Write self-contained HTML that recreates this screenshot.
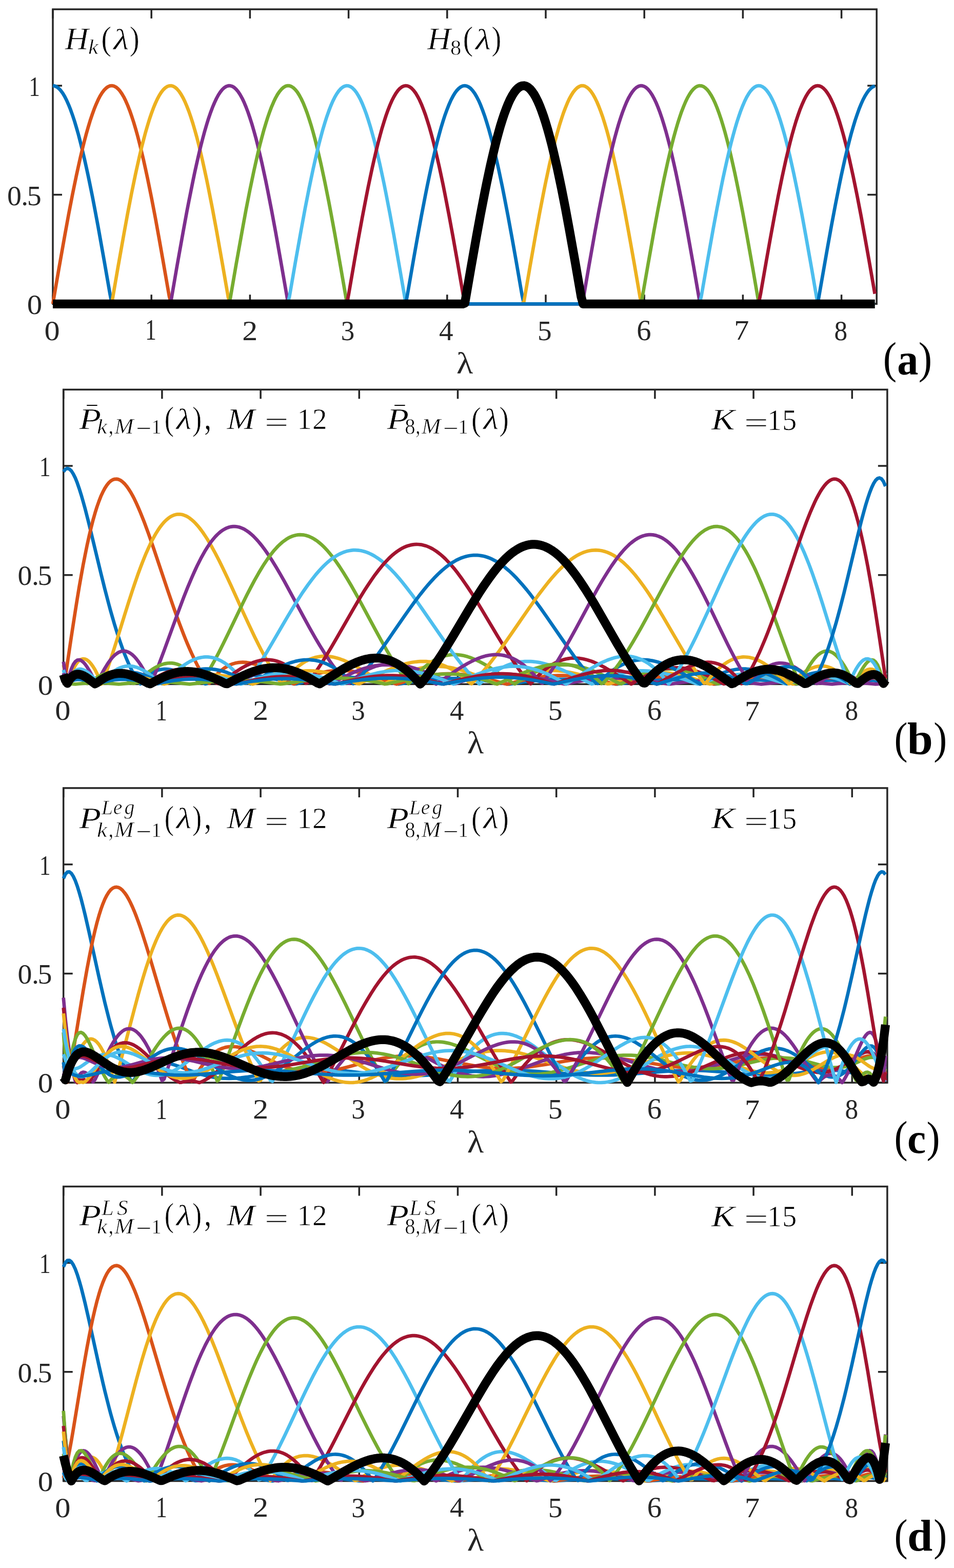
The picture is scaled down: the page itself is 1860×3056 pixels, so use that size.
<!DOCTYPE html>
<html lang="en"><head><meta charset="utf-8"><title>Polynomial approximations of spectral band-pass functions</title>
<style>
html,body{margin:0;padding:0;background:#fff}
svg{display:block}
.p path{fill:none;stroke-linejoin:round;stroke-linecap:butt}
text{font-family:"Liberation Serif","DejaVu Serif",serif;fill:#262626}
.m{font-style:italic;fill:#000;stroke:#fff;stroke-width:.7px;vector-effect:non-scaling-stroke}
.r{font-style:normal}
.b{font-style:normal;font-weight:bold}
.x{fill:#262626;stroke:none}
.b,.n{stroke:none}
</style></head>
<body>
<svg width="1860" height="3056" viewBox="0 0 1860 3056">
<rect width="1860" height="3056" fill="#fff"/>
<g class="p"><rect x="103.0" y="18.1" width="1606.20" height="574.20" fill="none" stroke="#262626" stroke-width="3.5"/>
<path d="M103.0 592.3v-18M103.0 18.1v18M295.2 592.3v-18M295.2 18.1v18M487.4 592.3v-18M487.4 18.1v18M679.6 592.3v-18M679.6 18.1v18M871.8 592.3v-18M871.8 18.1v18M1064.0 592.3v-18M1064.0 18.1v18M1256.2 592.3v-18M1256.2 18.1v18M1448.4 592.3v-18M1448.4 18.1v18M1640.6 592.3v-18M1640.6 18.1v18M103.0 592.3h18M1709.2 592.3h-18M103.0 379.6h18M1709.2 379.6h-18M103.0 167.0h18M1709.2 167.0h-18" fill="none" stroke="#262626" stroke-width="3.5"/>
<path d="M103 167L106.8 167.6L110.7 169.4L114.5 172.3L118.4 176.4L122.2 181.6L126.1 188L129.9 195.5L133.7 204.1L137.6 213.8L141.4 224.5L145.3 236.3L149.1 249L153 262.7L156.8 277.3L160.6 292.8L164.5 309.1L168.3 326.1L172.2 344L176 362.5L179.9 381.6L183.7 401.3L191.4 442.3L202.9 506.8L214.5 573.3L218.3 592.3L1705.7 592.3" stroke="#0072BD" stroke-width="6.7"/>
<path d="M103 592.3L114.5 525.4L126.1 460.2L133.7 418.5L141.4 378.7L145.3 359.6L149.1 341.2L153 323.5L156.8 306.5L160.6 290.4L164.5 275L168.3 260.6L172.2 247L176 234.4L179.9 222.9L183.7 212.3L187.6 202.8L191.4 194.3L195.2 187L199.1 180.8L202.9 175.7L206.8 171.8L210.6 169L214.5 167.4L218.3 167L222.1 167.8L226 169.7L229.8 172.8L233.7 177.1L237.5 182.5L241.4 189.1L245.2 196.8L249 205.5L252.9 215.4L256.7 226.3L260.6 238.2L264.4 251L268.3 264.9L272.1 279.6L275.9 295.2L279.8 311.6L283.6 328.8L287.5 346.7L291.3 365.3L295.2 384.6L302.9 424.7L310.5 466.7L318.2 510.1L329.8 576.7L333.6 592.3L1705.7 592.3" stroke="#D95319" stroke-width="6.7"/>
<path d="M103 592.3L214.5 592.3L218.3 588.9L229.8 522.1L241.4 457L249 415.4L256.7 375.7L260.6 356.8L264.4 338.5L268.3 320.9L272.1 304L275.9 288L279.8 272.8L283.6 258.5L287.5 245.1L291.3 232.6L295.2 221.2L299 210.8L302.9 201.4L306.7 193.1L310.5 186L314.4 179.9L318.2 175L322.1 171.3L325.9 168.7L329.8 167.3L333.6 167.1L337.4 168L341.3 170.1L345.1 173.4L349 177.9L352.8 183.5L356.7 190.2L360.5 198L364.3 207L368.2 217L372 228L375.9 240.1L379.7 253.1L383.6 267L387.4 281.9L391.2 297.6L395.1 314.2L398.9 331.5L402.8 349.5L406.6 368.2L414.3 407.4L422 448.7L433.5 513.4L445.1 580.1L448.9 592.3L1705.7 592.3" stroke="#EDB120" stroke-width="6.7"/>
<path d="M103 592.3L329.8 592.3L333.6 585.5L345.1 518.7L356.7 453.8L364.3 412.3L368.2 392.3L375.9 354L379.7 335.8L383.6 318.3L387.4 301.5L391.2 285.6L395.1 270.5L398.9 256.4L402.8 243.1L406.6 230.8L410.5 219.5L414.3 209.3L418.2 200.1L422 192L425.8 185L429.7 179.1L433.5 174.4L437.4 170.8L441.2 168.4L445.1 167.2L448.9 167.1L452.7 168.2L456.6 170.5L460.4 174L464.3 178.6L468.1 184.4L472 191.3L475.8 199.3L479.6 208.4L483.5 218.6L487.3 229.8L491.2 242L495 255.1L498.9 269.2L502.7 284.2L506.5 300.1L510.4 316.8L514.2 334.2L518.1 352.3L521.9 371.1L529.6 410.5L537.3 451.9L548.8 516.8L560.4 583.5L564.2 592.3L1705.7 592.3" stroke="#7E2F8E" stroke-width="6.7"/>
<path d="M103 592.3L445.1 592.3L448.9 582.1L460.4 515.4L472 450.6L479.6 409.2L487.3 369.9L491.2 351.2L495 333.1L498.9 315.7L502.7 299.1L506.5 283.3L510.4 268.3L514.2 254.3L518.1 241.2L521.9 229L525.8 217.9L529.6 207.8L533.5 198.8L537.3 190.8L541.1 184L545 178.3L548.8 173.8L552.7 170.4L556.5 168.1L560.4 167.1L564.2 167.2L568 168.5L571.9 171L575.7 174.6L579.6 179.4L583.4 185.4L587.3 192.5L591.1 200.6L594.9 209.9L598.8 220.2L602.6 231.6L606.5 243.9L610.3 257.2L614.2 271.5L618 286.6L621.8 302.6L625.7 319.3L629.5 336.9L633.4 355.1L641.1 393.5L644.9 413.6L652.6 455.1L664.1 520.1L675.7 586.9L679.5 592.3L1705.7 592.3" stroke="#77AC30" stroke-width="6.7"/>
<path d="M103 592.3L560.4 592.3L564.2 578.7L575.7 512.1L587.3 447.4L594.9 406.2L602.6 367L606.5 348.4L610.3 330.4L614.2 313.1L618 296.6L621.8 281L625.7 266.1L629.5 252.2L633.4 239.3L637.2 227.3L641.1 216.3L644.9 206.4L648.7 197.5L652.6 189.7L656.4 183.1L660.3 177.5L664.1 173.2L668 170L671.8 167.9L675.7 167L679.5 167.3L683.3 168.8L687.2 171.5L691 175.3L694.9 180.3L698.7 186.4L702.6 193.6L706.4 202L710.2 211.4L714.1 221.9L717.9 233.4L721.8 245.9L725.6 259.3L729.5 273.7L733.3 289L737.1 305.1L741 322L744.8 339.6L748.7 357.9L752.5 376.9L760.2 416.7L767.9 458.3L779.4 523.5L791 590.3L794.8 592.3L1705.7 592.3" stroke="#4DBEEE" stroke-width="6.7"/>
<path d="M103 592.3L675.7 592.3L679.5 575.3L691 508.7L698.7 465.4L706.4 423.4L714.1 383.4L717.9 364.2L721.8 345.6L725.6 327.7L729.5 310.6L733.3 294.2L737.1 278.7L741 264L744.8 250.2L748.7 237.4L752.5 225.6L756.4 214.7L760.2 205L764 196.3L767.9 188.7L771.7 182.2L775.6 176.8L779.4 172.6L783.3 169.6L787.1 167.7L791 167L794.8 167.5L798.6 169.1L802.5 172L806.3 176L810.2 181.1L814 187.4L817.9 194.8L821.7 203.3L825.5 212.9L829.4 223.5L833.2 235.2L837.1 247.8L840.9 261.4L844.8 276L848.6 291.4L852.4 307.6L856.3 324.6L860.1 342.3L864 360.8L867.8 379.9L875.5 419.8L883.2 461.6L890.9 504.8L902.4 571.3L906.3 592.3L1705.7 592.3" stroke="#A2142F" stroke-width="6.7"/>
<path d="M103 592.3L791 592.3L794.8 571.9L806.3 505.4L814 462.1L821.7 420.3L829.4 380.4L833.2 361.3L837.1 342.8L840.9 325.1L844.8 308L848.6 291.8L852.4 276.4L856.3 261.8L860.1 248.2L864 235.5L867.8 223.8L871.7 213.2L875.5 203.6L879.3 195L883.2 187.6L887 181.3L890.9 176.1L894.7 172.1L898.6 169.2L902.4 167.5L906.3 167L910.1 167.7L913.9 169.5L917.8 172.5L921.6 176.7L925.5 182L929.3 188.5L933.2 196L937 204.7L940.8 214.5L944.7 225.3L948.5 237.1L952.4 249.9L956.2 263.6L960.1 278.2L963.9 293.8L967.7 310.1L971.6 327.2L975.4 345.1L979.3 363.6L983.1 382.8L990.8 422.9L998.5 464.8L1006.2 508.1L1017.7 574.7L1021.6 592.3L1705.7 592.3" stroke="#0072BD" stroke-width="6.7"/>
<path d="M103 592.3L1017.7 592.3L1021.6 587.5L1033.1 520.7L1044.6 455.7L1052.3 414.1L1060 374.5L1063.8 355.6L1067.7 337.4L1071.5 319.8L1075.4 303L1079.2 287L1083 271.9L1086.9 257.6L1090.7 244.3L1094.6 231.9L1098.4 220.5L1102.3 210.2L1106.1 200.9L1109.9 192.7L1113.8 185.6L1117.6 179.6L1121.5 174.8L1125.3 171.1L1129.2 168.6L1133 167.2L1136.9 167.1L1140.7 168.1L1144.5 170.3L1148.4 173.7L1152.2 178.2L1156.1 183.8L1159.9 190.6L1163.8 198.6L1167.6 207.6L1171.4 217.6L1175.3 228.7L1179.1 240.8L1183 253.9L1186.8 267.9L1190.7 282.9L1194.5 298.6L1198.3 315.2L1202.2 332.6L1206 350.7L1209.9 369.4L1217.6 408.7L1225.2 450L1236.8 514.8L1248.3 581.5L1252.1 592.3L1705.7 592.3" stroke="#EDB120" stroke-width="6.7"/>
<path d="M103 592.3L1133 592.3L1136.9 584.1L1148.4 517.4L1159.9 452.5L1167.6 411L1175.3 371.6L1179.1 352.8L1183 334.7L1186.8 317.2L1190.7 300.5L1194.5 284.7L1198.3 269.6L1202.2 255.5L1206 242.3L1209.9 230.1L1213.7 218.9L1217.6 208.7L1221.4 199.5L1225.2 191.5L1229.1 184.6L1232.9 178.8L1236.8 174.1L1240.6 170.6L1244.5 168.3L1248.3 167.1L1252.1 167.2L1256 168.4L1259.8 170.7L1263.7 174.3L1267.5 179L1271.4 184.8L1275.2 191.8L1279.1 199.9L1282.9 209L1286.7 219.2L1290.6 230.5L1294.4 242.8L1298.3 256L1302.1 270.2L1306 285.2L1309.8 301.1L1313.6 317.8L1317.5 335.3L1321.3 353.5L1329 391.8L1332.9 411.8L1340.5 453.2L1352.1 518.1L1363.6 584.9L1367.4 592.3L1705.7 592.3" stroke="#7E2F8E" stroke-width="6.7"/>
<path d="M103 592.3L1248.3 592.3L1252.1 580.7L1263.7 514L1275.2 449.3L1282.9 408L1290.6 368.7L1294.4 350L1298.3 332L1302.1 314.6L1306 298.1L1309.8 282.3L1313.6 267.4L1317.5 253.4L1321.3 240.4L1325.2 228.3L1329 217.2L1332.9 207.2L1336.7 198.3L1340.5 190.4L1344.4 183.6L1348.2 178L1352.1 173.5L1355.9 170.2L1359.8 168L1363.6 167.1L1367.4 167.3L1371.3 168.6L1375.1 171.2L1379 174.9L1382.8 179.8L1386.7 185.8L1390.5 192.9L1394.4 201.2L1398.2 210.5L1402 220.9L1405.9 232.3L1409.7 244.7L1413.6 258.1L1417.4 272.4L1421.3 287.6L1425.1 303.6L1428.9 320.4L1432.8 338L1436.6 356.3L1440.5 375.2L1448.2 414.8L1455.8 456.4L1467.4 521.5L1478.9 588.3L1482.7 592.3L1705.7 592.3" stroke="#77AC30" stroke-width="6.7"/>
<path d="M103 592.3L1363.6 592.3L1367.4 577.3L1379 510.7L1390.5 446.1L1398.2 404.9L1405.9 365.8L1409.7 347.2L1413.6 329.3L1417.4 312.1L1421.3 295.6L1425.1 280L1428.9 265.3L1432.8 251.4L1436.6 238.5L1440.5 226.6L1444.3 215.7L1448.2 205.8L1452 197L1455.8 189.3L1459.7 182.7L1463.5 177.2L1467.4 172.9L1471.2 169.8L1475.1 167.8L1478.9 167L1482.7 167.4L1486.6 169L1490.4 171.7L1494.3 175.6L1498.1 180.6L1502 186.8L1505.8 194.1L1509.7 202.5L1513.5 212L1517.3 222.6L1521.2 234.1L1525 246.7L1528.9 260.2L1532.7 274.6L1536.6 289.9L1540.4 306.1L1544.2 323L1548.1 340.7L1551.9 359.1L1555.8 378.1L1563.5 417.9L1571.1 459.7L1582.7 524.8L1594.2 591.7L1598 592.3L1705.7 592.3" stroke="#4DBEEE" stroke-width="6.7"/>
<path d="M103 592.3L1478.9 592.3L1482.7 573.9L1494.3 507.3L1502 464L1509.7 422.1L1517.3 382.1L1521.2 363L1525 344.5L1528.9 326.6L1532.7 309.5L1536.6 293.2L1540.4 277.7L1544.2 263.1L1548.1 249.4L1551.9 236.6L1555.8 224.9L1559.6 214.1L1563.5 204.4L1567.3 195.8L1571.1 188.2L1575 181.8L1578.8 176.5L1582.7 172.4L1586.5 169.4L1590.4 167.6L1594.2 167L1598 167.6L1601.9 169.3L1605.7 172.2L1609.6 176.3L1613.4 181.5L1617.3 187.8L1621.1 195.3L1625 203.9L1628.8 213.5L1632.6 224.2L1636.5 236L1640.3 248.7L1644.2 262.3L1648 276.9L1651.9 292.3L1655.7 308.6L1659.5 325.7L1663.4 343.5L1667.2 362L1671.1 381.1L1678.8 421L1686.4 462.9L1694.1 506.2L1705.7 572.7" stroke="#A2142F" stroke-width="6.7"/>
<path d="M103 592.3L1594.2 592.3L1613.4 482.3L1621.1 439.7L1628.8 398.8L1636.5 360.1L1640.3 341.7L1644.2 324L1648 307L1651.9 290.8L1655.7 275.4L1659.5 260.9L1663.4 247.4L1667.2 234.8L1671.1 223.2L1674.9 212.6L1678.8 203L1682.6 194.5L1686.4 187.2L1690.3 180.9L1694.1 175.8L1698 171.9L1701.8 169.1L1705.7 167.5" stroke="#0072BD" stroke-width="6.7"/>
<path d="M103 592.3L902.4 592.3L906.3 590.9L917.8 524.1L929.3 458.9L937 417.2L944.7 377.5L948.5 358.5L952.4 340.1L956.2 322.4L960.1 305.5L963.9 289.4L967.7 274.1L971.6 259.7L975.4 246.2L979.3 233.7L983.1 222.2L987 211.7L990.8 202.2L994.6 193.8L998.5 186.6L1002.3 180.4L1006.2 175.4L1010 171.6L1013.9 168.9L1017.7 167.4L1021.6 167L1025.4 167.9L1029.2 169.9L1033.1 173.1L1036.9 177.4L1040.8 182.9L1044.6 189.5L1048.5 197.3L1052.3 206.1L1056.1 216L1060 227L1063.8 238.9L1067.7 251.9L1071.5 265.8L1075.4 280.5L1079.2 296.2L1083 312.7L1086.9 329.9L1090.7 347.9L1094.6 366.5L1102.3 405.6L1109.9 446.8L1121.5 511.5L1133 578.1L1136.9 592.3L1705.7 592.3" stroke="#000" stroke-width="17.3"/></g>
<g class="p"><rect x="123.7" y="759.3" width="1606.20" height="574.10" fill="none" stroke="#262626" stroke-width="3.5"/>
<path d="M123.7 1333.4v-18M123.7 759.3v18M315.9 1333.4v-18M315.9 759.3v18M508.1 1333.4v-18M508.1 759.3v18M700.3 1333.4v-18M700.3 759.3v18M892.5 1333.4v-18M892.5 759.3v18M1084.7 1333.4v-18M1084.7 759.3v18M1276.9 1333.4v-18M1276.9 759.3v18M1469.1 1333.4v-18M1469.1 759.3v18M1661.3 1333.4v-18M1661.3 759.3v18M123.7 1333.4h18M1729.9 1333.4h-18M123.7 1120.8h18M1729.9 1120.8h-18M123.7 908.1h18M1729.9 908.1h-18" fill="none" stroke="#262626" stroke-width="3.5"/>
<path d="M123.7 919.3L127.5 914.5L131.4 912.9L135.2 914.1L139.1 917.8L142.9 923.7L146.8 931.6L150.6 941.1L154.4 952.1L158.3 964.4L162.1 977.6L166 991.7L169.8 1006.5L173.7 1021.8L196.7 1117.2L204.4 1148.1L212.1 1177.5L215.9 1191.5L219.8 1205L223.6 1218.1L227.5 1230.5L231.3 1242.4L235.2 1253.7L239 1264.4L242.8 1274.5L246.7 1284L250.5 1292.9L254.4 1301.2L258.2 1308.9L262.1 1316L265.9 1322.5L269.7 1328.5L273.6 1332.9L277.4 1328L281.3 1323.7L285.1 1319.8L289 1316.5L292.8 1313.6L296.6 1311.1L300.5 1309L304.3 1307.4L308.2 1306.1L312 1305.1L315.9 1304.5L319.7 1304.2L323.6 1304.1L327.4 1304.4L331.2 1304.8L335.1 1305.5L338.9 1306.4L342.8 1307.4L346.6 1308.7L350.5 1310L358.1 1313.1L365.8 1316.5L373.5 1320.1L392.7 1329.4L400.4 1333L404.3 1332.1L411.9 1328.9L415.8 1327.3L423.5 1324.5L427.3 1323.2L435 1320.9L442.7 1319L450.4 1317.5L458.1 1316.4L465.8 1315.6L469.6 1315.4L477.3 1315.2L485 1315.3L488.8 1315.6L496.5 1316.2L504.2 1317.1L515.7 1319L527.2 1321.4L538.8 1324L550.3 1326.9L573.4 1332.9L577.2 1332.9L592.6 1329.2L604.1 1326.7L615.6 1324.5L627.2 1322.7L638.7 1321.3L650.2 1320.4L657.9 1320L669.4 1319.8L681 1320L692.5 1320.7L704 1321.7L715.6 1323L727.1 1324.6L738.6 1326.5L754 1329.1L777.1 1333.3L780.9 1332.8L800.1 1329.4L811.7 1327.7L823.2 1326.1L834.7 1324.7L846.2 1323.6L857.8 1322.9L869.3 1322.4L880.8 1322.3L892.4 1322.4L903.9 1322.9L915.4 1323.6L927 1324.7L938.5 1325.9L953.9 1327.8L992.3 1333.4L1007.7 1331.1L1023 1329L1034.6 1327.6L1046.1 1326.4L1057.6 1325.3L1069.2 1324.6L1080.7 1324L1092.2 1323.8L1103.7 1323.8L1115.3 1324.2L1126.8 1324.7L1138.3 1325.6L1149.9 1326.6L1165.2 1328.3L1180.6 1330.3L1199.8 1332.9L1203.7 1333.3L1230.6 1329.7L1242.1 1328.3L1253.6 1327.1L1265.2 1326.1L1276.7 1325.4L1288.2 1324.9L1295.9 1324.8L1303.6 1324.8L1315.1 1325L1326.7 1325.6L1338.2 1326.4L1345.9 1327.1L1357.4 1328.3L1372.8 1330.3L1392 1333L1395.8 1333.2L1418.9 1329.9L1430.4 1328.5L1438.1 1327.6L1449.6 1326.5L1457.3 1326L1465 1325.6L1472.7 1325.4L1480.4 1325.4L1488.1 1325.6L1495.8 1326L1507.3 1326.8L1515 1327.6L1522.7 1328.6L1534.2 1330.3L1549.6 1333L1553.4 1333.2L1572.6 1329.8L1580.3 1328.6L1588 1327.6L1595.7 1326.7L1599.5 1326.4L1607.2 1325.9L1611.1 1325.8L1618.7 1325.9L1622.6 1326L1630.3 1326.6L1634.1 1327.1L1638 1327.6L1645.7 1329L1653.3 1330.6L1661 1332.6L1664.9 1333.2L1676.4 1330.1L1684.1 1328.2L1687.9 1327.4L1691.8 1326.7L1695.6 1326.3L1699.5 1326.1L1703.3 1326.2L1707.1 1326.6L1711 1327.5L1714.8 1328.9L1718.7 1330.9L1722.5 1333.3L1726.4 1329.8" stroke="#0072BD" stroke-width="6.7"/>
<path d="M123.7 1321.9L127.5 1318.8L139.1 1240.8L146.8 1191L150.6 1167.1L154.4 1144.1L158.3 1122.1L162.1 1101.2L166 1081.3L169.8 1062.6L173.7 1045.1L177.5 1028.9L181.3 1014L185.2 1000.3L189 988L192.9 977L196.7 967.2L200.6 958.8L204.4 951.6L208.3 945.6L212.1 940.9L215.9 937.4L219.8 935L223.6 933.8L227.5 933.6L231.3 934.4L235.2 936.3L239 939.1L242.8 942.7L246.7 947.3L250.5 952.6L254.4 958.7L258.2 965.4L262.1 972.8L265.9 980.9L269.7 989.4L273.6 998.5L277.4 1007.9L281.3 1017.8L289 1038.6L292.8 1049.4L300.5 1071.7L327.4 1151.8L338.9 1185.2L346.6 1206.5L350.5 1216.9L358.1 1236.8L362 1246.4L365.8 1255.6L369.7 1264.6L373.5 1273.2L377.4 1281.5L381.2 1289.4L385 1297L388.9 1304.2L392.7 1311.1L396.6 1317.6L400.4 1323.8L404.3 1329.6L408.1 1331.8L411.9 1326.7L415.8 1322L419.6 1317.7L423.5 1313.7L427.3 1310L431.2 1306.7L435 1303.8L438.9 1301.1L442.7 1298.8L446.5 1296.8L450.4 1295.1L454.2 1293.7L458.1 1292.6L461.9 1291.7L465.8 1291.1L469.6 1290.8L473.4 1290.7L477.3 1290.8L481.1 1291.2L485 1291.7L488.8 1292.5L492.7 1293.4L496.5 1294.5L500.3 1295.7L504.2 1297.1L508 1298.7L515.7 1302L519.6 1303.9L527.2 1307.8L538.8 1314.1L561.8 1327.3L569.5 1331.6L573.4 1333.1L584.9 1327.1L592.6 1323.4L596.4 1321.7L604.1 1318.5L608 1317L615.6 1314.3L619.5 1313.1L627.2 1311L631 1310.1L638.7 1308.6L642.5 1308L650.2 1307.2L654.1 1306.9L661.8 1306.6L665.6 1306.6L673.3 1306.9L677.1 1307.2L684.8 1308.1L688.7 1308.6L696.4 1309.9L700.2 1310.7L707.9 1312.4L719.4 1315.5L727.1 1317.7L734.8 1320.2L746.3 1324L773.2 1333.3L777.1 1332.2L792.4 1327.2L804 1323.8L815.5 1320.7L827 1318.1L838.6 1316.1L846.2 1315L850.1 1314.5L857.8 1313.8L861.6 1313.5L865.5 1313.3L873.1 1313.1L877 1313.1L884.7 1313.3L896.2 1314L907.7 1315.2L915.4 1316.3L923.1 1317.6L934.6 1319.9L950 1323.4L965.4 1327.3L988.4 1333.4L1003.8 1329.4L1019.2 1325.7L1030.7 1323.2L1042.3 1321L1053.8 1319.3L1065.3 1317.9L1076.8 1317L1088.4 1316.6L1099.9 1316.7L1111.4 1317.2L1123 1318.2L1130.6 1319.1L1138.3 1320.2L1149.9 1322.2L1165.2 1325.3L1180.6 1328.7L1199.8 1333.3L1203.7 1332.6L1219 1329L1230.6 1326.4L1242.1 1324.2L1253.6 1322.2L1265.2 1320.6L1276.7 1319.5L1288.2 1318.8L1295.9 1318.6L1303.6 1318.7L1315.1 1319.2L1326.7 1320.3L1338.2 1321.8L1349.7 1323.7L1361.2 1326L1372.8 1328.6L1392 1333.3L1395.8 1332.6L1411.2 1328.9L1422.7 1326.3L1430.4 1324.7L1438.1 1323.3L1449.6 1321.6L1457.3 1320.8L1465 1320.2L1472.7 1320L1480.4 1320L1488.1 1320.3L1495.8 1321L1499.6 1321.5L1507.3 1322.6L1515 1324L1526.5 1326.6L1538 1329.6L1549.6 1333L1553.4 1332.7L1564.9 1329.3L1572.6 1327.1L1580.3 1325.2L1588 1323.5L1595.7 1322.1L1599.5 1321.6L1603.4 1321.2L1607.2 1320.9L1611.1 1320.8L1614.9 1320.8L1618.7 1320.9L1622.6 1321.2L1626.4 1321.6L1630.3 1322.2L1634.1 1323L1638 1323.9L1641.8 1325L1645.7 1326.2L1653.3 1329L1661 1332.2L1664.9 1332.9L1676.4 1327.7L1680.2 1326.1L1684.1 1324.6L1687.9 1323.3L1691.8 1322.2L1695.6 1321.5L1699.5 1321.2L1703.3 1321.4L1707.1 1322.2L1711 1323.7L1714.8 1326L1718.7 1329.3L1722.5 1333.1L1726.4 1327.5" stroke="#D95319" stroke-width="6.7"/>
<path d="M123.7 1296L127.5 1313.4L131.4 1328.7L135.2 1325L139.1 1313.8L142.9 1304.5L146.8 1297L150.6 1291.3L154.4 1287.3L158.3 1284.9L162.1 1284L166 1284.5L169.8 1286.3L173.7 1289.4L177.5 1293.7L181.3 1299L185.2 1305.3L189 1312.6L192.9 1320.7L196.7 1329.5L200.6 1327.8L204.4 1317.7L208.3 1307L212.1 1295.9L215.9 1284.5L219.8 1272.7L227.5 1248.4L242.8 1198.9L250.5 1174.4L258.2 1150.7L262.1 1139.2L269.7 1117.2L273.6 1106.8L277.4 1096.7L281.3 1087L285.1 1077.8L289 1069.1L292.8 1060.8L296.6 1053.1L300.5 1045.9L304.3 1039.2L308.2 1033L312 1027.4L315.9 1022.4L319.7 1017.9L323.6 1014L327.4 1010.7L331.2 1007.9L335.1 1005.7L338.9 1004L342.8 1002.9L346.6 1002.3L350.5 1002.3L354.3 1002.8L358.1 1003.8L362 1005.3L365.8 1007.3L369.7 1009.8L373.5 1012.8L377.4 1016.2L381.2 1020L385 1024.2L388.9 1028.9L392.7 1033.9L396.6 1039.3L400.4 1045L404.3 1051L408.1 1057.3L411.9 1064L419.6 1078L427.3 1092.8L435 1108.5L442.7 1124.6L450.4 1141.2L473.4 1191.9L485 1216.9L496.5 1241.2L504.2 1256.7L508 1264.2L515.7 1278.8L519.6 1285.8L527.2 1299.3L531.1 1305.7L538.8 1317.9L542.6 1323.6L546.5 1329.1L550.3 1332.4L554.2 1327.4L558 1322.6L561.8 1318.1L565.7 1313.8L569.5 1309.8L573.4 1306L577.2 1302.5L581.1 1299.2L584.9 1296.2L588.7 1293.5L592.6 1291L596.4 1288.7L600.3 1286.7L604.1 1284.9L608 1283.4L611.8 1282.1L615.6 1281L619.5 1280.2L623.3 1279.6L627.2 1279.2L631 1278.9L634.9 1278.9L638.7 1279.1L642.5 1279.5L646.4 1280.1L650.2 1280.8L654.1 1281.7L657.9 1282.7L661.8 1283.9L665.6 1285.3L669.4 1286.7L677.1 1290L681 1291.9L688.7 1295.8L692.5 1297.9L700.2 1302.3L707.9 1306.9L715.6 1311.7L746.3 1331.2L750.2 1333.2L757.8 1328.6L765.5 1324.2L773.2 1320.1L777.1 1318.1L784.7 1314.4L792.4 1311.1L800.1 1308.1L804 1306.7L811.7 1304.3L815.5 1303.3L823.2 1301.5L827 1300.8L830.9 1300.2L838.6 1299.3L842.4 1299L850.1 1298.7L853.9 1298.7L861.6 1299.1L865.5 1299.4L873.1 1300.3L877 1300.9L884.7 1302.4L892.4 1304.2L900 1306.4L911.6 1310L919.3 1312.8L927 1315.7L942.3 1322L965.4 1331.8L969.2 1333.4L984.6 1327L992.3 1324L1000 1321.2L1007.7 1318.5L1015.3 1316.1L1023 1313.9L1026.9 1312.9L1034.6 1311.1L1038.4 1310.3L1046.1 1309L1049.9 1308.4L1057.6 1307.6L1061.5 1307.2L1069.2 1306.9L1073 1306.8L1076.8 1306.8L1084.5 1307.1L1088.4 1307.3L1096.1 1308.1L1099.9 1308.5L1107.6 1309.7L1115.3 1311.2L1123 1312.9L1134.5 1315.9L1142.2 1318.2L1149.9 1320.6L1165.2 1325.9L1184.5 1332.8L1188.3 1332.6L1203.7 1327.2L1211.4 1324.6L1219 1322.2L1230.6 1318.9L1242.1 1316L1249.8 1314.5L1253.6 1313.8L1261.3 1312.6L1265.2 1312.2L1272.8 1311.5L1276.7 1311.2L1284.4 1311L1292.1 1311.1L1295.9 1311.3L1303.6 1311.9L1307.4 1312.4L1315.1 1313.5L1319 1314.1L1326.7 1315.7L1330.5 1316.5L1338.2 1318.5L1349.7 1321.8L1361.2 1325.5L1380.5 1332.3L1384.3 1333.1L1399.7 1327.6L1411.2 1323.8L1422.7 1320.4L1430.4 1318.4L1438.1 1316.7L1442 1315.9L1449.6 1314.7L1457.3 1313.9L1465 1313.5L1472.7 1313.6L1476.5 1313.7L1484.2 1314.4L1491.9 1315.5L1495.8 1316.2L1503.4 1318L1511.1 1320.1L1515 1321.3L1522.7 1324L1534.2 1328.4L1545.7 1333.2L1549.6 1332L1561.1 1327.1L1568.8 1324.1L1576.5 1321.3L1584.2 1318.9L1588 1317.9L1591.8 1317L1595.7 1316.2L1599.5 1315.6L1603.4 1315.2L1607.2 1315L1611.1 1315L1614.9 1315.1L1618.7 1315.5L1622.6 1316.1L1626.4 1316.9L1630.3 1317.9L1634.1 1319.1L1638 1320.5L1641.8 1322.2L1645.7 1324L1649.5 1326L1653.3 1328.1L1661 1332.8L1664.9 1331.5L1676.4 1324.2L1680.2 1322L1684.1 1320L1687.9 1318.2L1691.8 1316.9L1695.6 1316L1699.5 1315.7L1703.3 1316.1L1707.1 1317.4L1711 1319.7L1714.8 1323.1L1722.5 1332.6L1726.4 1324.6" stroke="#EDB120" stroke-width="6.7"/>
<path d="M123.7 1289.8L127.5 1315L131.4 1331.5L135.2 1315.5L139.1 1303.5L142.9 1295L146.8 1289.5L150.6 1286.6L154.4 1286L158.3 1287.3L162.1 1290.3L166 1294.6L169.8 1299.9L173.7 1306.2L177.5 1313L185.2 1327.8L189 1331.4L196.7 1316.4L200.6 1309.2L204.4 1302.5L208.3 1296.2L212.1 1290.4L215.9 1285.3L219.8 1280.7L223.6 1276.9L227.5 1273.8L231.3 1271.4L235.2 1269.8L239 1269L242.8 1268.9L246.7 1269.6L250.5 1271.1L254.4 1273.3L258.2 1276.2L262.1 1279.9L265.9 1284.2L269.7 1289.2L273.6 1294.8L277.4 1301L281.3 1307.8L285.1 1315.1L289 1322.9L292.8 1331.2L296.6 1327L300.5 1317.9L308.2 1298.9L312 1289L319.7 1268.6L342.8 1205.4L350.5 1184.6L358.1 1164.4L365.8 1145L373.5 1126.7L377.4 1117.9L381.2 1109.5L385 1101.4L388.9 1093.7L392.7 1086.3L396.6 1079.3L400.4 1072.7L404.3 1066.5L408.1 1060.8L411.9 1055.5L415.8 1050.6L419.6 1046.1L423.5 1042.1L427.3 1038.6L431.2 1035.4L435 1032.8L438.9 1030.6L442.7 1028.8L446.5 1027.5L450.4 1026.6L454.2 1026.1L458.1 1026.1L461.9 1026.5L465.8 1027.3L469.6 1028.5L473.4 1030.1L477.3 1032.1L481.1 1034.5L485 1037.2L488.8 1040.3L492.7 1043.7L496.5 1047.5L500.3 1051.5L504.2 1055.9L508 1060.5L511.9 1065.4L515.7 1070.6L519.6 1076L523.4 1081.6L531.1 1093.4L538.8 1106L546.5 1119.1L554.2 1132.7L561.8 1146.7L592.6 1203.7L604.1 1224.6L615.6 1244.8L623.3 1257.8L627.2 1264L634.9 1276.2L642.5 1287.7L650.2 1298.6L654.1 1303.8L661.8 1313.6L665.6 1318.3L669.4 1322.7L673.3 1327L677.1 1331.1L681 1331.8L684.8 1328.2L688.7 1324.7L692.5 1321.4L696.4 1318.3L700.2 1315.4L704 1312.7L707.9 1310.2L711.7 1307.9L715.6 1305.8L719.4 1303.8L723.3 1302.1L727.1 1300.5L730.9 1299.1L734.8 1297.9L738.6 1296.9L742.5 1296L746.3 1295.3L750.2 1294.8L754 1294.4L757.8 1294.1L761.7 1294.1L765.5 1294.1L769.4 1294.3L773.2 1294.6L777.1 1295L784.7 1296.2L788.6 1297L796.3 1298.8L800.1 1299.9L807.8 1302.2L819.3 1306.2L830.9 1310.6L842.4 1315.4L869.3 1326.8L884.7 1333L888.5 1332.4L896.2 1329.5L903.9 1326.9L915.4 1323.3L927 1320.2L934.6 1318.5L942.3 1317L946.2 1316.4L953.9 1315.3L957.7 1314.9L961.5 1314.5L969.2 1313.9L973.1 1313.8L980.8 1313.6L984.6 1313.7L992.3 1313.9L1003.8 1314.7L1015.3 1315.9L1026.9 1317.6L1038.4 1319.6L1053.8 1322.7L1065.3 1325.2L1099.9 1333.1L1103.7 1332.9L1119.1 1329.7L1134.5 1326.9L1146 1325.2L1153.7 1324.2L1165.2 1323L1176.8 1322.2L1184.5 1321.8L1196 1321.6L1203.7 1321.7L1215.2 1322.1L1226.7 1322.9L1238.3 1323.9L1249.8 1325.2L1265.2 1327.2L1303.6 1333.1L1307.4 1333.2L1319 1331.5L1330.5 1330L1342 1328.7L1353.6 1327.6L1365.1 1326.8L1372.8 1326.4L1384.3 1326L1392 1326L1399.7 1326.1L1411.2 1326.5L1418.9 1326.9L1430.4 1327.7L1449.6 1329.5L1480.4 1333L1484.2 1333.3L1503.4 1331.3L1518.8 1330L1526.5 1329.5L1534.2 1329.1L1541.9 1328.9L1549.6 1328.8L1557.3 1328.8L1564.9 1329L1572.6 1329.3L1580.3 1329.8L1595.7 1331L1618.7 1333.2L1622.6 1333.3L1634.1 1332.2L1645.7 1331.4L1657.2 1331L1664.9 1330.9L1672.6 1331L1684.1 1331.5L1691.8 1332L1707.1 1333.3L1718.7 1332.7L1726.4 1332.6" stroke="#7E2F8E" stroke-width="6.7"/>
<path d="M123.7 1321.8L127.5 1330.9L131.4 1329.1L135.2 1324.4L139.1 1321.4L142.9 1319.9L146.8 1319.6L150.6 1320.3L154.4 1321.8L158.3 1323.9L162.1 1326.4L166 1329.2L169.8 1332.2L173.7 1331.5L181.3 1325.6L185.2 1322.8L189 1320.3L192.9 1318.1L196.7 1316.2L200.6 1314.6L204.4 1313.4L208.3 1312.6L212.1 1312.1L215.9 1312.1L219.8 1312.4L223.6 1313L227.5 1314.1L231.3 1315.4L235.2 1317.1L239 1319L242.8 1321.2L246.7 1323.6L250.5 1326.2L258.2 1331.9L262.1 1331.8L281.3 1316.2L289 1310.2L292.8 1307.5L296.6 1304.9L300.5 1302.4L304.3 1300.2L308.2 1298.3L312 1296.5L315.9 1295.1L319.7 1293.9L323.6 1293.1L327.4 1292.5L331.2 1292.3L335.1 1292.4L338.9 1292.9L342.8 1293.7L346.6 1294.9L350.5 1296.5L354.3 1298.4L358.1 1300.7L362 1303.3L365.8 1306.3L369.7 1309.7L373.5 1313.4L377.4 1317.5L381.2 1321.9L385 1326.6L388.9 1331.6L392.7 1329.8L396.6 1324.2L400.4 1318.3L404.3 1312.1L411.9 1299L419.6 1285.1L427.3 1270.4L435 1255.1L446.5 1231.5L465.8 1191.4L473.4 1175.6L481.1 1160.1L488.8 1145.1L496.5 1130.7L504.2 1117.1L511.9 1104.3L515.7 1098.3L519.6 1092.5L523.4 1087L527.2 1081.8L531.1 1076.9L534.9 1072.2L538.8 1067.9L542.6 1063.9L546.5 1060.2L550.3 1056.9L554.2 1053.9L558 1051.2L561.8 1048.8L565.7 1046.8L569.5 1045.2L573.4 1043.9L577.2 1043L581.1 1042.4L584.9 1042.2L588.7 1042.3L592.6 1042.7L596.4 1043.5L600.3 1044.7L604.1 1046.2L608 1048L611.8 1050.1L615.6 1052.6L619.5 1055.3L623.3 1058.4L627.2 1061.8L631 1065.4L634.9 1069.4L638.7 1073.6L642.5 1078.1L646.4 1082.8L650.2 1087.7L654.1 1092.9L661.8 1104L669.4 1115.7L677.1 1128.2L684.8 1141.3L692.5 1154.8L700.2 1168.6L707.9 1182.8L730.9 1225.7L742.5 1246.8L754 1267.3L761.7 1280.4L769.4 1293.1L773.2 1299.2L780.9 1311L788.6 1322.1L796.3 1332.5L800.1 1329.4L804 1324.7L807.8 1320.2L811.7 1315.9L815.5 1311.8L819.3 1308L823.2 1304.3L827 1300.9L830.9 1297.7L834.7 1294.7L838.6 1291.9L842.4 1289.3L846.2 1287L850.1 1284.9L853.9 1283.1L857.8 1281.4L861.6 1280L865.5 1278.8L869.3 1277.8L873.1 1277L877 1276.4L880.8 1276L884.7 1275.9L888.5 1275.9L892.4 1276.1L896.2 1276.5L900 1277.1L903.9 1277.8L907.7 1278.8L911.6 1279.8L915.4 1281.1L919.3 1282.5L923.1 1284L930.8 1287.4L934.6 1289.3L942.3 1293.4L946.2 1295.6L953.9 1300.2L961.5 1305.1L969.2 1310.2L1000 1331.3L1003.8 1333L1011.5 1327.9L1019.2 1323.1L1026.9 1318.6L1030.7 1316.4L1038.4 1312.4L1042.3 1310.5L1049.9 1307L1053.8 1305.4L1061.5 1302.6L1065.3 1301.3L1073 1299.2L1076.8 1298.3L1080.7 1297.6L1084.5 1297L1088.4 1296.5L1092.2 1296.1L1096.1 1295.9L1099.9 1295.8L1103.7 1295.8L1107.6 1295.9L1111.4 1296.2L1115.3 1296.5L1123 1297.7L1126.8 1298.4L1134.5 1300.2L1138.3 1301.3L1146 1303.7L1149.9 1305L1157.6 1307.9L1161.4 1309.5L1169.1 1312.9L1176.8 1316.5L1184.5 1320.2L1207.5 1332.1L1211.4 1332.8L1226.7 1325.1L1238.3 1319.8L1245.9 1316.5L1249.8 1315L1257.5 1312.2L1261.3 1310.9L1269 1308.7L1272.8 1307.7L1280.5 1306L1284.4 1305.4L1292.1 1304.4L1295.9 1304.1L1303.6 1303.8L1311.3 1304L1315.1 1304.3L1322.8 1305.2L1326.7 1305.9L1334.3 1307.5L1338.2 1308.4L1345.9 1310.6L1353.6 1313.2L1357.4 1314.6L1365.1 1317.7L1376.6 1322.8L1384.3 1326.4L1395.8 1332L1399.7 1332.9L1411.2 1327.4L1422.7 1322.1L1430.4 1318.9L1434.3 1317.4L1442 1314.6L1449.6 1312.3L1453.5 1311.3L1457.3 1310.4L1461.2 1309.7L1465 1309.1L1468.9 1308.6L1472.7 1308.2L1476.5 1308.1L1480.4 1308L1484.2 1308.1L1488.1 1308.4L1491.9 1308.8L1495.8 1309.4L1499.6 1310.1L1503.4 1310.9L1507.3 1311.9L1511.1 1313.1L1515 1314.4L1518.8 1315.8L1522.7 1317.4L1530.4 1320.8L1534.2 1322.6L1541.9 1326.6L1553.4 1332.9L1557.3 1331.7L1568.8 1325.4L1576.5 1321.4L1584.2 1317.8L1588 1316.2L1591.8 1314.7L1595.7 1313.5L1599.5 1312.4L1603.4 1311.5L1607.2 1310.9L1611.1 1310.5L1614.9 1310.3L1618.7 1310.4L1622.6 1310.9L1626.4 1311.5L1630.3 1312.5L1634.1 1313.8L1638 1315.4L1641.8 1317.2L1645.7 1319.4L1649.5 1321.8L1653.3 1324.4L1657.2 1327.2L1664.9 1333.3L1668.7 1330.3L1676.4 1323.9L1680.2 1320.9L1684.1 1318.1L1687.9 1315.6L1691.8 1313.6L1695.6 1312.2L1699.5 1311.5L1703.3 1311.8L1707.1 1313.1L1711 1315.7L1714.8 1319.8L1718.7 1325.7L1722.5 1333.2L1726.4 1323" stroke="#77AC30" stroke-width="6.7"/>
<path d="M123.7 1305.7L127.5 1320.5L131.4 1332.6L135.2 1324.5L139.1 1317.1L142.9 1311.5L146.8 1307.6L150.6 1305.3L154.4 1304.2L158.3 1304.2L162.1 1305.2L166 1307L169.8 1309.5L173.7 1312.5L177.5 1315.9L181.3 1319.6L185.2 1323.5L192.9 1331.7L196.7 1331L204.4 1323.1L208.3 1319.4L212.1 1315.9L215.9 1312.7L219.8 1309.7L223.6 1307.1L227.5 1304.8L231.3 1302.8L235.2 1301.1L239 1299.8L242.8 1298.9L246.7 1298.3L250.5 1298.1L254.4 1298.2L258.2 1298.6L262.1 1299.4L265.9 1300.4L269.7 1301.8L273.6 1303.5L277.4 1305.4L281.3 1307.5L285.1 1309.9L289 1312.5L292.8 1315.3L300.5 1321.3L304.3 1324.5L312 1331.1L315.9 1332.2L335.1 1315L342.8 1308.5L346.6 1305.3L354.3 1299.5L358.1 1296.7L362 1294.2L365.8 1291.8L369.7 1289.6L373.5 1287.7L377.4 1285.9L381.2 1284.4L385 1283.1L388.9 1282.1L392.7 1281.3L396.6 1280.7L400.4 1280.4L404.3 1280.4L408.1 1280.7L411.9 1281.2L415.8 1282.1L419.6 1283.1L423.5 1284.5L427.3 1286.2L431.2 1288.1L435 1290.3L438.9 1292.7L442.7 1295.4L446.5 1298.4L450.4 1301.7L454.2 1305.2L458.1 1308.9L461.9 1312.9L465.8 1317.1L469.6 1321.5L473.4 1326.1L477.3 1331L481.1 1330.8L488.8 1320.2L496.5 1308.9L504.2 1297.1L511.9 1284.8L519.6 1272.1L527.2 1259.1L550.3 1219.5L561.8 1199.9L573.4 1180.8L581.1 1168.5L588.7 1156.7L592.6 1151L600.3 1140L608 1129.7L615.6 1120L619.5 1115.5L623.3 1111.2L627.2 1107L631 1103.1L634.9 1099.4L638.7 1095.9L642.5 1092.7L646.4 1089.6L650.2 1086.8L654.1 1084.3L657.9 1082L661.8 1079.9L665.6 1078.1L669.4 1076.5L673.3 1075.1L677.1 1074L681 1073.2L684.8 1072.6L688.7 1072.2L692.5 1072.1L696.4 1072.3L700.2 1072.7L704 1073.3L707.9 1074.2L711.7 1075.3L715.6 1076.6L719.4 1078.2L723.3 1080L727.1 1082L730.9 1084.2L734.8 1086.7L738.6 1089.3L742.5 1092.2L746.3 1095.2L750.2 1098.5L754 1101.9L757.8 1105.5L761.7 1109.3L769.4 1117.3L777.1 1125.9L784.7 1135.1L792.4 1144.8L804 1160L811.7 1170.6L823.2 1187L857.8 1237.2L869.3 1253.7L880.8 1269.7L892.4 1285L900 1294.8L903.9 1299.5L911.6 1308.7L915.4 1313L923.1 1321.5L927 1325.5L934.6 1333.1L938.5 1330.1L946.2 1323.3L950 1320.1L953.9 1317.1L957.7 1314.3L961.5 1311.5L965.4 1309L969.2 1306.6L973.1 1304.3L976.9 1302.3L980.8 1300.3L984.6 1298.5L988.4 1296.9L992.3 1295.5L996.1 1294.2L1000 1293L1003.8 1292L1007.7 1291.1L1011.5 1290.4L1015.3 1289.9L1019.2 1289.5L1023 1289.2L1026.9 1289.1L1030.7 1289L1034.6 1289.2L1038.4 1289.4L1042.3 1289.8L1049.9 1290.9L1053.8 1291.6L1061.5 1293.4L1069.2 1295.6L1076.8 1298.1L1080.7 1299.4L1088.4 1302.4L1096.1 1305.6L1103.7 1309L1115.3 1314.4L1142.2 1327.5L1153.7 1333.1L1157.6 1331.9L1165.2 1328.5L1172.9 1325.2L1184.5 1320.6L1192.1 1317.9L1196 1316.6L1203.7 1314.3L1207.5 1313.3L1215.2 1311.4L1219 1310.6L1226.7 1309.3L1230.6 1308.7L1238.3 1307.9L1242.1 1307.6L1249.8 1307.4L1253.6 1307.3L1261.3 1307.6L1265.2 1307.8L1272.8 1308.6L1276.7 1309.1L1284.4 1310.3L1288.2 1311L1295.9 1312.7L1307.4 1315.6L1319 1319L1334.3 1324.1L1357.4 1332.3L1361.2 1333.1L1376.6 1327.8L1388.1 1324.2L1399.7 1321L1407.4 1319.1L1415.1 1317.6L1418.9 1316.9L1426.6 1315.8L1434.3 1315L1438.1 1314.7L1445.8 1314.4L1453.5 1314.5L1457.3 1314.7L1465 1315.4L1472.7 1316.4L1476.5 1317L1484.2 1318.5L1491.9 1320.3L1503.4 1323.5L1515 1327.2L1530.4 1332.5L1534.2 1332.9L1545.7 1328.9L1553.4 1326.4L1561.1 1324.1L1568.8 1322L1576.5 1320.3L1584.2 1319L1588 1318.5L1591.8 1318.1L1595.7 1317.9L1599.5 1317.8L1603.4 1317.9L1607.2 1318.1L1611.1 1318.5L1614.9 1319L1618.7 1319.7L1622.6 1320.5L1626.4 1321.4L1630.3 1322.6L1634.1 1323.8L1638 1325.2L1645.7 1328.3L1653.3 1331.8L1657.2 1333.2L1668.7 1327.7L1676.4 1324.3L1680.2 1322.8L1684.1 1321.5L1687.9 1320.5L1691.8 1319.8L1695.6 1319.5L1699.5 1319.6L1703.3 1320.3L1707.1 1321.5L1711 1323.5L1714.8 1326.3L1718.7 1330L1722.5 1332L1726.4 1326.2" stroke="#4DBEEE" stroke-width="6.7"/>
<path d="M123.7 1315.4L127.5 1326.8L131.4 1331.1L135.2 1324.4L139.1 1319.7L142.9 1316.6L146.8 1315L150.6 1314.5L154.4 1315L158.3 1316.3L162.1 1318.2L166 1320.6L169.8 1323.4L173.7 1326.3L181.3 1332.6L185.2 1331.1L189 1328L192.9 1325.2L196.7 1322.5L200.6 1320.1L204.4 1317.9L208.3 1316.1L212.1 1314.5L215.9 1313.3L219.8 1312.3L223.6 1311.7L227.5 1311.5L231.3 1311.5L235.2 1311.8L239 1312.4L242.8 1313.3L246.7 1314.4L250.5 1315.8L254.4 1317.3L258.2 1319.1L262.1 1321L265.9 1323.1L273.6 1327.5L281.3 1332.3L285.1 1332.1L296.6 1324.9L304.3 1320.4L308.2 1318.2L315.9 1314.3L319.7 1312.5L323.6 1310.9L327.4 1309.5L331.2 1308.2L335.1 1307.1L338.9 1306.1L342.8 1305.4L346.6 1304.9L350.5 1304.5L354.3 1304.4L358.1 1304.5L362 1304.7L365.8 1305.2L369.7 1305.8L373.5 1306.7L377.4 1307.7L381.2 1309L385 1310.4L388.9 1311.9L392.7 1313.6L396.6 1315.5L404.3 1319.7L411.9 1324.3L415.8 1326.7L423.5 1331.9L427.3 1332.3L450.4 1315.9L461.9 1308.1L469.6 1303.2L473.4 1300.9L481.1 1296.8L485 1294.9L488.8 1293.1L492.7 1291.5L496.5 1290.1L500.3 1288.9L504.2 1287.9L508 1287L511.9 1286.4L515.7 1286L519.6 1285.8L523.4 1285.8L527.2 1286.1L531.1 1286.6L534.9 1287.3L538.8 1288.3L542.6 1289.5L546.5 1290.9L550.3 1292.6L554.2 1294.6L558 1296.8L561.8 1299.2L565.7 1301.9L569.5 1304.9L573.4 1308L577.2 1311.5L581.1 1315.1L584.9 1319L588.7 1323.1L592.6 1327.4L596.4 1331.9L600.3 1330.2L604.1 1325.3L608 1320.2L615.6 1309.4L619.5 1303.8L627.2 1292.1L634.9 1279.9L646.4 1260.8L657.9 1241L688.7 1187.3L696.4 1174.2L704 1161.5L711.7 1149.1L715.6 1143.2L723.3 1131.6L730.9 1120.7L738.6 1110.6L742.5 1105.8L746.3 1101.2L750.2 1096.8L754 1092.7L757.8 1088.7L761.7 1085L765.5 1081.6L769.4 1078.4L773.2 1075.5L777.1 1072.8L780.9 1070.4L784.7 1068.2L788.6 1066.3L792.4 1064.7L796.3 1063.4L800.1 1062.4L804 1061.6L807.8 1061.1L811.7 1060.9L815.5 1061L819.3 1061.3L823.2 1061.9L827 1062.9L830.9 1064L834.7 1065.5L838.6 1067.2L842.4 1069.2L846.2 1071.5L850.1 1074L853.9 1076.8L857.8 1079.8L861.6 1083L865.5 1086.5L869.3 1090.2L873.1 1094.2L877 1098.3L880.8 1102.7L884.7 1107.2L892.4 1116.9L900 1127.3L907.7 1138.3L911.6 1144L919.3 1155.7L927 1167.9L938.5 1186.7L969.2 1238.2L980.8 1257.2L992.3 1275.6L1000 1287.5L1007.7 1298.8L1011.5 1304.3L1019.2 1314.8L1023 1319.9L1030.7 1329.5L1034.6 1332.7L1038.4 1328.4L1042.3 1324.2L1046.1 1320.1L1049.9 1316.3L1053.8 1312.7L1057.6 1309.3L1061.5 1306.1L1065.3 1303L1069.2 1300.2L1073 1297.6L1076.8 1295.2L1080.7 1293L1084.5 1291.1L1088.4 1289.3L1092.2 1287.7L1096.1 1286.4L1099.9 1285.3L1103.7 1284.3L1107.6 1283.6L1111.4 1283L1115.3 1282.7L1119.1 1282.6L1123 1282.6L1126.8 1282.8L1130.6 1283.2L1134.5 1283.8L1138.3 1284.5L1142.2 1285.4L1146 1286.5L1149.9 1287.7L1153.7 1289L1157.6 1290.5L1165.2 1293.9L1169.1 1295.7L1176.8 1299.7L1180.6 1301.8L1188.3 1306.3L1199.8 1313.4L1230.6 1333.2L1234.4 1331.2L1245.9 1324.3L1253.6 1320L1257.5 1318L1265.2 1314.3L1269 1312.5L1276.7 1309.4L1284.4 1306.8L1288.2 1305.6L1292.1 1304.6L1295.9 1303.7L1299.8 1303L1303.6 1302.4L1307.4 1301.9L1311.3 1301.6L1315.1 1301.4L1319 1301.4L1322.8 1301.4L1326.7 1301.7L1330.5 1302L1334.3 1302.5L1338.2 1303.2L1342 1303.9L1345.9 1304.8L1349.7 1305.8L1357.4 1308.1L1361.2 1309.5L1368.9 1312.4L1372.8 1314L1380.5 1317.4L1392 1323L1411.2 1332.9L1415.1 1331.9L1426.6 1326.1L1434.3 1322.5L1438.1 1320.8L1445.8 1317.6L1453.5 1314.9L1461.2 1312.5L1465 1311.6L1468.9 1310.7L1472.7 1310L1476.5 1309.5L1480.4 1309.1L1484.2 1308.8L1488.1 1308.7L1491.9 1308.8L1495.8 1309L1499.6 1309.4L1503.4 1309.9L1507.3 1310.6L1511.1 1311.4L1515 1312.4L1518.8 1313.6L1522.7 1314.9L1526.5 1316.3L1530.4 1317.8L1538 1321.2L1541.9 1323L1549.6 1327L1561.1 1333.2L1564.9 1331.5L1572.6 1327.4L1580.3 1323.4L1588 1319.8L1591.8 1318.2L1595.7 1316.8L1599.5 1315.5L1603.4 1314.4L1607.2 1313.5L1611.1 1312.9L1614.9 1312.4L1618.7 1312.3L1622.6 1312.4L1626.4 1312.7L1630.3 1313.4L1634.1 1314.3L1638 1315.6L1641.8 1317.1L1645.7 1318.9L1649.5 1320.9L1653.3 1323.2L1657.2 1325.7L1661 1328.4L1664.9 1331.3L1668.7 1332.6L1680.2 1323.7L1684.1 1321L1687.9 1318.6L1691.8 1316.5L1695.6 1315L1699.5 1314.1L1703.3 1314.1L1707.1 1315L1711 1317.2L1714.8 1320.7L1718.7 1325.9L1722.5 1332.9L1726.4 1324.6" stroke="#A2142F" stroke-width="6.7"/>
<path d="M123.7 1314L127.5 1324.2L131.4 1332.6L139.1 1322.3L142.9 1318.5L146.8 1315.8L150.6 1314.1L154.4 1313.3L158.3 1313.3L162.1 1313.9L166 1315.1L169.8 1316.7L173.7 1318.6L177.5 1320.9L181.3 1323.4L185.2 1326L192.9 1331.4L196.7 1332.6L204.4 1327.4L208.3 1324.9L212.1 1322.6L215.9 1320.4L219.8 1318.4L223.6 1316.6L227.5 1315.1L231.3 1313.7L235.2 1312.6L239 1311.7L242.8 1311L246.7 1310.6L250.5 1310.4L254.4 1310.4L258.2 1310.6L262.1 1311L265.9 1311.6L269.7 1312.4L273.6 1313.4L277.4 1314.6L281.3 1315.9L285.1 1317.3L292.8 1320.6L296.6 1322.4L304.3 1326.2L315.9 1332.3L319.7 1332.4L335.1 1324.2L346.6 1318.5L354.3 1315L358.1 1313.4L365.8 1310.5L369.7 1309.2L373.5 1308.1L377.4 1307L381.2 1306.1L385 1305.4L388.9 1304.7L392.7 1304.3L396.6 1303.9L400.4 1303.7L404.3 1303.7L408.1 1303.8L411.9 1304L415.8 1304.4L419.6 1304.9L423.5 1305.6L427.3 1306.4L431.2 1307.3L435 1308.3L442.7 1310.8L450.4 1313.8L454.2 1315.4L461.9 1319L465.8 1320.9L473.4 1325L485 1331.5L488.8 1333L515.7 1316.7L523.4 1312.2L531.1 1307.8L538.8 1303.7L546.5 1299.8L554.2 1296.3L558 1294.8L565.7 1291.9L569.5 1290.7L573.4 1289.6L577.2 1288.6L581.1 1287.8L584.9 1287.1L588.7 1286.6L592.6 1286.2L596.4 1286L600.3 1285.9L604.1 1286L608 1286.3L611.8 1286.7L615.6 1287.3L619.5 1288.1L623.3 1289.1L627.2 1290.3L631 1291.6L634.9 1293.1L638.7 1294.8L642.5 1296.7L646.4 1298.7L650.2 1300.9L654.1 1303.3L657.9 1305.9L661.8 1308.7L665.6 1311.6L669.4 1314.7L673.3 1317.9L677.1 1321.4L681 1324.9L688.7 1332.5L692.5 1330.2L700.2 1321.8L704 1317.4L711.7 1308.1L715.6 1303.4L723.3 1293.5L734.8 1278L746.3 1261.9L757.8 1245.3L788.6 1200.7L800.1 1184.4L807.8 1173.8L819.3 1158.6L827 1148.9L834.7 1139.7L838.6 1135.3L846.2 1126.9L853.9 1119.1L857.8 1115.5L861.6 1112L865.5 1108.7L869.3 1105.5L873.1 1102.6L877 1099.8L880.8 1097.2L884.7 1094.8L888.5 1092.6L892.4 1090.6L896.2 1088.8L900 1087.2L903.9 1085.9L907.7 1084.7L911.6 1083.7L915.4 1083L919.3 1082.5L923.1 1082.2L927 1082.1L930.8 1082.2L934.6 1082.5L938.5 1083.1L942.3 1083.8L946.2 1084.8L950 1086L953.9 1087.4L957.7 1089L961.5 1090.9L965.4 1092.9L969.2 1095.1L973.1 1097.5L976.9 1100.1L980.8 1102.9L984.6 1105.9L988.4 1109.1L992.3 1112.4L996.1 1115.9L1000 1119.6L1007.7 1127.4L1015.3 1135.9L1019.2 1140.3L1026.9 1149.5L1034.6 1159.2L1046.1 1174.4L1053.8 1185L1065.3 1201.4L1096.1 1246L1107.6 1262.5L1119.1 1278.7L1130.6 1294.1L1138.3 1304L1146 1313.4L1153.7 1322.3L1157.6 1326.6L1161.4 1330.8L1165.2 1332L1172.9 1324.5L1176.8 1320.9L1180.6 1317.5L1184.5 1314.3L1188.3 1311.2L1192.1 1308.3L1196 1305.6L1199.8 1303L1203.7 1300.6L1207.5 1298.4L1211.4 1296.4L1215.2 1294.6L1219 1292.9L1222.9 1291.4L1226.7 1290.1L1230.6 1289L1234.4 1288L1238.3 1287.3L1242.1 1286.7L1245.9 1286.2L1249.8 1286L1253.6 1285.9L1257.5 1286L1261.3 1286.2L1265.2 1286.6L1269 1287.2L1272.8 1287.9L1276.7 1288.7L1280.5 1289.7L1284.4 1290.8L1288.2 1292.1L1292.1 1293.5L1299.8 1296.5L1303.6 1298.3L1311.3 1301.9L1315.1 1303.9L1322.8 1308.1L1330.5 1312.4L1338.2 1317L1365.1 1333.3L1380.5 1324.7L1388.1 1320.7L1395.8 1316.9L1399.7 1315.2L1407.4 1312.1L1415.1 1309.4L1418.9 1308.2L1422.7 1307.2L1426.6 1306.2L1430.4 1305.5L1434.3 1304.8L1438.1 1304.3L1442 1304L1445.8 1303.7L1449.6 1303.7L1453.5 1303.7L1457.3 1304L1461.2 1304.3L1465 1304.8L1468.9 1305.5L1472.7 1306.2L1476.5 1307.2L1480.4 1308.2L1484.2 1309.4L1488.1 1310.7L1495.8 1313.6L1499.6 1315.2L1507.3 1318.7L1518.8 1324.5L1534.2 1332.7L1538 1332L1549.6 1325.9L1557.3 1322.1L1564.9 1318.7L1572.6 1315.7L1576.5 1314.4L1580.3 1313.3L1584.2 1312.3L1588 1311.5L1591.8 1310.9L1595.7 1310.5L1599.5 1310.4L1603.4 1310.4L1607.2 1310.6L1611.1 1311.1L1614.9 1311.8L1618.7 1312.7L1622.6 1313.9L1626.4 1315.2L1630.3 1316.8L1634.1 1318.6L1638 1320.6L1641.8 1322.8L1649.5 1327.7L1657.2 1333L1661 1331.1L1668.7 1325.7L1672.6 1323.1L1676.4 1320.6L1680.2 1318.4L1684.1 1316.5L1687.9 1314.9L1691.8 1313.8L1695.6 1313.2L1699.5 1313.4L1703.3 1314.3L1707.1 1316.1L1711 1318.9L1714.8 1322.9L1718.7 1328.3L1722.5 1331.6L1726.4 1323.1" stroke="#0072BD" stroke-width="6.7"/>
<path d="M123.7 1320L127.5 1327L131.4 1332.7L135.2 1329.5L139.1 1325.9L142.9 1323.2L146.8 1321.4L150.6 1320.2L154.4 1319.6L158.3 1319.5L162.1 1319.9L166 1320.6L169.8 1321.7L173.7 1323L177.5 1324.5L181.3 1326.2L196.7 1333.4L204.4 1329.8L212.1 1326.5L219.8 1323.6L223.6 1322.4L227.5 1321.3L231.3 1320.4L235.2 1319.6L239 1318.9L242.8 1318.4L246.7 1318.1L250.5 1317.9L254.4 1317.8L258.2 1317.9L262.1 1318.2L265.9 1318.5L273.6 1319.7L281.3 1321.2L289 1323.1L296.6 1325.3L308.2 1329.1L319.7 1333.1L323.6 1332.3L338.9 1327L346.6 1324.5L354.3 1322.2L362 1320.2L365.8 1319.2L373.5 1317.6L381.2 1316.3L385 1315.8L392.7 1315L400.4 1314.5L404.3 1314.4L411.9 1314.5L419.6 1315L427.3 1315.8L435 1317L438.9 1317.6L446.5 1319.2L454.2 1321.1L465.8 1324.3L477.3 1328L492.7 1333.3L496.5 1332.1L515.7 1325.3L531.1 1320.1L538.8 1317.7L546.5 1315.5L558 1312.5L565.7 1310.9L569.5 1310.2L577.2 1309L581.1 1308.5L588.7 1307.8L592.6 1307.6L600.3 1307.3L604.1 1307.4L611.8 1307.7L615.6 1308L623.3 1308.8L627.2 1309.4L634.9 1310.7L638.7 1311.5L646.4 1313.4L654.1 1315.6L657.9 1316.8L665.6 1319.4L673.3 1322.3L681 1325.4L688.7 1328.7L696.4 1332.2L700.2 1332.8L711.7 1327.3L734.8 1316L750.2 1308.8L757.8 1305.4L765.5 1302.2L773.2 1299.3L777.1 1297.9L784.7 1295.4L792.4 1293.3L800.1 1291.5L804 1290.8L811.7 1289.8L815.5 1289.4L819.3 1289.2L823.2 1289L827 1289.1L830.9 1289.2L834.7 1289.5L838.6 1289.9L842.4 1290.5L846.2 1291.2L850.1 1292.1L853.9 1293.1L857.8 1294.3L861.6 1295.6L865.5 1297.1L869.3 1298.8L873.1 1300.6L877 1302.5L880.8 1304.6L884.7 1306.9L888.5 1309.3L892.4 1311.9L896.2 1314.6L900 1317.5L903.9 1320.5L907.7 1323.7L915.4 1330.5L919.3 1332.7L927 1325L930.8 1321L938.5 1312.5L942.3 1308.1L950 1298.9L953.9 1294.2L961.5 1284.4L973.1 1269L984.6 1253L996.1 1236.5L1030.7 1186.3L1042.3 1169.9L1049.9 1159.4L1061.5 1144.2L1069.2 1134.5L1076.8 1125.4L1084.5 1116.8L1092.2 1108.8L1096.1 1105L1099.9 1101.4L1103.7 1098L1107.6 1094.8L1111.4 1091.8L1115.3 1089L1119.1 1086.3L1123 1083.9L1126.8 1081.7L1130.6 1079.7L1134.5 1078L1138.3 1076.4L1142.2 1075.1L1146 1074L1149.9 1073.2L1153.7 1072.6L1157.6 1072.3L1161.4 1072.1L1165.2 1072.3L1169.1 1072.7L1172.9 1073.3L1176.8 1074.2L1180.6 1075.3L1184.5 1076.7L1188.3 1078.3L1192.1 1080.1L1196 1082.2L1199.8 1084.6L1203.7 1087.2L1207.5 1090L1211.4 1093.1L1215.2 1096.3L1219 1099.9L1222.9 1103.6L1226.7 1107.5L1230.6 1111.7L1234.4 1116.1L1238.3 1120.6L1245.9 1130.3L1253.6 1140.7L1261.3 1151.7L1265.2 1157.4L1272.8 1169.3L1280.5 1181.6L1292.1 1200.7L1326.7 1259.9L1334.3 1272.9L1342 1285.6L1349.7 1297.8L1357.4 1309.6L1365.1 1320.9L1372.8 1331.4L1376.6 1330.4L1380.5 1325.5L1384.3 1320.9L1388.1 1316.5L1392 1312.4L1395.8 1308.4L1399.7 1304.7L1403.5 1301.3L1407.4 1298L1411.2 1295.1L1415.1 1292.4L1418.9 1290L1422.7 1287.8L1426.6 1285.9L1430.4 1284.3L1434.3 1283L1438.1 1281.9L1442 1281.2L1445.8 1280.7L1449.6 1280.4L1453.5 1280.5L1457.3 1280.8L1461.2 1281.3L1465 1282.2L1468.9 1283.3L1472.7 1284.6L1476.5 1286.1L1480.4 1287.9L1484.2 1289.9L1488.1 1292.1L1491.9 1294.5L1495.8 1297.1L1499.6 1299.8L1507.3 1305.7L1511.1 1308.9L1518.8 1315.4L1538 1332.7L1541.9 1330.7L1549.6 1324.1L1557.3 1317.8L1561.1 1314.9L1564.9 1312.2L1568.8 1309.6L1572.6 1307.2L1576.5 1305.1L1580.3 1303.2L1584.2 1301.6L1588 1300.3L1591.8 1299.3L1595.7 1298.5L1599.5 1298.1L1603.4 1298.1L1607.2 1298.3L1611.1 1299L1614.9 1300L1618.7 1301.3L1622.6 1303L1626.4 1305L1630.3 1307.4L1634.1 1310.1L1638 1313.1L1641.8 1316.3L1645.7 1319.9L1649.5 1323.6L1657.2 1331.5L1661 1331.2L1668.7 1323L1672.6 1319.1L1676.4 1315.4L1680.2 1312.1L1684.1 1309.1L1687.9 1306.8L1691.8 1305.1L1695.6 1304.2L1699.5 1304.3L1703.3 1305.5L1707.1 1308L1711 1312.1L1714.8 1317.9L1718.7 1325.6L1722.5 1331.2L1726.4 1318.8" stroke="#EDB120" stroke-width="6.7"/>
<path d="M123.7 1311.9L127.5 1324.4L131.4 1332.5L135.2 1324.8L139.1 1319.2L142.9 1315.3L146.8 1312.9L150.6 1311.7L154.4 1311.6L158.3 1312.4L162.1 1313.9L166 1315.9L169.8 1318.4L173.7 1321.2L177.5 1324.3L185.2 1330.7L189 1332.9L196.7 1326.8L200.6 1324L204.4 1321.5L208.3 1319.1L212.1 1317L215.9 1315.2L219.8 1313.6L223.6 1312.4L227.5 1311.4L231.3 1310.8L235.2 1310.4L239 1310.3L242.8 1310.5L246.7 1310.9L250.5 1311.6L254.4 1312.5L258.2 1313.6L262.1 1314.9L265.9 1316.4L269.7 1318L277.4 1321.6L285.1 1325.6L296.6 1332L300.5 1332.6L312 1326.3L319.7 1322.4L323.6 1320.5L331.2 1317.2L335.1 1315.6L338.9 1314.2L342.8 1313L346.6 1311.8L350.5 1310.8L354.3 1310L358.1 1309.3L362 1308.7L365.8 1308.3L369.7 1308.1L373.5 1308L377.4 1308.1L381.2 1308.3L385 1308.6L388.9 1309.1L392.7 1309.8L396.6 1310.5L404.3 1312.4L411.9 1314.8L419.6 1317.6L423.5 1319.1L431.2 1322.3L442.7 1327.6L454.2 1333.2L458.1 1331.7L469.6 1326.2L477.3 1322.6L488.8 1317.5L496.5 1314.5L500.3 1313L508 1310.5L511.9 1309.3L519.6 1307.3L523.4 1306.5L531.1 1305.2L534.9 1304.7L542.6 1304L546.5 1303.9L554.2 1303.9L561.8 1304.5L565.7 1304.9L573.4 1306.1L581.1 1307.8L584.9 1308.8L592.6 1311.1L596.4 1312.4L604.1 1315.2L608 1316.7L615.6 1320L627.2 1325.3L642.5 1333L646.4 1331.8L669.4 1320L677.1 1316.2L684.8 1312.7L692.5 1309.3L696.4 1307.7L704 1304.8L707.9 1303.5L715.6 1301.1L719.4 1300.1L727.1 1298.3L730.9 1297.6L738.6 1296.5L742.5 1296.1L746.3 1295.9L750.2 1295.8L754 1295.8L757.8 1295.9L761.7 1296.1L765.5 1296.5L769.4 1297L773.2 1297.7L777.1 1298.4L780.9 1299.3L788.6 1301.5L792.4 1302.7L800.1 1305.6L804 1307.2L811.7 1310.7L815.5 1312.6L823.2 1316.7L827 1318.9L834.7 1323.4L842.4 1328.3L850.1 1333.3L853.9 1330.9L880.8 1312.5L888.5 1307.3L896.2 1302.3L903.9 1297.6L911.6 1293.1L919.3 1289.1L923.1 1287.2L930.8 1283.8L934.6 1282.3L938.5 1280.9L942.3 1279.7L946.2 1278.6L950 1277.7L953.9 1277L957.7 1276.5L961.5 1276.1L965.4 1275.9L969.2 1275.9L973.1 1276.1L976.9 1276.5L980.8 1277.1L984.6 1277.9L988.4 1278.9L992.3 1280.2L996.1 1281.6L1000 1283.3L1003.8 1285.2L1007.7 1287.3L1011.5 1289.7L1015.3 1292.2L1019.2 1295L1023 1298L1026.9 1301.3L1030.7 1304.7L1034.6 1308.4L1038.4 1312.3L1042.3 1316.4L1046.1 1320.8L1049.9 1325.3L1053.8 1330L1057.6 1331.8L1065.3 1321.4L1073 1310.2L1080.7 1298.4L1084.5 1292.3L1092.2 1279.6L1099.9 1266.4L1111.4 1245.9L1123 1224.8L1149.9 1174.8L1157.6 1160.8L1165.2 1147.1L1172.9 1133.9L1176.8 1127.4L1184.5 1115L1192.1 1103.2L1199.8 1092.3L1203.7 1087.1L1207.5 1082.2L1211.4 1077.5L1215.2 1073.1L1219 1068.9L1222.9 1065L1226.7 1061.3L1230.6 1058L1234.4 1055L1238.3 1052.2L1242.1 1049.8L1245.9 1047.7L1249.8 1045.9L1253.6 1044.5L1257.5 1043.4L1261.3 1042.6L1265.2 1042.2L1269 1042.2L1272.8 1042.4L1276.7 1043.1L1280.5 1044.1L1284.4 1045.4L1288.2 1047.1L1292.1 1049.1L1295.9 1051.5L1299.8 1054.2L1303.6 1057.3L1307.4 1060.7L1311.3 1064.4L1315.1 1068.4L1319 1072.8L1322.8 1077.5L1326.7 1082.4L1330.5 1087.7L1334.3 1093.2L1338.2 1099L1342 1105.1L1349.7 1117.9L1357.4 1131.6L1365.1 1146L1372.8 1161L1380.5 1176.6L1407.4 1232.5L1418.9 1256.1L1426.6 1271.3L1434.3 1286L1442 1299.9L1449.6 1312.9L1453.5 1319L1457.3 1324.9L1461.2 1330.5L1465 1331L1468.9 1326L1472.7 1321.3L1476.5 1316.9L1480.4 1312.9L1484.2 1309.2L1488.1 1305.9L1491.9 1303L1495.8 1300.4L1499.6 1298.1L1503.4 1296.3L1507.3 1294.7L1511.1 1293.6L1515 1292.8L1518.8 1292.4L1522.7 1292.3L1526.5 1292.6L1530.4 1293.1L1534.2 1294L1538 1295.2L1541.9 1296.7L1545.7 1298.5L1549.6 1300.5L1553.4 1302.7L1557.3 1305.2L1561.1 1307.8L1564.9 1310.6L1572.6 1316.5L1591.8 1332.2L1595.7 1331.6L1603.4 1325.9L1607.2 1323.3L1611.1 1320.9L1614.9 1318.7L1618.7 1316.8L1622.6 1315.2L1626.4 1313.9L1630.3 1312.9L1634.1 1312.3L1638 1312.1L1641.8 1312.2L1645.7 1312.7L1649.5 1313.5L1653.3 1314.8L1657.2 1316.4L1661 1318.4L1664.9 1320.6L1668.7 1323.2L1672.6 1325.9L1680.2 1331.9L1684.1 1331.8L1687.9 1328.8L1691.8 1326L1695.6 1323.6L1699.5 1321.6L1703.3 1320.2L1707.1 1319.6L1711 1320L1714.8 1321.7L1718.7 1324.9L1722.5 1329.8L1726.4 1329.9" stroke="#7E2F8E" stroke-width="6.7"/>
<path d="M123.7 1332.7L127.5 1332.6L131.4 1332.6L135.2 1332.7L142.9 1333.2L146.8 1333.3L162.1 1332L169.8 1331.4L181.3 1331L189 1330.9L196.7 1331L208.3 1331.5L219.8 1332.3L231.3 1333.3L235.2 1333.1L258.2 1330.9L273.6 1329.8L281.3 1329.3L289 1329L296.6 1328.8L304.3 1328.8L312 1328.9L319.7 1329.2L327.4 1329.5L335.1 1330L350.5 1331.3L369.7 1333.4L404.3 1329.5L423.5 1327.7L435 1326.8L442.7 1326.4L454.2 1326.1L461.9 1326L469.6 1326L481.1 1326.4L488.8 1326.8L500.3 1327.6L511.9 1328.7L523.4 1330.1L534.9 1331.6L546.5 1333.2L550.3 1333L577.2 1328.9L592.6 1326.6L604.1 1325.2L615.6 1323.9L627.2 1322.8L638.7 1322.1L650.2 1321.7L657.9 1321.6L669.4 1321.8L677.1 1322.2L688.7 1323L700.2 1324.2L711.7 1325.8L723.3 1327.6L734.8 1329.8L750.2 1333L754 1333L788.6 1325.1L800.1 1322.6L815.5 1319.5L827 1317.5L838.6 1315.8L850.1 1314.6L861.6 1313.9L869.3 1313.6L873.1 1313.6L880.8 1313.8L884.7 1314L892.4 1314.5L896.2 1314.9L903.9 1315.9L907.7 1316.4L915.4 1317.8L919.3 1318.6L927 1320.3L938.5 1323.4L950 1327L957.7 1329.7L965.4 1332.5L969.2 1332.8L984.6 1326.6L1011.5 1315.2L1023 1310.4L1034.6 1306L1046.1 1302L1053.8 1299.7L1057.6 1298.7L1065.3 1296.9L1069.2 1296.1L1076.8 1295L1080.7 1294.5L1084.5 1294.3L1088.4 1294.1L1092.2 1294.1L1096.1 1294.2L1099.9 1294.4L1103.7 1294.8L1107.6 1295.4L1111.4 1296.1L1115.3 1297L1119.1 1298.1L1123 1299.3L1126.8 1300.7L1130.6 1302.3L1134.5 1304.1L1138.3 1306L1142.2 1308.2L1146 1310.5L1149.9 1313L1153.7 1315.7L1157.6 1318.7L1161.4 1321.8L1165.2 1325.1L1169.1 1328.6L1172.9 1332.3L1176.8 1330.6L1180.6 1326.5L1184.5 1322.2L1188.3 1317.7L1192.1 1313L1199.8 1303.2L1207.5 1292.6L1215.2 1281.3L1222.9 1269.4L1226.7 1263.3L1234.4 1250.5L1242.1 1237.3L1249.8 1223.8L1261.3 1202.8L1292.1 1145.8L1299.8 1131.9L1307.4 1118.3L1315.1 1105.2L1322.8 1092.7L1330.5 1080.9L1334.3 1075.3L1338.2 1069.9L1342 1064.8L1345.9 1059.9L1349.7 1055.3L1353.6 1051L1357.4 1047L1361.2 1043.3L1365.1 1039.9L1368.9 1036.9L1372.8 1034.2L1376.6 1031.9L1380.5 1029.9L1384.3 1028.4L1388.1 1027.2L1392 1026.4L1395.8 1026.1L1399.7 1026.2L1403.5 1026.7L1407.4 1027.6L1411.2 1029L1415.1 1030.8L1418.9 1033.1L1422.7 1035.8L1426.6 1039L1430.4 1042.6L1434.3 1046.7L1438.1 1051.2L1442 1056.1L1445.8 1061.5L1449.6 1067.3L1453.5 1073.5L1457.3 1080.2L1461.2 1087.2L1465 1094.6L1468.9 1102.4L1472.7 1110.5L1476.5 1119L1484.2 1136.9L1491.9 1155.8L1499.6 1175.7L1507.3 1196.3L1530.4 1259.5L1538 1280.2L1545.7 1300.1L1549.6 1309.8L1553.4 1319.1L1557.3 1328.1L1561.1 1330.1L1564.9 1321.9L1568.8 1314.2L1572.6 1307L1576.5 1300.2L1580.3 1294.1L1584.2 1288.5L1588 1283.6L1591.8 1279.4L1595.7 1275.8L1599.5 1273L1603.4 1270.8L1607.2 1269.5L1611.1 1268.9L1614.9 1269L1618.7 1270L1622.6 1271.7L1626.4 1274.1L1630.3 1277.4L1634.1 1281.3L1638 1285.9L1641.8 1291.1L1645.7 1296.9L1649.5 1303.3L1653.3 1310.1L1657.2 1317.3L1664.9 1332.3L1668.7 1326.8L1672.6 1319.3L1676.4 1312.1L1680.2 1305.3L1684.1 1299.2L1687.9 1294L1691.8 1289.8L1695.6 1287.1L1699.5 1286L1703.3 1286.8L1707.1 1290L1711 1295.9L1714.8 1304.8L1718.7 1317.3L1722.5 1333.1L1726.4 1312.1" stroke="#77AC30" stroke-width="6.7"/>
<path d="M123.7 1316L127.5 1325.7L131.4 1333.3L135.2 1327.2L139.1 1322.6L142.9 1319.3L146.8 1317.2L150.6 1316.1L154.4 1315.7L158.3 1316.1L162.1 1317L166 1318.4L169.8 1320.2L173.7 1322.3L181.3 1326.9L189 1331.9L192.9 1332.5L200.6 1327.9L204.4 1325.7L208.3 1323.7L212.1 1321.9L215.9 1320.3L219.8 1318.9L223.6 1317.7L227.5 1316.7L231.3 1316L235.2 1315.4L239 1315.1L242.8 1314.9L246.7 1315L250.5 1315.3L254.4 1315.7L258.2 1316.3L262.1 1317.1L265.9 1318L269.7 1319L277.4 1321.5L285.1 1324.3L292.8 1327.3L304.3 1332.2L308.2 1333L319.7 1328.2L331.2 1323.8L338.9 1321.2L342.8 1320L350.5 1317.9L358.1 1316.2L362 1315.4L369.7 1314.4L377.4 1313.7L385 1313.5L392.7 1313.7L396.6 1314L404.3 1314.8L411.9 1316L415.8 1316.8L423.5 1318.5L431.2 1320.5L442.7 1323.9L454.2 1327.8L469.6 1333.3L473.4 1332.1L492.7 1325.4L504.2 1321.7L515.7 1318.3L523.4 1316.4L527.2 1315.6L534.9 1314L538.8 1313.4L546.5 1312.3L550.3 1311.9L558 1311.3L561.8 1311.1L565.7 1311L573.4 1311.1L581.1 1311.5L584.9 1311.8L592.6 1312.7L596.4 1313.2L604.1 1314.5L608 1315.3L615.6 1317L627.2 1320.1L638.7 1323.5L650.2 1327.3L665.6 1332.8L669.4 1332.6L692.5 1324.4L707.9 1319.2L715.6 1316.9L723.3 1314.7L734.8 1311.9L742.5 1310.3L750.2 1309L757.8 1308L761.7 1307.6L769.4 1307L773.2 1306.9L780.9 1306.8L784.7 1306.9L788.6 1307L796.3 1307.6L800.1 1308L807.8 1309.1L811.7 1309.7L819.3 1311.2L823.2 1312.1L830.9 1314L842.4 1317.4L853.9 1321.3L865.5 1325.7L880.8 1331.9L884.7 1333.2L911.6 1321.8L927 1315.5L934.6 1312.6L942.3 1309.9L950 1307.4L953.9 1306.2L961.5 1304.1L969.2 1302.3L976.9 1300.9L980.8 1300.3L988.4 1299.4L992.3 1299L1000 1298.7L1003.8 1298.7L1011.5 1299L1015.3 1299.3L1023 1300.3L1026.9 1300.9L1030.7 1301.6L1038.4 1303.4L1042.3 1304.5L1049.9 1306.9L1053.8 1308.3L1061.5 1311.3L1065.3 1312.9L1073 1316.5L1076.8 1318.4L1084.5 1322.4L1092.2 1326.7L1099.9 1331.2L1103.7 1333.3L1115.3 1326.1L1138.3 1311.4L1149.9 1304.3L1157.6 1299.8L1165.2 1295.5L1172.9 1291.6L1176.8 1289.8L1184.5 1286.5L1188.3 1285.1L1192.1 1283.8L1196 1282.6L1199.8 1281.6L1203.7 1280.7L1207.5 1280L1211.4 1279.4L1215.2 1279.1L1219 1278.9L1222.9 1279L1226.7 1279.2L1230.6 1279.6L1234.4 1280.3L1238.3 1281.2L1242.1 1282.3L1245.9 1283.6L1249.8 1285.2L1253.6 1287L1257.5 1289L1261.3 1291.3L1265.2 1293.8L1269 1296.6L1272.8 1299.6L1276.7 1302.9L1280.5 1306.5L1284.4 1310.3L1288.2 1314.3L1292.1 1318.6L1295.9 1323.2L1299.8 1328L1303.6 1333.1L1307.4 1328.4L1311.3 1322.9L1315.1 1317.1L1322.8 1304.9L1326.7 1298.5L1334.3 1285L1338.2 1277.9L1345.9 1263.3L1349.7 1255.7L1357.4 1240.2L1368.9 1215.9L1380.5 1190.9L1403.5 1140.2L1411.2 1123.6L1418.9 1107.5L1426.6 1091.9L1434.3 1077.1L1442 1063.1L1445.8 1056.5L1449.6 1050.2L1453.5 1044.2L1457.3 1038.6L1461.2 1033.2L1465 1028.3L1468.9 1023.7L1472.7 1019.5L1476.5 1015.7L1480.4 1012.4L1484.2 1009.5L1488.1 1007L1491.9 1005.1L1495.8 1003.6L1499.6 1002.7L1503.4 1002.3L1507.3 1002.4L1511.1 1003L1515 1004.2L1518.8 1005.9L1522.7 1008.2L1526.5 1011L1530.4 1014.5L1534.2 1018.4L1538 1023L1541.9 1028.1L1545.7 1033.8L1549.6 1040L1553.4 1046.7L1557.3 1054L1561.1 1061.8L1564.9 1070.1L1568.8 1078.9L1572.6 1088.2L1576.5 1097.9L1580.3 1108L1584.2 1118.6L1591.8 1140.7L1595.7 1152.2L1603.4 1175.9L1626.4 1250L1634.1 1274.2L1641.8 1297.3L1645.7 1308.4L1649.5 1319L1653.3 1329L1657.2 1328.4L1661 1319.6L1664.9 1311.6L1668.7 1304.5L1672.6 1298.3L1676.4 1293.1L1680.2 1289L1684.1 1286L1687.9 1284.4L1691.8 1284L1695.6 1285.1L1699.5 1287.7L1703.3 1292L1707.1 1297.9L1711 1305.5L1714.8 1315L1718.7 1326.5L1722.5 1326.9L1726.4 1311.3" stroke="#4DBEEE" stroke-width="6.7"/>
<path d="M123.7 1321.3L127.5 1328.2L131.4 1333.1L135.2 1328.8L139.1 1325.6L142.9 1323.4L146.8 1322L150.6 1321.3L154.4 1321.2L158.3 1321.6L162.1 1322.3L166 1323.4L169.8 1324.7L173.7 1326.3L177.5 1327.9L189 1333.1L192.9 1332L200.6 1328.8L204.4 1327.3L208.3 1326L212.1 1324.8L215.9 1323.8L219.8 1322.9L223.6 1322.1L227.5 1321.6L231.3 1321.1L235.2 1320.9L239 1320.7L242.8 1320.8L246.7 1320.9L250.5 1321.2L254.4 1321.7L262.1 1322.8L269.7 1324.4L277.4 1326.2L285.1 1328.3L300.5 1332.8L304.3 1332.8L315.9 1329.5L323.6 1327.4L335.1 1324.7L342.8 1323.2L350.5 1321.9L354.3 1321.4L362 1320.6L369.7 1320.1L377.4 1319.9L385 1320.1L392.7 1320.5L400.4 1321.2L411.9 1322.8L419.6 1324.1L427.3 1325.6L438.9 1328.1L458.1 1332.7L461.9 1333.1L481.1 1328.5L492.7 1325.9L504.2 1323.6L515.7 1321.7L527.2 1320.2L538.8 1319.2L550.3 1318.7L561.8 1318.7L569.5 1319L581.1 1319.9L588.7 1320.7L600.3 1322.3L608 1323.6L619.5 1325.8L634.9 1329.1L650.2 1332.7L654.1 1333.2L673.3 1328.6L688.7 1325.2L704 1322.1L715.6 1320.2L723.3 1319.1L730.9 1318.2L742.5 1317.2L754 1316.7L765.5 1316.6L773.2 1316.8L784.7 1317.6L796.3 1318.8L807.8 1320.5L819.3 1322.5L830.9 1324.9L846.2 1328.6L861.6 1332.5L865.5 1333.3L888.5 1327.1L903.9 1323.3L911.6 1321.5L919.3 1319.8L930.8 1317.5L938.5 1316.3L946.2 1315.2L957.7 1314L965.4 1313.4L969.2 1313.3L976.9 1313.1L980.8 1313.1L988.4 1313.3L992.3 1313.5L996.1 1313.8L1003.8 1314.6L1007.7 1315L1015.3 1316.1L1026.9 1318.2L1034.6 1319.9L1046.1 1322.9L1053.8 1325L1061.5 1327.4L1076.8 1332.4L1080.7 1333.1L1107.6 1323.8L1119.1 1320L1126.8 1317.6L1134.5 1315.3L1146 1312.3L1153.7 1310.6L1157.6 1309.8L1165.2 1308.5L1169.1 1308L1176.8 1307.2L1180.6 1306.9L1188.3 1306.6L1192.1 1306.6L1199.8 1306.9L1203.7 1307.2L1211.4 1308.1L1215.2 1308.7L1222.9 1310.2L1226.7 1311.1L1234.4 1313.3L1238.3 1314.5L1245.9 1317.2L1249.8 1318.6L1257.5 1321.9L1261.3 1323.6L1269 1327.3L1280.5 1333.3L1284.4 1331.4L1288.2 1329.2L1311.3 1316L1322.8 1309.6L1330.5 1305.6L1334.3 1303.6L1342 1300.1L1349.7 1296.9L1353.6 1295.6L1357.4 1294.4L1361.2 1293.3L1365.1 1292.4L1368.9 1291.7L1372.8 1291.1L1376.6 1290.8L1380.5 1290.7L1384.3 1290.8L1388.1 1291.2L1392 1291.8L1395.8 1292.7L1399.7 1293.9L1403.5 1295.3L1407.4 1297L1411.2 1299.1L1415.1 1301.4L1418.9 1304.1L1422.7 1307.1L1426.6 1310.5L1430.4 1314.2L1434.3 1318.2L1438.1 1322.6L1442 1327.3L1445.8 1332.4L1449.6 1328.9L1453.5 1323.1L1457.3 1316.9L1461.2 1310.3L1465 1303.4L1468.9 1296.1L1472.7 1288.4L1476.5 1280.4L1480.4 1272.1L1484.2 1263.5L1491.9 1245.2L1495.8 1235.6L1503.4 1215.6L1507.3 1205.2L1515 1183.8L1526.5 1150.4L1553.4 1070.3L1561.1 1048.1L1564.9 1037.3L1572.6 1016.6L1576.5 1006.7L1580.3 997.3L1584.2 988.3L1588 979.8L1591.8 971.9L1595.7 964.6L1599.5 957.9L1603.4 951.9L1607.2 946.7L1611.1 942.2L1614.9 938.7L1618.7 936L1622.6 934.3L1626.4 933.5L1630.3 933.9L1634.1 935.3L1638 937.8L1641.8 941.4L1645.7 946.3L1649.5 952.4L1653.3 959.7L1657.2 968.4L1661 978.3L1664.9 989.5L1668.7 1002L1672.6 1015.8L1676.4 1030.9L1680.2 1047.3L1684.1 1064.9L1687.9 1083.7L1691.8 1103.7L1695.6 1124.8L1699.5 1147L1703.3 1170.1L1707.1 1194L1714.8 1244L1726.4 1322" stroke="#A2142F" stroke-width="6.7"/>
<path d="M123.7 1324.4L127.5 1329.6L131.4 1333.1L135.2 1330L139.1 1327.6L142.9 1326L146.8 1324.9L150.6 1324.4L154.4 1324.3L158.3 1324.6L162.1 1325.2L166 1326L169.8 1327L173.7 1328.1L189 1333.3L192.9 1332.3L200.6 1329.9L204.4 1328.8L212.1 1327L215.9 1326.2L223.6 1325L227.5 1324.6L231.3 1324.3L239 1324L242.8 1324.1L250.5 1324.4L258.2 1325.2L265.9 1326.2L273.6 1327.5L281.3 1329L300.5 1333.1L304.3 1332.8L315.9 1330.4L323.6 1328.9L335.1 1326.9L342.8 1325.8L354.3 1324.5L362 1324L369.7 1323.6L377.4 1323.5L385 1323.7L392.7 1324L400.4 1324.6L411.9 1325.7L419.6 1326.7L431.2 1328.4L442.7 1330.3L458.1 1333.1L461.9 1333L477.3 1330.3L492.7 1327.8L508 1325.7L519.6 1324.4L531.1 1323.5L542.6 1322.9L550.3 1322.8L561.8 1322.8L569.5 1323.1L581.1 1323.7L588.7 1324.4L600.3 1325.6L611.8 1327L623.3 1328.7L634.9 1330.5L650.2 1333.1L654.1 1333L673.3 1329.7L688.7 1327.3L704 1325.2L715.6 1323.9L727.1 1322.8L738.6 1322.1L750.2 1321.7L761.7 1321.6L773.2 1321.8L784.7 1322.4L796.3 1323.4L807.8 1324.6L819.3 1326.1L830.9 1327.8L846.2 1330.3L861.6 1333.1L865.5 1333L888.5 1328.8L903.9 1326.2L919.3 1323.9L930.8 1322.4L942.3 1321.2L953.9 1320.4L965.4 1319.9L976.9 1319.8L988.4 1320L1000 1320.7L1011.5 1321.7L1023 1323L1034.6 1324.7L1046.1 1326.7L1061.5 1329.7L1076.8 1333L1080.7 1332.9L1103.7 1327.8L1119.1 1324.6L1134.5 1321.7L1146 1319.9L1157.6 1318.5L1169.1 1317.5L1180.6 1316.9L1188.3 1316.8L1199.8 1317.2L1207.5 1317.7L1219 1318.9L1230.6 1320.6L1242.1 1322.9L1253.6 1325.6L1265.2 1328.6L1280.5 1333.2L1284.4 1332.4L1307.4 1325.2L1322.8 1320.7L1334.3 1317.6L1342 1315.9L1349.7 1314.3L1353.6 1313.7L1361.2 1312.6L1368.9 1311.9L1372.8 1311.7L1380.5 1311.6L1388.1 1311.9L1392 1312.2L1399.7 1313.2L1407.4 1314.6L1415.1 1316.6L1422.7 1318.9L1426.6 1320.3L1434.3 1323.3L1442 1326.7L1445.8 1328.5L1453.5 1332.4L1457.3 1332.4L1465 1328.1L1484.2 1317.2L1491.9 1313L1499.6 1309.1L1507.3 1305.7L1511.1 1304.2L1515 1302.8L1518.8 1301.7L1522.7 1300.8L1526.5 1300.1L1530.4 1299.7L1534.2 1299.5L1538 1299.7L1541.9 1300.2L1545.7 1301.1L1549.6 1302.4L1553.4 1304.1L1557.3 1306.2L1561.1 1308.8L1564.9 1311.8L1568.8 1315.4L1572.6 1319.5L1576.5 1324.1L1580.3 1329.3L1584.2 1331.7L1588 1325.3L1591.8 1318.3L1595.7 1310.6L1599.5 1302.3L1603.4 1293.4L1607.2 1283.9L1611.1 1273.6L1614.9 1262.8L1618.7 1251.3L1622.6 1239.2L1626.4 1226.5L1630.3 1213.2L1634.1 1199.3L1638 1185L1645.7 1154.9L1653.3 1123.4L1672.6 1042.8L1676.4 1027.2L1680.2 1012.1L1684.1 997.6L1687.9 984L1691.8 971.5L1695.6 960.2L1699.5 950.3L1703.3 942.3L1707.1 936.2L1711 932.5L1714.8 931.4L1718.7 933.3L1722.5 938.5L1726.4 947.6" stroke="#0072BD" stroke-width="6.7"/>
<path d="M123.7 1314.5L127.5 1325.9L131.4 1331.9L135.2 1325.1L139.1 1320.2L142.9 1316.8L146.8 1314.8L150.6 1314L154.4 1314.2L158.3 1315.1L162.1 1316.7L166 1318.8L169.8 1321.3L173.7 1324.1L185.2 1332.9L189 1330.9L192.9 1328.1L196.7 1325.4L200.6 1322.9L204.4 1320.6L208.3 1318.6L212.1 1316.9L215.9 1315.4L219.8 1314.2L223.6 1313.3L227.5 1312.7L231.3 1312.4L235.2 1312.3L239 1312.5L242.8 1312.9L246.7 1313.6L250.5 1314.5L254.4 1315.7L258.2 1317L262.1 1318.4L269.7 1321.8L277.4 1325.6L289 1331.8L292.8 1332.9L304.3 1326.7L312 1322.8L315.9 1321L323.6 1317.6L327.4 1316.1L331.2 1314.7L335.1 1313.4L338.9 1312.3L342.8 1311.3L346.6 1310.5L350.5 1309.8L354.3 1309.3L358.1 1309L362 1308.8L365.8 1308.7L369.7 1308.8L373.5 1309.1L377.4 1309.5L381.2 1310.1L385 1310.8L388.9 1311.7L392.7 1312.7L400.4 1315L408.1 1317.8L415.8 1321L427.3 1326.3L438.9 1332.1L442.7 1332.7L461.9 1322.8L473.4 1317.2L481.1 1313.8L485 1312.2L492.7 1309.3L496.5 1308L504.2 1305.7L508 1304.7L511.9 1303.8L515.7 1303.1L519.6 1302.5L523.4 1302L527.2 1301.6L531.1 1301.4L534.9 1301.4L538.8 1301.4L542.6 1301.6L546.5 1302L550.3 1302.5L554.2 1303.1L558 1303.8L561.8 1304.7L565.7 1305.8L569.5 1306.9L577.2 1309.6L584.9 1312.7L588.7 1314.5L596.4 1318.3L600.3 1320.3L608 1324.6L619.5 1331.5L623.3 1332.9L654.1 1313.1L665.6 1306L673.3 1301.5L677.1 1299.4L684.8 1295.5L688.7 1293.6L696.4 1290.3L700.2 1288.9L704 1287.5L707.9 1286.4L711.7 1285.3L715.6 1284.4L719.4 1283.7L723.3 1283.2L727.1 1282.8L730.9 1282.6L734.8 1282.6L738.6 1282.7L742.5 1283.1L746.3 1283.7L750.2 1284.4L754 1285.4L757.8 1286.6L761.7 1287.9L765.5 1289.5L769.4 1291.3L773.2 1293.3L777.1 1295.5L780.9 1297.9L784.7 1300.6L788.6 1303.4L792.4 1306.5L796.3 1309.7L800.1 1313.1L804 1316.8L807.8 1320.6L811.7 1324.7L815.5 1328.9L819.3 1333.3L823.2 1328.9L827 1324.2L834.7 1314.2L842.4 1303.6L846.2 1298.1L853.9 1286.7L861.6 1274.9L873.1 1256.5L884.7 1237.4L915.4 1185.9L927 1167.1L934.6 1155L942.3 1143.2L946.2 1137.6L953.9 1126.6L961.5 1116.3L969.2 1106.7L973.1 1102.1L976.9 1097.8L980.8 1093.7L984.6 1089.8L988.4 1086.1L992.3 1082.6L996.1 1079.4L1000 1076.4L1003.8 1073.7L1007.7 1071.2L1011.5 1069L1015.3 1067L1019.2 1065.3L1023 1063.9L1026.9 1062.7L1030.7 1061.8L1034.6 1061.2L1038.4 1060.9L1042.3 1060.9L1046.1 1061.1L1049.9 1061.7L1053.8 1062.5L1057.6 1063.6L1061.5 1064.9L1065.3 1066.6L1069.2 1068.5L1073 1070.7L1076.8 1073.1L1080.7 1075.8L1084.5 1078.8L1088.4 1082L1092.2 1085.5L1096.1 1089.2L1099.9 1093.2L1103.7 1097.3L1107.6 1101.7L1111.4 1106.4L1115.3 1111.2L1123 1121.4L1130.6 1132.3L1138.3 1143.9L1142.2 1149.9L1149.9 1162.3L1157.6 1175L1165.2 1188.1L1196 1241.8L1203.7 1255.1L1215.2 1274.4L1222.9 1286.8L1230.6 1298.8L1238.3 1310.1L1245.9 1320.8L1253.6 1330.8L1257.5 1331.3L1261.3 1326.8L1265.2 1322.5L1269 1318.5L1272.8 1314.6L1276.7 1311L1280.5 1307.6L1284.4 1304.5L1288.2 1301.6L1292.1 1298.9L1295.9 1296.5L1299.8 1294.3L1303.6 1292.4L1307.4 1290.7L1311.3 1289.3L1315.1 1288.1L1319 1287.2L1322.8 1286.5L1326.7 1286L1330.5 1285.8L1334.3 1285.8L1338.2 1286L1342 1286.5L1345.9 1287.1L1349.7 1288L1353.6 1289.1L1357.4 1290.3L1361.2 1291.7L1365.1 1293.3L1368.9 1295.1L1372.8 1297L1380.5 1301.2L1384.3 1303.5L1392 1308.4L1403.5 1316.2L1426.6 1332.6L1430.4 1331.5L1438.1 1326.4L1442 1324L1449.6 1319.4L1457.3 1315.3L1461.2 1313.4L1465 1311.7L1468.9 1310.2L1472.7 1308.8L1476.5 1307.6L1480.4 1306.6L1484.2 1305.8L1488.1 1305.1L1491.9 1304.7L1495.8 1304.4L1499.6 1304.4L1503.4 1304.6L1507.3 1304.9L1511.1 1305.5L1515 1306.2L1518.8 1307.2L1522.7 1308.3L1526.5 1309.6L1530.4 1311.1L1534.2 1312.8L1538 1314.5L1545.7 1318.5L1549.6 1320.7L1557.3 1325.2L1568.8 1332.4L1572.6 1332L1580.3 1327.2L1588 1322.8L1591.8 1320.8L1595.7 1318.9L1599.5 1317.1L1603.4 1315.6L1607.2 1314.3L1611.1 1313.2L1614.9 1312.3L1618.7 1311.8L1622.6 1311.5L1626.4 1311.5L1630.3 1311.8L1634.1 1312.4L1638 1313.4L1641.8 1314.7L1645.7 1316.3L1649.5 1318.2L1653.3 1320.4L1657.2 1322.8L1661 1325.5L1668.7 1331.5L1672.6 1332.2L1680.2 1326L1684.1 1323L1687.9 1320.3L1691.8 1317.9L1695.6 1316.1L1699.5 1314.9L1703.3 1314.5L1707.1 1315.1L1711 1316.9L1714.8 1320.2L1718.7 1325.1L1722.5 1332.1L1726.4 1325.5" stroke="#000" stroke-width="17.3"/></g>
<g class="p"><rect x="123.7" y="1535.9" width="1606.20" height="574.20" fill="none" stroke="#262626" stroke-width="3.5"/>
<path d="M123.7 2110.1v-18M123.7 1535.9v18M315.9 2110.1v-18M315.9 1535.9v18M508.1 2110.1v-18M508.1 1535.9v18M700.3 2110.1v-18M700.3 1535.9v18M892.5 2110.1v-18M892.5 1535.9v18M1084.7 2110.1v-18M1084.7 1535.9v18M1276.9 2110.1v-18M1276.9 1535.9v18M1469.1 2110.1v-18M1469.1 1535.9v18M1661.3 2110.1v-18M1661.3 1535.9v18M123.7 2110.1h18M1729.9 2110.1h-18M123.7 1897.4h18M1729.9 1897.4h-18M123.7 1684.8h18M1729.9 1684.8h-18" fill="none" stroke="#262626" stroke-width="3.5"/>
<path d="M123.7 1712L127.5 1703.6L131.4 1699.5L135.2 1699.2L139.1 1702.2L142.9 1708L146.8 1716.4L150.6 1726.8L154.4 1739L158.3 1752.7L162.1 1767.5L166 1783.4L173.7 1817L192.9 1904.3L200.6 1937.8L204.4 1953.9L208.3 1969.5L212.1 1984.5L215.9 1998.8L219.8 2012.5L223.6 2025.5L227.5 2037.8L231.3 2049.5L235.2 2060.3L239 2070.5L242.8 2080L246.7 2088.7L250.5 2096.8L254.4 2104.2L258.2 2109.3L262.1 2103.2L265.9 2097.8L269.7 2092.9L273.6 2088.6L277.4 2084.8L281.3 2081.5L285.1 2078.8L289 2076.4L292.8 2074.6L296.6 2073.1L300.5 2071.9L304.3 2071.2L308.2 2070.7L312 2070.5L315.9 2070.6L319.7 2070.9L323.6 2071.4L327.4 2072.1L331.2 2073L335.1 2074L338.9 2075.1L346.6 2077.6L354.3 2080.4L373.5 2087.6L385 2091.6L392.7 2094L396.6 2095.1L404.3 2097L411.9 2098.7L415.8 2099.4L423.5 2100.5L427.3 2100.9L435 2101.6L438.9 2101.7L446.5 2101.9L454.2 2101.7L461.9 2101.3L469.6 2100.6L481.1 2099.2L496.5 2096.8L531.1 2090.7L542.6 2088.8L554.2 2087L565.7 2085.6L577.2 2084.4L588.7 2083.6L596.4 2083.3L608 2083.1L615.6 2083.1L627.2 2083.4L634.9 2083.8L646.4 2084.6L665.6 2086.4L715.6 2092.1L727.1 2093.3L738.6 2094.4L750.2 2095.3L761.7 2096L773.2 2096.5L784.7 2096.7L796.3 2096.8L807.8 2096.6L819.3 2096.2L830.9 2095.6L842.4 2094.9L857.8 2093.7L903.9 2089.6L927 2087.8L938.5 2087L950 2086.4L961.5 2086L973.1 2085.7L984.6 2085.6L996.1 2085.7L1007.7 2086L1023 2086.6L1034.6 2087.3L1049.9 2088.3L1099.9 2092.3L1123 2093.9L1138.3 2094.7L1149.9 2095.1L1161.4 2095.4L1172.9 2095.4L1184.5 2095.3L1196 2095.1L1207.5 2094.6L1219 2094L1242.1 2092.4L1292.1 2088.5L1303.6 2087.7L1315.1 2087L1326.7 2086.6L1338.2 2086.3L1349.7 2086.2L1357.4 2086.3L1365.1 2086.5L1376.6 2086.9L1384.3 2087.4L1395.8 2088.1L1411.2 2089.4L1449.6 2093L1468.9 2094.4L1484.2 2095.2L1491.9 2095.4L1499.6 2095.4L1507.3 2095.3L1515 2095.1L1522.7 2094.7L1530.4 2094.1L1538 2093.4L1549.6 2092.2L1580.3 2088.2L1591.8 2086.9L1603.4 2086L1611.1 2085.6L1614.9 2085.6L1622.6 2085.6L1630.3 2086.1L1634.1 2086.4L1641.8 2087.4L1645.7 2088L1653.3 2089.4L1661 2091.1L1676.4 2094.8L1684.1 2096.3L1687.9 2096.9L1691.8 2097.3L1695.6 2097.4L1699.5 2097.3L1703.3 2096.7L1707.1 2095.6L1711 2094L1714.8 2091.8L1718.7 2088.7L1722.5 2084.8L1726.4 2079.8" stroke="#0072BD" stroke-width="6.7"/>
<path d="M123.7 2077.5L127.5 2092L131.4 2109.2L135.2 2091.6L139.1 2070.5L142.9 2048.2L146.8 2025.1L158.3 1954.6L162.1 1931.6L166 1909.3L169.8 1887.9L173.7 1867.5L177.5 1848.2L181.3 1830.2L185.2 1813.6L189 1798.4L192.9 1784.6L196.7 1772.4L200.6 1761.7L204.4 1752.5L208.3 1744.9L212.1 1738.8L215.9 1734.2L219.8 1731L223.6 1729.3L227.5 1728.9L231.3 1729.8L235.2 1731.9L239 1735.3L242.8 1739.8L246.7 1745.3L250.5 1751.8L254.4 1759.3L258.2 1767.5L262.1 1776.6L265.9 1786.3L269.7 1796.7L273.6 1807.6L277.4 1819L285.1 1843.1L292.8 1868.3L315.9 1946.3L323.6 1971.7L331.2 1996.4L338.9 2019.9L346.6 2042.2L350.5 2052.8L354.3 2062.9L358.1 2072.7L362 2082.1L365.8 2091L369.7 2099.5L373.5 2107.6L377.4 2105L381.2 2097.9L385 2091.2L388.9 2084.9L392.7 2079.1L396.6 2073.7L400.4 2068.8L404.3 2064.3L408.1 2060.2L411.9 2056.6L415.8 2053.3L419.6 2050.4L423.5 2047.9L427.3 2045.8L431.2 2044L435 2042.6L438.9 2041.4L442.7 2040.6L446.5 2040L450.4 2039.8L454.2 2039.8L458.1 2040L461.9 2040.4L465.8 2041.1L469.6 2041.9L473.4 2042.9L477.3 2044L481.1 2045.3L488.8 2048.3L496.5 2051.6L508 2057.1L531.1 2068.4L542.6 2073.6L550.3 2076.9L554.2 2078.4L561.8 2081.1L565.7 2082.4L573.4 2084.6L577.2 2085.6L584.9 2087.2L588.7 2087.9L596.4 2088.9L600.3 2089.3L608 2089.7L615.6 2089.8L619.5 2089.7L627.2 2089.2L634.9 2088.4L638.7 2087.9L646.4 2086.7L657.9 2084.4L669.4 2081.7L681 2078.7L704 2072.4L715.6 2069.4L727.1 2066.5L738.6 2064L746.3 2062.5L754 2061.2L765.5 2059.7L777.1 2058.7L788.6 2058.1L796.3 2058.1L807.8 2058.4L819.3 2059.2L830.9 2060.4L842.4 2062L853.9 2063.8L869.3 2066.7L900 2072.7L911.6 2074.9L923.1 2076.9L934.6 2078.6L942.3 2079.6L950 2080.5L961.5 2081.5L973.1 2082.1L984.6 2082.3L992.3 2082.3L1003.8 2081.8L1015.3 2081L1026.9 2079.9L1038.4 2078.5L1049.9 2076.8L1065.3 2074.4L1099.9 2068.5L1111.4 2066.8L1123 2065.2L1130.6 2064.2L1138.3 2063.4L1149.9 2062.5L1161.4 2061.9L1172.9 2061.7L1180.6 2061.8L1192.1 2062.2L1203.7 2063L1215.2 2064.1L1226.7 2065.6L1238.3 2067.2L1249.8 2069L1284.4 2074.8L1295.9 2076.6L1303.6 2077.6L1315.1 2078.9L1326.7 2079.9L1338.2 2080.5L1345.9 2080.6L1353.6 2080.6L1365.1 2080.2L1376.6 2079.3L1388.1 2078L1399.7 2076.3L1411.2 2074.3L1442 2068.5L1453.5 2066.4L1465 2064.6L1472.7 2063.6L1484.2 2062.5L1491.9 2062.1L1499.6 2062L1507.3 2062.2L1515 2062.7L1522.7 2063.5L1530.4 2064.6L1538 2066L1545.7 2067.6L1553.4 2069.4L1576.5 2075.5L1584.2 2077.4L1591.8 2079.1L1595.7 2079.8L1603.4 2081L1607.2 2081.4L1611.1 2081.7L1614.9 2081.9L1618.7 2081.9L1622.6 2081.7L1626.4 2081.4L1630.3 2080.9L1634.1 2080.2L1638 2079.3L1641.8 2078.3L1645.7 2077.1L1649.5 2075.7L1653.3 2074.2L1661 2070.8L1676.4 2063.4L1680.2 2061.7L1684.1 2060.3L1687.9 2059.1L1691.8 2058.3L1695.6 2058.1L1699.5 2058.4L1703.3 2059.6L1707.1 2061.6L1711 2064.8L1714.8 2069.4L1718.7 2075.4L1722.5 2083.3L1726.4 2093.3" stroke="#D95319" stroke-width="6.7"/>
<path d="M123.7 2095.7L127.5 2105L131.4 2105.2L142.9 2074.4L146.8 2064.8L150.6 2055.9L154.4 2047.9L158.3 2041L162.1 2035.2L166 2030.6L169.8 2027.3L173.7 2025.4L177.5 2024.8L181.3 2025.6L185.2 2027.7L189 2031.1L192.9 2035.7L196.7 2041.6L200.6 2048.7L204.4 2056.8L208.3 2066L212.1 2076.1L215.9 2087.1L219.8 2098.8L223.6 2109L227.5 2095.9L235.2 2068.4L242.8 2039.6L262.1 1966L269.7 1937.6L273.6 1923.9L277.4 1910.6L281.3 1897.8L285.1 1885.5L289 1873.7L292.8 1862.6L296.6 1852.1L300.5 1842.2L304.3 1833.1L308.2 1824.7L312 1817L315.9 1810.1L319.7 1804L323.6 1798.7L327.4 1794.2L331.2 1790.5L335.1 1787.5L338.9 1785.4L342.8 1784L346.6 1783.4L350.5 1783.6L354.3 1784.5L358.1 1786.2L362 1788.6L365.8 1791.6L369.7 1795.3L373.5 1799.7L377.4 1804.6L381.2 1810.2L385 1816.3L388.9 1822.9L392.7 1830L396.6 1837.6L400.4 1845.6L404.3 1854L408.1 1862.8L415.8 1881.2L423.5 1900.7L435 1931.3L461.9 2004.5L469.6 2024.9L477.3 2044.7L485 2063.7L492.7 2081.7L500.3 2098.7L504.2 2106.7L508 2105.8L511.9 2098.3L515.7 2091.2L519.6 2084.5L523.4 2078.1L527.2 2072L531.1 2066.3L534.9 2060.9L538.8 2055.9L542.6 2051.3L546.5 2047L550.3 2043.1L554.2 2039.5L558 2036.3L561.8 2033.4L565.7 2030.9L569.5 2028.7L573.4 2026.8L577.2 2025.2L581.1 2024L584.9 2023L588.7 2022.4L592.6 2022L596.4 2021.9L600.3 2022.1L604.1 2022.5L608 2023.2L611.8 2024L615.6 2025.1L619.5 2026.4L623.3 2027.9L627.2 2029.5L631 2031.3L634.9 2033.2L642.5 2037.5L646.4 2039.8L654.1 2044.6L665.6 2052.3L688.7 2068.1L696.4 2073.1L704 2077.9L711.7 2082.4L719.4 2086.6L727.1 2090.3L730.9 2092L738.6 2095.1L742.5 2096.4L746.3 2097.6L750.2 2098.7L754 2099.6L757.8 2100.4L761.7 2101.1L765.5 2101.7L769.4 2102.1L773.2 2102.3L777.1 2102.5L780.9 2102.5L784.7 2102.4L788.6 2102.2L792.4 2101.8L800.1 2100.7L804 2100L811.7 2098.3L815.5 2097.3L823.2 2095L827 2093.8L834.7 2091.1L846.2 2086.5L857.8 2081.6L884.7 2069.8L892.4 2066.5L900 2063.4L907.7 2060.4L915.4 2057.7L923.1 2055.3L927 2054.2L934.6 2052.2L938.5 2051.3L946.2 2049.8L950 2049.2L957.7 2048.3L961.5 2047.9L965.4 2047.7L973.1 2047.5L976.9 2047.6L984.6 2047.9L988.4 2048.3L996.1 2049.2L1000 2049.7L1007.7 2051.1L1015.3 2052.8L1023 2054.8L1034.6 2058.2L1046.1 2062L1057.6 2066L1080.7 2074.3L1096.1 2079.6L1103.7 2082L1111.4 2084.2L1119.1 2086.2L1123 2087.1L1130.6 2088.7L1134.5 2089.4L1142.2 2090.5L1146 2091L1153.7 2091.6L1157.6 2091.8L1165.2 2092L1172.9 2091.8L1176.8 2091.5L1184.5 2090.8L1192.1 2089.7L1196 2089.1L1203.7 2087.5L1207.5 2086.7L1215.2 2084.8L1226.7 2081.4L1234.4 2079L1242.1 2076.5L1265.2 2068.4L1276.7 2064.5L1288.2 2060.9L1299.8 2057.8L1307.4 2056L1311.3 2055.2L1319 2053.9L1322.8 2053.4L1330.5 2052.6L1334.3 2052.4L1342 2052.2L1349.7 2052.4L1353.6 2052.7L1361.2 2053.5L1365.1 2054.1L1372.8 2055.5L1376.6 2056.4L1384.3 2058.3L1392 2060.6L1403.5 2064.5L1415.1 2068.8L1438.1 2077.8L1449.6 2082L1457.3 2084.5L1461.2 2085.6L1468.9 2087.6L1476.5 2089.2L1480.4 2089.8L1484.2 2090.2L1488.1 2090.6L1491.9 2090.7L1495.8 2090.8L1499.6 2090.7L1503.4 2090.4L1507.3 2090L1511.1 2089.4L1515 2088.7L1518.8 2087.8L1522.7 2086.8L1526.5 2085.6L1530.4 2084.3L1534.2 2082.9L1541.9 2079.6L1549.6 2076L1557.3 2072.1L1572.6 2063.9L1580.3 2060L1588 2056.5L1591.8 2054.9L1595.7 2053.6L1599.5 2052.4L1603.4 2051.4L1607.2 2050.7L1611.1 2050.2L1614.9 2050.1L1618.7 2050.2L1622.6 2050.7L1626.4 2051.5L1630.3 2052.7L1634.1 2054.2L1638 2056.1L1641.8 2058.3L1645.7 2060.8L1649.5 2063.7L1653.3 2066.8L1657.2 2070.2L1661 2073.8L1672.6 2085L1676.4 2088.5L1680.2 2091.8L1684.1 2094.6L1687.9 2096.8L1691.8 2098.2L1695.6 2098.5L1699.5 2097.6L1703.3 2095.1L1707.1 2090.8L1711 2084.2L1714.8 2074.9L1718.7 2062.6L1722.5 2046.7L1726.4 2026.8" stroke="#EDB120" stroke-width="6.7"/>
<path d="M123.7 1944.5L127.5 1986.2L131.4 2021.3L135.2 2050.3L139.1 2074L142.9 2092.7L146.8 2107.1L150.6 2102.5L154.4 2095.3L158.3 2091.2L162.1 2089.6L166 2090.2L169.8 2092.8L173.7 2096.9L177.5 2102.3L181.3 2108.8L185.2 2104.2L189 2096.4L192.9 2088.2L204.4 2063L208.3 2054.9L212.1 2047.2L215.9 2039.9L219.8 2033.1L223.6 2027L227.5 2021.5L231.3 2016.7L235.2 2012.7L239 2009.5L242.8 2007.2L246.7 2005.6L250.5 2005L254.4 2005.1L258.2 2006.1L262.1 2008L265.9 2010.6L269.7 2014.1L273.6 2018.3L277.4 2023.3L281.3 2029L285.1 2035.3L289 2042.3L292.8 2050L296.6 2058.1L300.5 2066.9L304.3 2076L308.2 2085.7L312 2095.7L315.9 2106L319.7 2103.5L323.6 2092.6L331.2 2070.2L350.5 2012.8L358.1 1990.2L365.8 1968.2L369.7 1957.5L377.4 1937L381.2 1927.2L385 1917.7L388.9 1908.6L392.7 1899.9L396.6 1891.5L400.4 1883.7L404.3 1876.2L408.1 1869.3L411.9 1862.8L415.8 1856.7L419.6 1851.2L423.5 1846.2L427.3 1841.7L431.2 1837.7L435 1834.2L438.9 1831.3L442.7 1828.9L446.5 1826.9L450.4 1825.5L454.2 1824.7L458.1 1824.3L461.9 1824.4L465.8 1825L469.6 1826.1L473.4 1827.7L477.3 1829.7L481.1 1832.2L485 1835.1L488.8 1838.5L492.7 1842.2L496.5 1846.4L500.3 1850.9L504.2 1855.8L508 1861L511.9 1866.6L515.7 1872.4L519.6 1878.6L523.4 1885L531.1 1898.6L538.8 1913L546.5 1928.1L554.2 1943.8L561.8 1959.8L584.9 2008.9L596.4 2033.1L608 2056.5L615.6 2071.4L623.3 2085.8L627.2 2092.7L634.9 2106L638.7 2107.9L646.4 2095.9L650.2 2090.2L654.1 2084.7L657.9 2079.5L661.8 2074.5L665.6 2069.8L669.4 2065.3L673.3 2061.1L677.1 2057.1L681 2053.3L684.8 2049.8L688.7 2046.6L692.5 2043.6L696.4 2040.9L700.2 2038.4L704 2036.1L707.9 2034.1L711.7 2032.3L715.6 2030.8L719.4 2029.5L723.3 2028.4L727.1 2027.6L730.9 2026.9L734.8 2026.5L738.6 2026.3L742.5 2026.2L746.3 2026.4L750.2 2026.7L754 2027.2L757.8 2027.9L761.7 2028.7L765.5 2029.7L769.4 2030.8L773.2 2032L777.1 2033.4L784.7 2036.5L788.6 2038.2L796.3 2041.8L807.8 2047.7L819.3 2054.1L842.4 2067L850.1 2071.2L857.8 2075.2L865.5 2079L873.1 2082.6L880.8 2085.8L884.7 2087.3L892.4 2090.1L896.2 2091.3L903.9 2093.5L907.7 2094.4L915.4 2096L919.3 2096.7L923.1 2097.2L930.8 2097.9L934.6 2098.2L942.3 2098.3L946.2 2098.2L953.9 2097.8L957.7 2097.4L965.4 2096.4L969.2 2095.8L976.9 2094.3L980.8 2093.4L988.4 2091.4L996.1 2089.3L1003.8 2086.9L1011.5 2084.3L1019.2 2081.6L1049.9 2070.3L1061.5 2066.3L1073 2062.5L1084.5 2059.1L1092.2 2057.2L1099.9 2055.4L1107.6 2054L1111.4 2053.4L1119.1 2052.4L1126.8 2051.7L1134.5 2051.3L1138.3 2051.3L1146 2051.4L1149.9 2051.5L1157.6 2052.1L1161.4 2052.5L1169.1 2053.5L1172.9 2054.2L1180.6 2055.6L1192.1 2058.2L1203.7 2061.2L1219 2065.7L1253.6 2076.5L1265.2 2079.8L1276.7 2082.7L1288.2 2085.2L1295.9 2086.5L1299.8 2087L1307.4 2087.9L1311.3 2088.2L1319 2088.6L1322.8 2088.7L1330.5 2088.6L1334.3 2088.4L1338.2 2088.2L1345.9 2087.4L1349.7 2086.9L1357.4 2085.6L1361.2 2084.9L1368.9 2083.2L1376.6 2081.3L1388.1 2078L1399.7 2074.4L1422.7 2066.8L1434.3 2063.3L1445.8 2060.1L1453.5 2058.3L1457.3 2057.6L1465 2056.3L1468.9 2055.8L1476.5 2055.1L1484.2 2054.9L1488.1 2055L1495.8 2055.4L1503.4 2056.4L1511.1 2057.8L1518.8 2059.7L1526.5 2062L1534.2 2064.7L1541.9 2067.6L1549.6 2070.8L1564.9 2077.3L1572.6 2080.4L1580.3 2083.3L1588 2085.7L1591.8 2086.7L1595.7 2087.6L1599.5 2088.2L1603.4 2088.7L1607.2 2088.9L1611.1 2089L1614.9 2088.8L1618.7 2088.3L1622.6 2087.6L1626.4 2086.6L1630.3 2085.4L1634.1 2083.9L1638 2082.2L1641.8 2080.2L1645.7 2077.9L1649.5 2075.5L1657.2 2070.1L1672.6 2058.6L1676.4 2056L1680.2 2053.7L1684.1 2051.7L1687.9 2050.3L1691.8 2049.6L1695.6 2049.7L1699.5 2050.8L1703.3 2053.2L1707.1 2057L1711 2062.5L1714.8 2070L1718.7 2079.9L1722.5 2092.4L1726.4 2107.8" stroke="#7E2F8E" stroke-width="6.7"/>
<path d="M123.7 2012L127.5 2063.7L131.4 2105.4L135.2 2081.8L139.1 2056.6L142.9 2037.9L146.8 2025L150.6 2016.8L154.4 2012.8L158.3 2012.1L162.1 2014.2L166 2018.5L169.8 2024.5L173.7 2031.8L177.5 2039.9L192.9 2075.3L196.7 2083.7L200.6 2091.5L204.4 2098.7L208.3 2105.1L212.1 2109.5L215.9 2104.8L219.8 2101L223.6 2098.1L227.5 2096.1L231.3 2095L235.2 2094.8L239 2095.5L242.8 2096.9L246.7 2099.2L250.5 2102.1L254.4 2105.6L258.2 2109.8L262.1 2105.8L265.9 2100.7L269.7 2095.3L273.6 2089.5L277.4 2083.6L292.8 2058.7L300.5 2046.6L304.3 2040.9L308.2 2035.4L312 2030.2L315.9 2025.4L319.7 2021L323.6 2017L327.4 2013.5L331.2 2010.5L335.1 2008.1L338.9 2006.2L342.8 2004.8L346.6 2004.1L350.5 2003.9L354.3 2004.4L358.1 2005.4L362 2007.1L365.8 2009.4L369.7 2012.2L373.5 2015.7L377.4 2019.8L381.2 2024.4L385 2029.6L388.9 2035.3L392.7 2041.5L396.6 2048.2L400.4 2055.4L404.3 2063L408.1 2071.1L411.9 2079.5L415.8 2088.3L423.5 2106.8L427.3 2103.7L431.2 2093.8L438.9 2073.5L465.8 2000.1L473.4 1979.5L481.1 1959.6L488.8 1940.5L496.5 1922.5L500.3 1913.9L504.2 1905.7L508 1897.9L511.9 1890.4L515.7 1883.3L519.6 1876.6L523.4 1870.3L527.2 1864.4L531.1 1859L534.9 1854.1L538.8 1849.6L542.6 1845.6L546.5 1842L550.3 1839L554.2 1836.4L558 1834.3L561.8 1832.6L565.7 1831.5L569.5 1830.8L573.4 1830.6L577.2 1830.9L581.1 1831.6L584.9 1832.8L588.7 1834.5L592.6 1836.5L596.4 1839L600.3 1842L604.1 1845.3L608 1849L611.8 1853.1L615.6 1857.5L619.5 1862.3L623.3 1867.5L627.2 1872.9L631 1878.7L634.9 1884.7L638.7 1891L642.5 1897.5L650.2 1911.3L657.9 1925.8L665.6 1940.9L673.3 1956.4L704 2020.4L711.7 2036.1L719.4 2051.5L727.1 2066.4L734.8 2080.7L742.5 2094.4L750.2 2107.3L754 2106.8L757.8 2100.8L761.7 2095.1L765.5 2089.6L769.4 2084.4L773.2 2079.4L777.1 2074.6L780.9 2070.1L784.7 2065.8L788.6 2061.7L792.4 2058L796.3 2054.4L800.1 2051.2L804 2048.1L807.8 2045.4L811.7 2042.8L815.5 2040.6L819.3 2038.5L823.2 2036.8L827 2035.2L830.9 2033.9L834.7 2032.8L838.6 2031.9L842.4 2031.2L846.2 2030.8L850.1 2030.5L853.9 2030.5L857.8 2030.6L861.6 2030.9L865.5 2031.4L869.3 2032.1L873.1 2032.9L877 2033.8L880.8 2034.9L888.5 2037.5L896.2 2040.4L900 2042.1L907.7 2045.5L919.3 2051.2L946.2 2065.3L957.7 2071.1L969.2 2076.5L976.9 2079.8L980.8 2081.3L988.4 2084.2L996.1 2086.7L1003.8 2088.8L1007.7 2089.7L1015.3 2091.3L1019.2 2091.9L1023 2092.4L1030.7 2093.2L1034.6 2093.4L1042.3 2093.6L1046.1 2093.5L1053.8 2093.1L1057.6 2092.7L1065.3 2091.8L1069.2 2091.2L1076.8 2089.8L1088.4 2087.1L1099.9 2084L1111.4 2080.6L1138.3 2072.1L1149.9 2068.6L1161.4 2065.3L1172.9 2062.4L1184.5 2060.1L1192.1 2058.8L1196 2058.3L1203.7 2057.4L1207.5 2057.1L1215.2 2056.6L1219 2056.5L1226.7 2056.6L1230.6 2056.7L1238.3 2057.1L1245.9 2057.8L1257.5 2059.4L1269 2061.4L1280.5 2063.9L1292.1 2066.6L1322.8 2074.2L1334.3 2076.8L1342 2078.3L1353.6 2080.3L1361.2 2081.3L1365.1 2081.7L1372.8 2082.4L1376.6 2082.6L1384.3 2082.8L1392 2082.8L1399.7 2082.4L1407.4 2081.8L1411.2 2081.3L1418.9 2080.3L1426.6 2079.1L1438.1 2076.8L1449.6 2074.2L1476.5 2068L1484.2 2066.3L1491.9 2064.9L1499.6 2063.6L1507.3 2062.7L1515 2062L1522.7 2061.7L1530.4 2061.8L1538 2062.3L1545.7 2063.1L1549.6 2063.7L1557.3 2065.1L1564.9 2066.7L1572.6 2068.7L1599.5 2076L1607.2 2077.9L1614.9 2079.3L1618.7 2079.9L1622.6 2080.3L1626.4 2080.6L1630.3 2080.7L1634.1 2080.6L1638 2080.4L1641.8 2080L1645.7 2079.3L1649.5 2078.5L1653.3 2077.5L1657.2 2076.2L1661 2074.9L1664.9 2073.3L1668.7 2071.7L1680.2 2066.4L1684.1 2064.8L1687.9 2063.2L1691.8 2062L1695.6 2061.1L1699.5 2060.7L1703.3 2061L1707.1 2062.1L1711 2064.1L1714.8 2067.4L1718.7 2072.1L1722.5 2078.5L1726.4 2086.9" stroke="#77AC30" stroke-width="6.7"/>
<path d="M123.7 2054.6L127.5 2065.2L131.4 2072.9L135.2 2078.1L139.1 2081.3L142.9 2082.8L146.8 2083L150.6 2082.1L154.4 2080.5L158.3 2078.3L162.1 2075.8L173.7 2067.5L177.5 2064.9L181.3 2062.5L185.2 2060.5L189 2058.7L192.9 2057.3L196.7 2056.3L200.6 2055.6L204.4 2055.3L208.3 2055.4L212.1 2055.9L215.9 2056.7L219.8 2057.8L223.6 2059.2L227.5 2060.8L231.3 2062.7L235.2 2064.7L242.8 2069.2L258.2 2078.7L265.9 2083.3L269.7 2085.4L273.6 2087.4L277.4 2089.2L281.3 2090.8L285.1 2092.2L289 2093.4L292.8 2094.4L296.6 2095.1L300.5 2095.6L304.3 2095.9L308.2 2095.8L312 2095.5L315.9 2095L319.7 2094.2L323.6 2093.2L327.4 2091.9L331.2 2090.4L335.1 2088.7L338.9 2086.7L342.8 2084.6L346.6 2082.3L350.5 2079.9L358.1 2074.6L365.8 2068.9L388.9 2051.2L396.6 2045.6L404.3 2040.5L408.1 2038.2L411.9 2036L415.8 2034.1L419.6 2032.3L423.5 2030.8L427.3 2029.5L431.2 2028.5L435 2027.8L438.9 2027.3L442.7 2027.2L446.5 2027.3L450.4 2027.8L454.2 2028.5L458.1 2029.6L461.9 2031.1L465.8 2032.9L469.6 2035L473.4 2037.5L477.3 2040.3L481.1 2043.4L485 2046.9L488.8 2050.7L492.7 2054.9L496.5 2059.3L500.3 2064.1L504.2 2069.2L508 2074.6L511.9 2080.3L515.7 2086.3L519.6 2092.5L527.2 2105.7L531.1 2107.5L534.9 2100.4L542.6 2085.5L554.2 2062.1L565.7 2037.8L588.7 1988.4L596.4 1972.3L604.1 1956.6L611.8 1941.6L619.5 1927.3L627.2 1913.8L631 1907.4L634.9 1901.3L638.7 1895.5L642.5 1890L646.4 1884.8L650.2 1879.8L654.1 1875.2L657.9 1871L661.8 1867.1L665.6 1863.5L669.4 1860.3L673.3 1857.5L677.1 1855L681 1852.9L684.8 1851.2L688.7 1849.9L692.5 1849L696.4 1848.4L700.2 1848.3L704 1848.5L707.9 1849.1L711.7 1850.1L715.6 1851.5L719.4 1853.2L723.3 1855.3L727.1 1857.8L730.9 1860.6L734.8 1863.8L738.6 1867.4L742.5 1871.2L746.3 1875.4L750.2 1879.9L754 1884.7L757.8 1889.8L761.7 1895.2L765.5 1900.9L769.4 1906.8L777.1 1919.3L784.7 1932.6L788.6 1939.6L796.3 1953.9L804 1968.9L811.7 1984.2L838.6 2039.2L850.1 2062.4L861.6 2084.9L869.3 2099.2L873.1 2106.2L877 2107.3L884.7 2094.2L892.4 2082L896.2 2076.2L900 2070.7L903.9 2065.3L907.7 2060.3L911.6 2055.4L915.4 2050.8L919.3 2046.5L923.1 2042.5L927 2038.7L930.8 2035.1L934.6 2031.9L938.5 2028.9L942.3 2026.2L946.2 2023.8L950 2021.6L953.9 2019.8L957.7 2018.2L961.5 2016.8L965.4 2015.8L969.2 2015L973.1 2014.4L976.9 2014.1L980.8 2014.1L984.6 2014.3L988.4 2014.7L992.3 2015.3L996.1 2016.2L1000 2017.3L1003.8 2018.6L1007.7 2020L1011.5 2021.7L1015.3 2023.5L1019.2 2025.5L1023 2027.6L1030.7 2032.3L1034.6 2034.8L1042.3 2040.1L1053.8 2048.7L1076.8 2066.7L1088.4 2075.5L1096.1 2081.1L1099.9 2083.8L1107.6 2088.8L1111.4 2091.2L1119.1 2095.7L1123 2097.7L1126.8 2099.6L1130.6 2101.3L1134.5 2102.9L1138.3 2104.3L1142.2 2105.6L1146 2106.7L1149.9 2107.7L1153.7 2108.5L1157.6 2109.1L1161.4 2109.6L1165.2 2109.9L1169.1 2110L1172.9 2109.9L1176.8 2109.7L1180.6 2109.3L1184.5 2108.8L1188.3 2108L1192.1 2107.2L1196 2106.2L1199.8 2105L1203.7 2103.7L1207.5 2102.2L1211.4 2100.7L1219 2097.2L1222.9 2095.3L1230.6 2091.2L1242.1 2084.6L1269 2067.9L1280.5 2061L1288.2 2056.7L1292.1 2054.6L1299.8 2050.8L1307.4 2047.5L1311.3 2046L1315.1 2044.6L1319 2043.4L1322.8 2042.4L1326.7 2041.5L1330.5 2040.7L1334.3 2040.1L1338.2 2039.7L1342 2039.5L1345.9 2039.4L1349.7 2039.5L1353.6 2039.8L1357.4 2040.2L1361.2 2040.8L1365.1 2041.6L1368.9 2042.5L1372.8 2043.7L1376.6 2044.9L1380.5 2046.3L1384.3 2047.9L1388.1 2049.6L1395.8 2053.4L1399.7 2055.4L1407.4 2059.8L1415.1 2064.5L1442 2081.5L1449.6 2086.1L1453.5 2088.2L1461.2 2092.2L1465 2094L1468.9 2095.6L1472.7 2097.1L1476.5 2098.3L1480.4 2099.4L1484.2 2100.3L1488.1 2101L1491.9 2101.4L1495.8 2101.7L1499.6 2101.6L1503.4 2101.4L1507.3 2100.9L1511.1 2100.1L1515 2099.1L1518.8 2097.9L1522.7 2096.4L1526.5 2094.7L1530.4 2092.8L1534.2 2090.6L1538 2088.3L1541.9 2085.8L1549.6 2080.2L1557.3 2074.2L1572.6 2061.6L1580.3 2055.6L1584.2 2052.7L1588 2050L1591.8 2047.5L1595.7 2045.3L1599.5 2043.4L1603.4 2041.8L1607.2 2040.6L1611.1 2039.7L1614.9 2039.3L1618.7 2039.4L1622.6 2040L1626.4 2041.1L1630.3 2042.7L1634.1 2044.8L1638 2047.5L1641.8 2050.7L1645.7 2054.5L1649.5 2058.7L1653.3 2063.3L1657.2 2068.4L1661 2073.7L1672.6 2090.4L1676.4 2095.8L1680.2 2100.7L1684.1 2105L1687.9 2108.5L1691.8 2109.5L1695.6 2108.8L1699.5 2110L1703.3 2106.8L1707.1 2100.5L1711 2090.9L1714.8 2077.4L1718.7 2059.3L1722.5 2035.9L1726.4 2006.5" stroke="#4DBEEE" stroke-width="6.7"/>
<path d="M123.7 1964.1L127.5 2001.6L131.4 2032.4L135.2 2057.2L139.1 2076.7L142.9 2091.7L146.8 2102.7L150.6 2110L154.4 2105.4L158.3 2103.3L162.1 2103.3L166 2105L169.8 2108.1L173.7 2107.9L177.5 2103L181.3 2097.4L185.2 2091.4L196.7 2073L200.6 2067L204.4 2061.4L208.3 2056.2L212.1 2051.4L215.9 2047L219.8 2043.3L223.6 2040L227.5 2037.3L231.3 2035.2L235.2 2033.7L239 2032.7L242.8 2032.3L246.7 2032.4L250.5 2033L254.4 2034.1L258.2 2035.6L262.1 2037.5L265.9 2039.8L269.7 2042.4L273.6 2045.3L277.4 2048.5L281.3 2051.9L285.1 2055.4L292.8 2062.9L308.2 2078.3L315.9 2085.6L319.7 2089.1L323.6 2092.5L327.4 2095.6L331.2 2098.5L335.1 2101.3L338.9 2103.7L342.8 2105.9L346.6 2107.9L350.5 2109.6L354.3 2109.3L358.1 2108.2L362 2107.4L365.8 2106.9L369.7 2106.7L373.5 2106.8L377.4 2107.3L381.2 2108L388.9 2110L392.7 2108.5L396.6 2106.7L400.4 2104.6L404.3 2102.4L408.1 2099.9L411.9 2097.2L415.8 2094.3L419.6 2091.3L427.3 2084.8L435 2077.9L442.7 2070.6L461.9 2052.2L469.6 2045.1L473.4 2041.7L481.1 2035.2L485 2032.2L488.8 2029.4L492.7 2026.7L496.5 2024.3L500.3 2022L504.2 2020L508 2018.2L511.9 2016.6L515.7 2015.3L519.6 2014.3L523.4 2013.5L527.2 2013.1L531.1 2012.9L534.9 2013L538.8 2013.4L542.6 2014.2L546.5 2015.2L550.3 2016.5L554.2 2018.2L558 2020.1L561.8 2022.4L565.7 2025L569.5 2027.9L573.4 2031.1L577.2 2034.6L581.1 2038.4L584.9 2042.4L588.7 2046.8L592.6 2051.4L596.4 2056.3L600.3 2061.4L604.1 2066.8L608 2072.5L611.8 2078.3L619.5 2090.7L627.2 2103.7L631 2109.7L638.7 2095.6L646.4 2081.1L657.9 2058.8L684.8 2005.7L696.4 1983.6L704 1969.4L711.7 1955.8L715.6 1949.2L723.3 1936.5L730.9 1924.7L734.8 1919.1L738.6 1913.7L742.5 1908.6L746.3 1903.7L750.2 1899.1L754 1894.8L757.8 1890.7L761.7 1886.9L765.5 1883.4L769.4 1880.2L773.2 1877.4L777.1 1874.8L780.9 1872.5L784.7 1870.5L788.6 1868.9L792.4 1867.6L796.3 1866.5L800.1 1865.8L804 1865.5L807.8 1865.4L811.7 1865.7L815.5 1866.3L819.3 1867.1L823.2 1868.3L827 1869.8L830.9 1871.7L834.7 1873.8L838.6 1876.2L842.4 1878.8L846.2 1881.8L850.1 1885L853.9 1888.5L857.8 1892.3L861.6 1896.3L865.5 1900.5L869.3 1905L873.1 1909.7L877 1914.6L884.7 1925L892.4 1936.1L900 1947.9L907.7 1960.2L915.4 1972.9L923.1 1985.9L957.7 2046.4L969.2 2066.1L976.9 2078.9L984.6 2091.3L992.3 2103.2L996.1 2109L1000 2105.6L1007.7 2094.8L1015.3 2084.7L1023 2075.3L1026.9 2070.9L1030.7 2066.7L1034.6 2062.7L1038.4 2058.9L1042.3 2055.3L1046.1 2051.9L1049.9 2048.7L1053.8 2045.7L1057.6 2043L1061.5 2040.4L1065.3 2038.1L1069.2 2036L1073 2034.1L1076.8 2032.4L1080.7 2030.9L1084.5 2029.7L1088.4 2028.6L1092.2 2027.8L1096.1 2027.1L1099.9 2026.7L1103.7 2026.4L1107.6 2026.3L1111.4 2026.4L1115.3 2026.7L1119.1 2027.2L1123 2027.8L1126.8 2028.6L1130.6 2029.5L1134.5 2030.6L1138.3 2031.8L1142.2 2033.1L1146 2034.6L1153.7 2037.9L1161.4 2041.5L1172.9 2047.5L1184.5 2054L1211.4 2069.6L1222.9 2076L1230.6 2080L1238.3 2083.7L1245.9 2087L1249.8 2088.6L1257.5 2091.3L1261.3 2092.6L1269 2094.7L1272.8 2095.6L1280.5 2097L1284.4 2097.5L1288.2 2097.9L1292.1 2098.2L1295.9 2098.3L1299.8 2098.3L1303.6 2098.2L1311.3 2097.7L1315.1 2097.2L1322.8 2095.9L1326.7 2095.1L1334.3 2093.3L1338.2 2092.2L1345.9 2089.7L1349.7 2088.4L1357.4 2085.5L1368.9 2080.8L1395.8 2069.1L1403.5 2065.8L1415.1 2061.3L1422.7 2058.6L1430.4 2056.2L1434.3 2055.2L1442 2053.4L1445.8 2052.7L1453.5 2051.5L1457.3 2051.2L1461.2 2050.9L1465 2050.8L1468.9 2050.9L1472.7 2051L1476.5 2051.3L1480.4 2051.7L1484.2 2052.3L1488.1 2052.9L1491.9 2053.7L1495.8 2054.7L1503.4 2056.9L1511.1 2059.5L1515 2060.9L1522.7 2064L1530.4 2067.4L1553.4 2077.9L1561.1 2081.2L1568.8 2084.1L1572.6 2085.4L1576.5 2086.6L1580.3 2087.7L1584.2 2088.6L1588 2089.3L1591.8 2089.8L1595.7 2090.1L1599.5 2090.3L1603.4 2090.2L1607.2 2089.9L1611.1 2089.3L1614.9 2088.5L1618.7 2087.5L1622.6 2086.3L1626.4 2084.8L1630.3 2083.1L1634.1 2081.1L1638 2079L1641.8 2076.7L1649.5 2071.7L1664.9 2060.9L1668.7 2058.4L1672.6 2056L1676.4 2053.9L1680.2 2052.2L1684.1 2050.9L1687.9 2050.2L1691.8 2050.1L1695.6 2050.9L1699.5 2052.6L1703.3 2055.5L1707.1 2059.6L1711 2065.2L1714.8 2072.5L1718.7 2081.7L1722.5 2093L1726.4 2106.7" stroke="#A2142F" stroke-width="6.7"/>
<path d="M123.7 2070.3L127.5 2101L131.4 2094.8L135.2 2075.8L139.1 2061.5L142.9 2051.2L146.8 2044.2L150.6 2040.2L154.4 2038.4L158.3 2038.6L162.1 2040.3L166 2043.2L169.8 2046.9L173.7 2051.3L177.5 2056.1L189 2071.1L192.9 2075.9L196.7 2080.3L200.6 2084.3L204.4 2087.9L208.3 2091.1L212.1 2093.7L215.9 2095.8L219.8 2097.4L223.6 2098.5L227.5 2099.1L231.3 2099.2L235.2 2098.8L239 2098L242.8 2096.8L246.7 2095.3L250.5 2093.4L254.4 2091.2L258.2 2088.8L262.1 2086.2L265.9 2083.5L273.6 2077.6L289 2065.7L296.6 2060.1L300.5 2057.5L304.3 2055.1L308.2 2052.9L312 2050.8L315.9 2049L319.7 2047.5L323.6 2046.1L327.4 2045L331.2 2044.2L335.1 2043.6L338.9 2043.2L342.8 2043.2L346.6 2043.3L350.5 2043.8L354.3 2044.4L358.1 2045.3L362 2046.4L365.8 2047.7L369.7 2049.2L373.5 2050.9L377.4 2052.8L385 2057L392.7 2061.6L400.4 2066.5L423.5 2081.9L431.2 2086.8L435 2089.1L442.7 2093.4L446.5 2095.3L450.4 2097.1L454.2 2098.8L458.1 2100.2L461.9 2101.5L465.8 2102.7L469.6 2103.6L473.4 2104.4L477.3 2104.9L481.1 2105.3L485 2105.4L488.8 2105.4L492.7 2105.1L496.5 2104.6L500.3 2103.9L504.2 2103L508 2102L511.9 2100.7L515.7 2099.2L519.6 2097.6L523.4 2095.8L527.2 2093.8L531.1 2091.7L534.9 2089.4L542.6 2084.4L546.5 2081.8L554.2 2076.2L565.7 2067.3L584.9 2052.1L596.4 2043.4L604.1 2038L608 2035.5L611.8 2033.1L615.6 2030.9L619.5 2028.8L623.3 2026.9L627.2 2025.2L631 2023.7L634.9 2022.4L638.7 2021.3L642.5 2020.4L646.4 2019.8L650.2 2019.4L654.1 2019.3L657.9 2019.5L661.8 2019.9L665.6 2020.6L669.4 2021.6L673.3 2022.9L677.1 2024.5L681 2026.3L684.8 2028.5L688.7 2030.9L692.5 2033.6L696.4 2036.7L700.2 2040L704 2043.6L707.9 2047.5L711.7 2051.7L715.6 2056.1L719.4 2060.9L723.3 2065.9L727.1 2071.1L730.9 2076.6L734.8 2082.3L738.6 2088.3L742.5 2094.5L750.2 2107.5L754 2106L757.8 2099L765.5 2084.7L777.1 2062.2L784.7 2046.8L807.8 1999.7L815.5 1984.2L823.2 1969L830.9 1954.3L838.6 1940.1L846.2 1926.7L853.9 1914L857.8 1908L861.6 1902.3L865.5 1896.8L869.3 1891.6L873.1 1886.7L877 1882L880.8 1877.7L884.7 1873.7L888.5 1870L892.4 1866.6L896.2 1863.5L900 1860.9L903.9 1858.5L907.7 1856.5L911.6 1854.9L915.4 1853.6L919.3 1852.7L923.1 1852.2L927 1852L930.8 1852.2L934.6 1852.8L938.5 1853.8L942.3 1855.1L946.2 1856.8L950 1858.8L953.9 1861.2L957.7 1863.9L961.5 1867L965.4 1870.4L969.2 1874.1L973.1 1878.2L976.9 1882.6L980.8 1887.3L984.6 1892.2L988.4 1897.5L992.3 1903L996.1 1908.8L1000 1914.8L1007.7 1927.5L1015.3 1941L1023 1955.2L1030.7 1970L1038.4 1985.2L1069.2 2047.7L1080.7 2070.7L1092.2 2092.8L1099.9 2106.8L1103.7 2106.6L1111.4 2093.7L1119.1 2081.6L1123 2075.9L1126.8 2070.4L1130.6 2065.2L1134.5 2060.3L1138.3 2055.6L1142.2 2051.1L1146 2047L1149.9 2043.1L1153.7 2039.6L1157.6 2036.3L1161.4 2033.3L1165.2 2030.6L1169.1 2028.2L1172.9 2026.1L1176.8 2024.2L1180.6 2022.7L1184.5 2021.5L1188.3 2020.5L1192.1 2019.9L1196 2019.5L1199.8 2019.3L1203.7 2019.5L1207.5 2019.9L1211.4 2020.5L1215.2 2021.4L1219 2022.5L1222.9 2023.8L1226.7 2025.4L1230.6 2027.1L1234.4 2029L1238.3 2031.1L1242.1 2033.4L1245.9 2035.8L1249.8 2038.3L1257.5 2043.7L1269 2052.4L1288.2 2067.7L1299.8 2076.5L1307.4 2082.1L1311.3 2084.7L1319 2089.7L1322.8 2091.9L1326.7 2094L1330.5 2096L1334.3 2097.8L1338.2 2099.4L1342 2100.9L1345.9 2102.1L1349.7 2103.2L1353.6 2104L1357.4 2104.7L1361.2 2105.1L1365.1 2105.4L1368.9 2105.4L1372.8 2105.2L1376.6 2104.9L1380.5 2104.3L1384.3 2103.5L1388.1 2102.5L1392 2101.4L1395.8 2100.1L1399.7 2098.6L1403.5 2096.9L1407.4 2095.1L1411.2 2093.1L1418.9 2088.8L1422.7 2086.5L1430.4 2081.6L1453.5 2066.2L1461.2 2061.3L1468.9 2056.7L1472.7 2054.5L1476.5 2052.6L1480.4 2050.7L1484.2 2049L1488.1 2047.6L1491.9 2046.3L1495.8 2045.2L1499.6 2044.3L1503.4 2043.7L1507.3 2043.3L1511.1 2043.2L1515 2043.3L1518.8 2043.6L1522.7 2044.3L1526.5 2045.1L1530.4 2046.3L1534.2 2047.6L1538 2049.2L1541.9 2051.1L1545.7 2053.1L1549.6 2055.4L1553.4 2057.8L1561.1 2063.2L1568.8 2069L1584.2 2080.9L1591.8 2086.6L1595.7 2089.1L1599.5 2091.5L1603.4 2093.6L1607.2 2095.5L1611.1 2097L1614.9 2098.1L1618.7 2098.9L1622.6 2099.2L1626.4 2099L1630.3 2098.4L1634.1 2097.3L1638 2095.6L1641.8 2093.4L1645.7 2090.7L1649.5 2087.5L1653.3 2083.8L1657.2 2079.7L1661 2075.3L1664.9 2070.5L1676.4 2055.5L1680.2 2050.8L1684.1 2046.4L1687.9 2042.8L1691.8 2040L1695.6 2038.5L1699.5 2038.5L1703.3 2040.5L1707.1 2044.9L1711 2052.3L1714.8 2063.1L1718.7 2077.9L1722.5 2097.5L1726.4 2097.5" stroke="#0072BD" stroke-width="6.7"/>
<path d="M123.7 1975.1L127.5 2010.5L131.4 2039.2L135.2 2061.8L139.1 2079.3L142.9 2092.3L146.8 2101.4L150.6 2107.3L154.4 2109.7L158.3 2108.8L162.1 2109.7L166 2108.1L169.8 2104.5L173.7 2100.1L177.5 2095.1L181.3 2089.7L192.9 2073L196.7 2067.7L200.6 2062.7L204.4 2058.1L208.3 2054L212.1 2050.3L215.9 2047.2L219.8 2044.5L223.6 2042.5L227.5 2040.9L231.3 2039.9L235.2 2039.4L239 2039.4L242.8 2039.8L246.7 2040.7L250.5 2042L254.4 2043.6L258.2 2045.6L262.1 2047.8L265.9 2050.3L269.7 2053L273.6 2055.9L281.3 2062L296.6 2074.6L304.3 2080.6L312 2086.1L315.9 2088.6L319.7 2090.9L323.6 2093L327.4 2094.9L331.2 2096.6L335.1 2098.1L338.9 2099.3L342.8 2100.2L346.6 2101L350.5 2101.4L354.3 2101.7L358.1 2101.6L362 2101.4L365.8 2100.9L369.7 2100.2L373.5 2099.3L377.4 2098.2L381.2 2096.9L385 2095.4L388.9 2093.8L392.7 2092L400.4 2088L404.3 2085.8L411.9 2081.2L435 2066.6L446.5 2059.5L454.2 2055.2L458.1 2053.1L465.8 2049.4L469.6 2047.7L473.4 2046.2L477.3 2044.8L481.1 2043.5L485 2042.4L488.8 2041.5L492.7 2040.7L496.5 2040.1L500.3 2039.7L504.2 2039.5L508 2039.4L511.9 2039.5L515.7 2039.8L519.6 2040.2L523.4 2040.8L527.2 2041.6L531.1 2042.5L534.9 2043.6L538.8 2044.8L542.6 2046.2L550.3 2049.3L554.2 2051.1L561.8 2054.9L565.7 2056.9L573.4 2061.3L584.9 2068.2L608 2082.5L615.6 2087.1L623.3 2091.5L631 2095.5L638.7 2099.2L646.4 2102.4L650.2 2103.9L654.1 2105.1L657.9 2106.3L661.8 2107.3L665.6 2108.1L669.4 2108.8L673.3 2109.4L677.1 2109.7L681 2109.9L684.8 2110L688.7 2109.8L692.5 2109.5L696.4 2109.1L700.2 2108.4L704 2107.6L707.9 2106.6L711.7 2105.5L715.6 2104.2L719.4 2102.7L723.3 2101.1L727.1 2099.3L730.9 2097.4L734.8 2095.4L742.5 2090.9L746.3 2088.5L754 2083.4L757.8 2080.7L765.5 2075.1L773.2 2069.3L800.1 2048.3L811.7 2039.8L819.3 2034.5L823.2 2032L830.9 2027.3L834.7 2025.2L838.6 2023.3L842.4 2021.5L846.2 2019.8L850.1 2018.4L853.9 2017.1L857.8 2016.1L861.6 2015.2L865.5 2014.6L869.3 2014.2L873.1 2014.1L877 2014.1L880.8 2014.5L884.7 2015L888.5 2015.9L892.4 2017L896.2 2018.4L900 2020L903.9 2021.9L907.7 2024.1L911.6 2026.5L915.4 2029.3L919.3 2032.3L923.1 2035.6L927 2039.1L930.8 2042.9L934.6 2047L938.5 2051.4L942.3 2056L946.2 2060.9L950 2066L953.9 2071.3L957.7 2076.9L961.5 2082.8L969.2 2095L976.9 2108.1L980.8 2105.3L984.6 2098.3L992.3 2084L1000 2069.1L1007.7 2053.8L1034.6 1998.8L1046.1 1975.5L1053.8 1960.4L1061.5 1945.8L1069.2 1931.7L1076.8 1918.5L1084.5 1906L1088.4 1900.1L1092.2 1894.5L1096.1 1889.2L1099.9 1884.1L1103.7 1879.4L1107.6 1874.9L1111.4 1870.7L1115.3 1866.9L1119.1 1863.4L1123 1860.3L1126.8 1857.5L1130.6 1855L1134.5 1853L1138.3 1851.3L1142.2 1849.9L1146 1849L1149.9 1848.4L1153.7 1848.3L1157.6 1848.5L1161.4 1849.1L1165.2 1850L1169.1 1851.4L1172.9 1853.2L1176.8 1855.3L1180.6 1857.8L1184.5 1860.7L1188.3 1863.9L1192.1 1867.5L1196 1871.5L1199.8 1875.8L1203.7 1880.4L1207.5 1885.4L1211.4 1890.7L1215.2 1896.2L1219 1902.1L1222.9 1908.2L1226.7 1914.6L1234.4 1928.1L1242.1 1942.5L1249.8 1957.6L1257.5 1973.3L1265.2 1989.4L1288.2 2038.8L1299.8 2063.1L1307.4 2078.8L1311.3 2086.5L1319 2101.3L1322.8 2108.4L1326.7 2104.9L1330.5 2098.2L1334.3 2091.7L1338.2 2085.5L1342 2079.6L1345.9 2073.9L1349.7 2068.6L1353.6 2063.5L1357.4 2058.8L1361.2 2054.3L1365.1 2050.2L1368.9 2046.4L1372.8 2043L1376.6 2039.9L1380.5 2037.1L1384.3 2034.7L1388.1 2032.6L1392 2030.9L1395.8 2029.5L1399.7 2028.4L1403.5 2027.7L1407.4 2027.3L1411.2 2027.2L1415.1 2027.4L1418.9 2027.8L1422.7 2028.6L1426.6 2029.7L1430.4 2031L1434.3 2032.5L1438.1 2034.3L1442 2036.3L1445.8 2038.5L1449.6 2040.8L1457.3 2045.9L1465 2051.5L1488.1 2069.3L1495.8 2074.9L1503.4 2080.2L1507.3 2082.6L1511.1 2084.9L1515 2087L1518.8 2088.9L1522.7 2090.6L1526.5 2092.1L1530.4 2093.3L1534.2 2094.3L1538 2095.1L1541.9 2095.6L1545.7 2095.8L1549.6 2095.8L1553.4 2095.6L1557.3 2095.1L1561.1 2094.3L1564.9 2093.3L1568.8 2092.1L1572.6 2090.6L1576.5 2089L1580.3 2087.1L1584.2 2085.1L1588 2083L1595.7 2078.4L1611.1 2068.9L1618.7 2064.4L1622.6 2062.4L1626.4 2060.6L1630.3 2059L1634.1 2057.6L1638 2056.6L1641.8 2055.8L1645.7 2055.4L1649.5 2055.3L1653.3 2055.7L1657.2 2056.4L1661 2057.4L1664.9 2058.9L1668.7 2060.7L1672.6 2062.8L1676.4 2065.2L1680.2 2067.8L1691.8 2076.1L1695.6 2078.6L1699.5 2080.7L1703.3 2082.3L1707.1 2083L1711 2082.7L1714.8 2081L1718.7 2077.6L1722.5 2072.1L1726.4 2064.1" stroke="#EDB120" stroke-width="6.7"/>
<path d="M123.7 2096.2L127.5 2085.8L131.4 2077.6L135.2 2071.4L139.1 2066.9L142.9 2063.8L146.8 2061.9L150.6 2060.9L154.4 2060.8L158.3 2061.2L162.1 2062.1L166 2063.4L169.8 2065L185.2 2071.9L189 2073.5L192.9 2075L196.7 2076.4L200.6 2077.6L204.4 2078.6L208.3 2079.4L212.1 2080L215.9 2080.4L219.8 2080.7L223.6 2080.7L227.5 2080.6L231.3 2080.3L235.2 2079.8L239 2079.3L242.8 2078.6L250.5 2076.9L258.2 2074.9L281.3 2068.5L289 2066.6L296.6 2065L304.3 2063.6L308.2 2063.1L315.9 2062.2L323.6 2061.8L331.2 2061.7L338.9 2062.1L346.6 2062.7L354.3 2063.7L362 2064.9L369.7 2066.4L377.4 2068.1L404.3 2074.4L415.8 2076.9L427.3 2079.2L435 2080.4L442.7 2081.4L446.5 2081.8L454.2 2082.4L461.9 2082.8L469.6 2082.8L477.3 2082.6L481.1 2082.3L488.8 2081.7L492.7 2081.2L500.3 2080.2L511.9 2078.2L519.6 2076.6L531.1 2074L561.8 2066.5L573.4 2063.8L584.9 2061.3L592.6 2059.9L604.1 2058.2L611.8 2057.4L619.5 2056.8L623.3 2056.7L631 2056.5L638.7 2056.7L642.5 2056.8L646.4 2057.1L654.1 2057.8L657.9 2058.3L665.6 2059.5L673.3 2060.9L681 2062.6L692.5 2065.4L704 2068.7L715.6 2072.2L742.5 2080.8L754 2084.2L761.7 2086.3L769.4 2088.2L777.1 2089.8L780.9 2090.6L788.6 2091.8L792.4 2092.3L800.1 2093.1L804 2093.3L811.7 2093.6L815.5 2093.5L823.2 2093.2L830.9 2092.4L834.7 2091.8L842.4 2090.5L846.2 2089.6L853.9 2087.7L857.8 2086.5L865.5 2084L869.3 2082.6L877 2079.6L884.7 2076.3L892.4 2072.7L903.9 2067L930.8 2052.9L938.5 2049L950 2043.5L957.7 2040.2L965.4 2037.3L969.2 2036L973.1 2034.8L976.9 2033.7L980.8 2032.8L984.6 2032L988.4 2031.4L992.3 2030.9L996.1 2030.6L1000 2030.5L1003.8 2030.6L1007.7 2030.8L1011.5 2031.3L1015.3 2032L1019.2 2032.9L1023 2034L1026.9 2035.4L1030.7 2037L1034.6 2038.8L1038.4 2040.8L1042.3 2043.1L1046.1 2045.7L1049.9 2048.5L1053.8 2051.6L1057.6 2054.9L1061.5 2058.4L1065.3 2062.2L1069.2 2066.3L1073 2070.6L1076.8 2075.2L1080.7 2080L1084.5 2085L1088.4 2090.3L1092.2 2095.8L1096.1 2101.6L1099.9 2107.5L1103.7 2106.5L1111.4 2093.5L1115.3 2086.8L1123 2072.7L1130.6 2058.1L1142.2 2035.2L1153.7 2011.4L1176.8 1963.4L1184.5 1947.6L1192.1 1932.3L1199.8 1917.5L1207.5 1903.4L1215.2 1890.2L1219 1883.9L1222.9 1877.9L1226.7 1872.2L1230.6 1866.8L1234.4 1861.7L1238.3 1857L1242.1 1852.6L1245.9 1848.5L1249.8 1844.8L1253.6 1841.6L1257.5 1838.7L1261.3 1836.3L1265.2 1834.2L1269 1832.6L1272.8 1831.5L1276.7 1830.8L1280.5 1830.6L1284.4 1830.9L1288.2 1831.6L1292.1 1832.8L1295.9 1834.5L1299.8 1836.7L1303.6 1839.3L1307.4 1842.4L1311.3 1846.1L1315.1 1850.1L1319 1854.7L1322.8 1859.7L1326.7 1865.2L1330.5 1871.1L1334.3 1877.4L1338.2 1884.1L1342 1891.3L1345.9 1898.8L1349.7 1906.7L1353.6 1915L1357.4 1923.6L1365.1 1941.7L1372.8 1960.8L1380.5 1980.8L1388.1 2001.4L1415.1 2074.8L1422.7 2095.1L1426.6 2105L1430.4 2105.6L1438.1 2087.2L1442 2078.4L1445.8 2070L1449.6 2062.1L1453.5 2054.5L1457.3 2047.3L1461.2 2040.7L1465 2034.5L1468.9 2028.9L1472.7 2023.8L1476.5 2019.2L1480.4 2015.2L1484.2 2011.8L1488.1 2009L1491.9 2006.8L1495.8 2005.3L1499.6 2004.3L1503.4 2003.9L1507.3 2004.1L1511.1 2005L1515 2006.4L1518.8 2008.4L1522.7 2010.9L1526.5 2013.9L1530.4 2017.5L1534.2 2021.5L1538 2026L1541.9 2030.9L1545.7 2036.1L1549.6 2041.6L1557.3 2053.4L1576.5 2084.3L1580.3 2090.3L1584.2 2096L1588 2101.4L1591.8 2106.4L1595.7 2109.2L1599.5 2105.1L1603.4 2101.7L1607.2 2098.8L1611.1 2096.7L1614.9 2095.4L1618.7 2094.8L1622.6 2095.1L1626.4 2096.3L1630.3 2098.4L1634.1 2101.4L1638 2105.3L1641.8 2110L1645.7 2104.3L1649.5 2097.8L1653.3 2090.6L1657.2 2082.7L1661 2074.3L1672.6 2047.5L1676.4 2038.9L1680.2 2030.8L1684.1 2023.7L1687.9 2017.9L1691.8 2013.8L1695.6 2012.1L1699.5 2013.1L1703.3 2017.6L1707.1 2026.3L1711 2039.9L1714.8 2059.3L1718.7 2085.5L1722.5 2100.7L1726.4 2057.8" stroke="#7E2F8E" stroke-width="6.7"/>
<path d="M123.7 2096L127.5 2105.7L131.4 2090.6L135.2 2078.5L139.1 2069L142.9 2061.7L146.8 2056.4L150.6 2052.8L154.4 2050.6L158.3 2049.6L162.1 2049.6L166 2050.5L169.8 2051.9L173.7 2053.9L177.5 2056.3L181.3 2059L196.7 2070.4L200.6 2073.2L204.4 2075.8L208.3 2078.2L212.1 2080.4L215.9 2082.4L219.8 2084.1L223.6 2085.6L227.5 2086.8L231.3 2087.7L235.2 2088.4L239 2088.8L242.8 2089L246.7 2088.9L250.5 2088.6L254.4 2088.1L258.2 2087.5L262.1 2086.6L265.9 2085.6L273.6 2083.1L281.3 2080.3L289 2077.1L304.3 2070.6L312 2067.4L319.7 2064.5L327.4 2061.9L335.1 2059.6L342.8 2057.7L350.5 2056.3L358.1 2055.4L365.8 2054.9L369.7 2054.9L377.4 2055.2L385 2055.9L388.9 2056.4L396.6 2057.7L400.4 2058.5L408.1 2060.2L419.6 2063.4L431.2 2067L454.2 2074.6L465.8 2078.2L477.3 2081.4L485 2083.3L492.7 2085L496.5 2085.7L504.2 2087L508 2087.5L515.7 2088.2L519.6 2088.5L523.4 2088.6L531.1 2088.7L534.9 2088.6L542.6 2088.2L546.5 2087.9L554.2 2087L558 2086.4L565.7 2085.1L577.2 2082.6L588.7 2079.7L600.3 2076.4L634.9 2065.6L646.4 2062.1L654.1 2060L661.8 2058.1L673.3 2055.5L681 2054.1L684.8 2053.5L692.5 2052.5L696.4 2052.1L704 2051.5L707.9 2051.4L715.6 2051.3L719.4 2051.3L727.1 2051.7L734.8 2052.4L742.5 2053.5L746.3 2054.1L754 2055.5L761.7 2057.3L769.4 2059.3L780.9 2062.6L792.4 2066.4L804 2070.5L834.7 2081.8L846.2 2085.8L853.9 2088.2L861.6 2090.5L869.3 2092.6L873.1 2093.5L880.8 2095.1L888.5 2096.5L896.2 2097.5L900 2097.8L907.7 2098.2L911.6 2098.3L919.3 2098.1L923.1 2097.9L930.8 2097.1L934.6 2096.6L938.5 2095.9L946.2 2094.3L950 2093.4L957.7 2091.2L961.5 2089.9L969.2 2087.2L973.1 2085.6L980.8 2082.4L988.4 2078.8L996.1 2075L1003.8 2071L1011.5 2066.8L1034.6 2053.8L1046.1 2047.5L1057.6 2041.6L1065.3 2037.9L1069.2 2036.3L1076.8 2033.2L1080.7 2031.9L1084.5 2030.6L1088.4 2029.5L1092.2 2028.6L1096.1 2027.8L1099.9 2027.1L1103.7 2026.6L1107.6 2026.3L1111.4 2026.2L1115.3 2026.3L1119.1 2026.5L1123 2027L1126.8 2027.7L1130.6 2028.5L1134.5 2029.6L1138.3 2031L1142.2 2032.5L1146 2034.3L1149.9 2036.4L1153.7 2038.7L1157.6 2041.2L1161.4 2044L1165.2 2047L1169.1 2050.2L1172.9 2053.8L1176.8 2057.5L1180.6 2061.6L1184.5 2065.8L1188.3 2070.4L1192.1 2075.1L1196 2080.1L1199.8 2085.4L1203.7 2090.9L1207.5 2096.6L1215.2 2108.7L1219 2105.2L1222.9 2098.6L1230.6 2084.9L1234.4 2077.8L1242.1 2063.1L1249.8 2047.8L1257.5 2032.1L1269 2007.9L1292.1 1958.8L1299.8 1942.8L1307.4 1927.2L1315.1 1912.1L1322.8 1897.7L1330.5 1884.2L1334.3 1877.8L1338.2 1871.7L1342 1865.9L1345.9 1860.3L1349.7 1855.2L1353.6 1850.3L1357.4 1845.8L1361.2 1841.8L1365.1 1838L1368.9 1834.8L1372.8 1831.9L1376.6 1829.5L1380.5 1827.5L1384.3 1826L1388.1 1824.9L1392 1824.4L1395.8 1824.3L1399.7 1824.7L1403.5 1825.7L1407.4 1827.2L1411.2 1829.1L1415.1 1831.6L1418.9 1834.6L1422.7 1838.2L1426.6 1842.2L1430.4 1846.8L1434.3 1851.9L1438.1 1857.5L1442 1863.5L1445.8 1870.1L1449.6 1877.1L1453.5 1884.6L1457.3 1892.6L1461.2 1900.9L1465 1909.7L1468.9 1918.8L1472.7 1928.4L1476.5 1938.2L1484.2 1958.8L1488.1 1969.5L1495.8 1991.6L1503.4 2014.3L1522.7 2071.6L1530.4 2094L1534.2 2104.9L1538 2104.7L1541.9 2094.4L1545.7 2084.4L1549.6 2074.9L1553.4 2065.7L1557.3 2057.1L1561.1 2049L1564.9 2041.4L1568.8 2034.5L1572.6 2028.2L1576.5 2022.6L1580.3 2017.7L1584.2 2013.6L1588 2010.2L1591.8 2007.7L1595.7 2006L1599.5 2005.1L1603.4 2005L1607.2 2005.8L1611.1 2007.4L1614.9 2009.9L1618.7 2013.2L1622.6 2017.3L1626.4 2022.1L1630.3 2027.7L1634.1 2033.9L1638 2040.8L1641.8 2048.1L1645.7 2055.9L1649.5 2064L1661 2089.2L1664.9 2097.4L1668.7 2105.1L1672.6 2107.9L1676.4 2101.6L1680.2 2096.3L1684.1 2092.4L1687.9 2090L1691.8 2089.7L1695.6 2091.5L1699.5 2096.1L1703.3 2103.6L1707.1 2105.6L1711 2090.6L1714.8 2071.3L1718.7 2047L1722.5 2017.3L1726.4 1981.4" stroke="#77AC30" stroke-width="6.7"/>
<path d="M123.7 2005.5L127.5 2029.5L131.4 2048.9L135.2 2064.3L139.1 2076.2L142.9 2085.1L146.8 2091.4L150.6 2095.6L154.4 2097.8L158.3 2098.6L162.1 2098.1L166 2096.5L169.8 2094.2L173.7 2091.4L177.5 2088.1L181.3 2084.5L192.9 2073.4L196.7 2069.8L200.6 2066.4L204.4 2063.3L208.3 2060.5L212.1 2058L215.9 2055.8L219.8 2054L223.6 2052.5L227.5 2051.4L231.3 2050.6L235.2 2050.2L239 2050.1L242.8 2050.3L246.7 2050.8L250.5 2051.5L254.4 2052.5L258.2 2053.7L262.1 2055.1L265.9 2056.7L273.6 2060.2L281.3 2064.2L296.6 2072.3L304.3 2076.2L312 2079.8L319.7 2083.1L323.6 2084.5L327.4 2085.8L331.2 2086.9L335.1 2087.9L338.9 2088.8L342.8 2089.5L346.6 2090.1L350.5 2090.5L354.3 2090.7L358.1 2090.8L362 2090.7L365.8 2090.5L369.7 2090.2L373.5 2089.7L377.4 2089.1L385 2087.5L392.7 2085.5L396.6 2084.3L404.3 2081.8L415.8 2077.6L438.9 2068.6L450.4 2064.3L461.9 2060.4L469.6 2058.2L477.3 2056.2L481.1 2055.4L488.8 2054L492.7 2053.5L500.3 2052.7L504.2 2052.4L511.9 2052.2L519.6 2052.4L523.4 2052.7L531.1 2053.5L534.9 2054L542.6 2055.3L546.5 2056.1L554.2 2057.9L565.7 2061.1L577.2 2064.7L588.7 2068.6L611.8 2076.6L623.3 2080.4L634.9 2083.8L646.4 2086.8L654.1 2088.4L657.9 2089.2L665.6 2090.4L669.4 2090.8L677.1 2091.5L681 2091.8L688.7 2092L696.4 2091.8L700.2 2091.6L707.9 2090.9L711.7 2090.5L719.4 2089.3L723.3 2088.6L730.9 2087L734.8 2086.1L742.5 2084.1L750.2 2081.9L757.8 2079.4L769.4 2075.5L796.3 2065.8L807.8 2061.8L819.3 2058L830.9 2054.7L838.6 2052.7L846.2 2051L853.9 2049.7L857.8 2049.1L865.5 2048.2L869.3 2047.9L877 2047.6L880.8 2047.5L888.5 2047.7L892.4 2048L900 2048.8L907.7 2049.9L911.6 2050.6L919.3 2052.3L927 2054.3L934.6 2056.6L938.5 2057.9L946.2 2060.6L957.7 2065.1L969.2 2070L1000 2083.5L1011.5 2088.3L1019.2 2091.2L1026.9 2093.9L1034.6 2096.4L1038.4 2097.4L1046.1 2099.3L1049.9 2100.1L1057.6 2101.4L1061.5 2101.9L1065.3 2102.2L1069.2 2102.4L1073 2102.5L1076.8 2102.5L1080.7 2102.3L1084.5 2102L1088.4 2101.6L1092.2 2101L1096.1 2100.3L1099.9 2099.5L1103.7 2098.6L1107.6 2097.5L1111.4 2096.2L1115.3 2094.9L1119.1 2093.4L1126.8 2090.1L1130.6 2088.3L1138.3 2084.3L1142.2 2082.2L1149.9 2077.6L1157.6 2072.8L1165.2 2067.7L1188.3 2052L1199.8 2044.3L1207.5 2039.5L1211.4 2037.2L1219 2033L1222.9 2031.1L1226.7 2029.3L1230.6 2027.7L1234.4 2026.2L1238.3 2025L1242.1 2023.9L1245.9 2023.1L1249.8 2022.4L1253.6 2022.1L1257.5 2021.9L1261.3 2022.1L1265.2 2022.5L1269 2023.1L1272.8 2024.1L1276.7 2025.4L1280.5 2027L1284.4 2028.9L1288.2 2031.2L1292.1 2033.7L1295.9 2036.7L1299.8 2039.9L1303.6 2043.6L1307.4 2047.5L1311.3 2051.9L1315.1 2056.5L1319 2061.6L1322.8 2067L1326.7 2072.7L1330.5 2078.9L1334.3 2085.3L1338.2 2092.1L1342 2099.2L1345.9 2106.7L1349.7 2105.7L1353.6 2097.6L1357.4 2089.3L1361.2 2080.6L1368.9 2062.5L1376.6 2043.5L1388.1 2013.5L1395.8 1992.9L1418.9 1930L1426.6 1909.5L1434.3 1889.6L1442 1870.7L1445.8 1861.7L1449.6 1852.9L1453.5 1844.6L1457.3 1836.6L1461.2 1829.1L1465 1822.1L1468.9 1815.5L1472.7 1809.5L1476.5 1804L1480.4 1799.1L1484.2 1794.8L1488.1 1791.2L1491.9 1788.2L1495.8 1785.9L1499.6 1784.4L1503.4 1783.5L1507.3 1783.5L1511.1 1784.1L1515 1785.6L1518.8 1787.8L1522.7 1790.9L1526.5 1794.7L1530.4 1799.3L1534.2 1804.8L1538 1811L1541.9 1818L1545.7 1825.7L1549.6 1834.2L1553.4 1843.4L1557.3 1853.3L1561.1 1863.9L1564.9 1875.2L1568.8 1887L1572.6 1899.4L1576.5 1912.3L1580.3 1925.6L1584.2 1939.4L1591.8 1967.8L1611.1 2041.4L1618.7 2070.2L1626.4 2097.6L1630.3 2109.6L1634.1 2097.3L1638 2085.6L1641.8 2074.8L1645.7 2064.8L1649.5 2055.7L1653.3 2047.7L1657.2 2040.8L1661 2035.1L1664.9 2030.6L1668.7 2027.3L1672.6 2025.4L1676.4 2024.8L1680.2 2025.6L1684.1 2027.7L1687.9 2031.1L1691.8 2035.8L1695.6 2041.8L1699.5 2048.9L1703.3 2057L1707.1 2065.9L1711 2075.6L1722.5 2106.5L1726.4 2103.8" stroke="#4DBEEE" stroke-width="6.7"/>
<path d="M123.7 2103.9L127.5 2091.9L131.4 2082.2L135.2 2074.6L139.1 2068.7L142.9 2064.4L146.8 2061.3L150.6 2059.4L154.4 2058.3L158.3 2058.1L162.1 2058.4L166 2059.2L169.8 2060.5L173.7 2061.9L177.5 2063.6L192.9 2071L200.6 2074.4L204.4 2075.9L208.3 2077.2L212.1 2078.4L215.9 2079.4L219.8 2080.3L223.6 2080.9L227.5 2081.4L231.3 2081.7L235.2 2081.9L239 2081.8L242.8 2081.7L246.7 2081.4L250.5 2080.9L258.2 2079.7L262.1 2079L269.7 2077.2L277.4 2075.3L300.5 2069.3L308.2 2067.5L315.9 2065.9L323.6 2064.5L331.2 2063.4L338.9 2062.6L346.6 2062.2L354.3 2062L362 2062.1L369.7 2062.6L381.2 2063.7L388.9 2064.7L400.4 2066.5L411.9 2068.6L442.7 2074.4L454.2 2076.4L461.9 2077.5L473.4 2078.9L485 2079.9L496.5 2080.5L504.2 2080.6L511.9 2080.6L523.4 2080.1L534.9 2079.2L546.5 2078L558 2076.5L569.5 2074.7L604.1 2069L615.6 2067.1L627.2 2065.5L638.7 2064.1L650.2 2063L661.8 2062.2L673.3 2061.8L681 2061.7L692.5 2062L704 2062.5L715.6 2063.5L727.1 2064.7L738.6 2066.3L750.2 2068L788.6 2074.4L804 2076.9L815.5 2078.5L827 2080L838.6 2081.1L850.1 2081.9L861.6 2082.3L869.3 2082.3L880.8 2082.1L892.4 2081.5L903.9 2080.4L911.6 2079.6L919.3 2078.6L930.8 2076.8L942.3 2074.8L953.9 2072.6L984.6 2066.6L996.1 2064.4L1011.5 2061.9L1023 2060.3L1034.6 2059.1L1046.1 2058.4L1057.6 2058.1L1065.3 2058.2L1076.8 2058.7L1088.4 2059.8L1099.9 2061.3L1107.6 2062.6L1115.3 2064.1L1126.8 2066.6L1138.3 2069.5L1172.9 2078.8L1184.5 2081.8L1196 2084.5L1207.5 2086.8L1215.2 2088L1219 2088.5L1226.7 2089.3L1234.4 2089.7L1242.1 2089.8L1249.8 2089.5L1253.6 2089.3L1261.3 2088.4L1265.2 2087.8L1269 2087.1L1276.7 2085.5L1280.5 2084.5L1288.2 2082.2L1292.1 2081L1299.8 2078.2L1303.6 2076.7L1311.3 2073.4L1322.8 2068.1L1345.9 2056.8L1353.6 2053.2L1361.2 2049.7L1368.9 2046.6L1376.6 2043.9L1380.5 2042.8L1384.3 2041.8L1388.1 2041L1392 2040.3L1395.8 2039.9L1399.7 2039.7L1403.5 2039.8L1407.4 2040.1L1411.2 2040.7L1415.1 2041.6L1418.9 2042.7L1422.7 2044.2L1426.6 2046.1L1430.4 2048.2L1434.3 2050.8L1438.1 2053.7L1442 2057L1445.8 2060.7L1449.6 2064.9L1453.5 2069.4L1457.3 2074.4L1461.2 2079.8L1465 2085.7L1468.9 2092L1472.7 2098.7L1476.5 2105.9L1480.4 2106.6L1484.2 2098.5L1488.1 2089.9L1491.9 2080.9L1495.8 2071.5L1499.6 2061.7L1503.4 2051.5L1507.3 2040.8L1515 2018.5L1522.7 1994.9L1530.4 1970.2L1538 1944.7L1561.1 1866.7L1568.8 1841.5L1576.5 1817.6L1580.3 1806.2L1584.2 1795.4L1588 1785.1L1591.8 1775.4L1595.7 1766.5L1599.5 1758.3L1603.4 1751L1607.2 1744.6L1611.1 1739.2L1614.9 1734.8L1618.7 1731.6L1622.6 1729.6L1626.4 1728.8L1630.3 1729.4L1634.1 1731.3L1638 1734.7L1641.8 1739.5L1645.7 1745.8L1649.5 1753.6L1653.3 1763L1657.2 1773.8L1661 1786.3L1664.9 1800.2L1668.7 1815.6L1672.6 1832.4L1676.4 1850.5L1680.2 1870L1684.1 1890.5L1687.9 1912.1L1691.8 1934.5L1711 2051L1714.8 2073.2L1718.7 2094.1L1722.5 2106.9L1726.4 2090" stroke="#A2142F" stroke-width="6.7"/>
<path d="M123.7 2074.5L127.5 2080.5L131.4 2085.3L135.2 2089.2L139.1 2092.1L142.9 2094.3L146.8 2095.8L150.6 2096.8L154.4 2097.3L158.3 2097.4L162.1 2097.3L166 2096.9L169.8 2096.3L177.5 2094.7L192.9 2091L200.6 2089.3L208.3 2087.9L212.1 2087.3L219.8 2086.4L223.6 2086L227.5 2085.8L235.2 2085.6L239 2085.6L246.7 2085.8L254.4 2086.3L262.1 2087L273.6 2088.3L304.3 2092.2L315.9 2093.5L323.6 2094.1L331.2 2094.7L338.9 2095.1L346.6 2095.3L354.3 2095.4L362 2095.4L369.7 2095.2L385 2094.4L404.3 2092.9L438.9 2089.7L458.1 2088.1L469.6 2087.3L477.3 2086.9L488.8 2086.5L496.5 2086.3L504.2 2086.2L515.7 2086.3L527.2 2086.6L538.8 2087.1L550.3 2087.7L561.8 2088.5L611.8 2092.5L634.9 2094L646.4 2094.6L657.9 2095.1L669.4 2095.3L681 2095.4L692.5 2095.3L704 2095.1L715.6 2094.6L730.9 2093.8L754 2092.2L804 2088.3L819.3 2087.3L830.9 2086.6L846.2 2086L857.8 2085.7L869.3 2085.6L880.8 2085.7L892.4 2086L903.9 2086.4L915.4 2087L927 2087.8L946.2 2089.3L996.1 2093.7L1011.5 2094.9L1023 2095.6L1034.6 2096.2L1046.1 2096.6L1057.6 2096.8L1069.2 2096.7L1080.7 2096.5L1092.2 2096L1103.7 2095.3L1115.3 2094.3L1126.8 2093.3L1138.3 2092.1L1188.3 2086.4L1207.5 2084.6L1219 2083.8L1226.7 2083.4L1238.3 2083.1L1245.9 2083.1L1257.5 2083.3L1265.2 2083.7L1276.7 2084.5L1288.2 2085.6L1299.8 2087.1L1311.3 2088.8L1322.8 2090.8L1357.4 2096.9L1372.8 2099.3L1384.3 2100.7L1392 2101.3L1399.7 2101.7L1407.4 2101.9L1415.1 2101.7L1418.9 2101.5L1426.6 2100.9L1430.4 2100.4L1438.1 2099.3L1442 2098.6L1449.6 2096.9L1457.3 2094.9L1461.2 2093.8L1468.9 2091.4L1480.4 2087.4L1499.6 2080.2L1507.3 2077.4L1515 2074.9L1518.8 2073.8L1522.7 2072.8L1526.5 2072L1530.4 2071.3L1534.2 2070.8L1538 2070.6L1541.9 2070.5L1545.7 2070.7L1549.6 2071.2L1553.4 2072.1L1557.3 2073.2L1561.1 2074.8L1564.9 2076.7L1568.8 2079.1L1572.6 2081.9L1576.5 2085.2L1580.3 2089.1L1584.2 2093.5L1588 2098.4L1591.8 2104L1595.7 2110.1L1599.5 2103.3L1603.4 2095.8L1607.2 2087.7L1611.1 2078.8L1614.9 2069.3L1618.7 2059L1622.6 2048L1626.4 2036.4L1630.3 2023.9L1634.1 2010.8L1638 1997.1L1641.8 1982.6L1645.7 1967.6L1649.5 1951.9L1653.3 1935.8L1661 1902.1L1680.2 1814.8L1684.1 1797.8L1687.9 1781.3L1691.8 1765.6L1695.6 1750.9L1699.5 1737.4L1703.3 1725.4L1707.1 1715.2L1711 1707.2L1714.8 1701.6L1718.7 1699.1L1722.5 1699.8L1726.4 1704.4" stroke="#0072BD" stroke-width="6.7"/>
<path d="M123.7 2099.4L127.5 2104.8L131.4 2091.5L135.2 2080.4L139.1 2071.5L142.9 2064.4L146.8 2059L150.6 2055L154.4 2052.3L158.3 2050.7L162.1 2050.1L166 2050.2L169.8 2051L173.7 2052.4L177.5 2054.2L181.3 2056.3L185.2 2058.7L189 2061.2L204.4 2072L212.1 2077L215.9 2079.3L219.8 2081.4L223.6 2083.3L227.5 2085L231.3 2086.4L235.2 2087.7L239 2088.7L242.8 2089.4L246.7 2089.9L250.5 2090.2L254.4 2090.3L258.2 2090.1L262.1 2089.8L265.9 2089.2L269.7 2088.5L273.6 2087.5L277.4 2086.5L281.3 2085.3L285.1 2083.9L292.8 2081L300.5 2077.7L323.6 2067.2L331.2 2063.8L338.9 2060.7L342.8 2059.3L350.5 2056.7L358.1 2054.5L362 2053.6L365.8 2052.9L369.7 2052.2L373.5 2051.7L377.4 2051.3L381.2 2051L385 2050.8L388.9 2050.8L392.7 2051L396.6 2051.2L400.4 2051.6L408.1 2052.7L411.9 2053.5L419.6 2055.3L423.5 2056.4L431.2 2058.8L438.9 2061.5L450.4 2066L458.1 2069.3L485 2081L496.5 2085.7L504.2 2088.6L508 2089.9L515.7 2092.3L519.6 2093.4L527.2 2095.2L534.9 2096.7L542.6 2097.7L546.5 2098L550.3 2098.2L554.2 2098.3L558 2098.3L561.8 2098.1L565.7 2097.8L569.5 2097.4L573.4 2096.9L581.1 2095.5L584.9 2094.6L592.6 2092.4L596.4 2091.2L604.1 2088.4L608 2086.8L615.6 2083.4L623.3 2079.7L634.9 2073.7L646.4 2067.2L673.3 2051.5L684.8 2045.2L692.5 2041.3L696.4 2039.4L704 2036L707.9 2034.4L715.6 2031.6L719.4 2030.5L723.3 2029.4L727.1 2028.5L730.9 2027.7L734.8 2027.1L738.6 2026.7L742.5 2026.4L746.3 2026.3L750.2 2026.4L754 2026.7L757.8 2027.2L761.7 2027.9L765.5 2028.7L769.4 2029.8L773.2 2031.1L777.1 2032.6L780.9 2034.3L784.7 2036.2L788.6 2038.4L792.4 2040.7L796.3 2043.3L800.1 2046.1L804 2049.1L807.8 2052.3L811.7 2055.7L815.5 2059.3L819.3 2063.2L823.2 2067.2L827 2071.5L830.9 2075.9L838.6 2085.3L846.2 2095.5L853.9 2106.3L857.8 2108.3L861.6 2102.5L869.3 2090.6L877 2078.1L884.7 2065.3L896.2 2045.6L919.3 2005.1L930.8 1985.1L938.5 1972.1L946.2 1959.4L953.9 1947.1L961.5 1935.4L969.2 1924.3L976.9 1914L980.8 1909.1L984.6 1904.4L988.4 1900L992.3 1895.8L996.1 1891.8L1000 1888.1L1003.8 1884.6L1007.7 1881.4L1011.5 1878.5L1015.3 1875.8L1019.2 1873.5L1023 1871.4L1026.9 1869.6L1030.7 1868.2L1034.6 1867L1038.4 1866.2L1042.3 1865.6L1046.1 1865.4L1049.9 1865.5L1053.8 1865.9L1057.6 1866.6L1061.5 1867.7L1065.3 1869.1L1069.2 1870.8L1073 1872.8L1076.8 1875.1L1080.7 1877.7L1084.5 1880.6L1088.4 1883.9L1092.2 1887.4L1096.1 1891.2L1099.9 1895.3L1103.7 1899.7L1107.6 1904.3L1111.4 1909.2L1115.3 1914.4L1119.1 1919.8L1123 1925.4L1130.6 1937.3L1138.3 1950L1142.2 1956.6L1149.9 1970.3L1157.6 1984.5L1165.2 1999.2L1176.8 2021.7L1196 2059.7L1207.5 2082.1L1219 2103.6L1222.9 2109.7L1230.6 2096.3L1238.3 2083.6L1245.9 2071.8L1249.8 2066.2L1253.6 2060.8L1257.5 2055.7L1261.3 2050.8L1265.2 2046.2L1269 2041.9L1272.8 2037.9L1276.7 2034.1L1280.5 2030.7L1284.4 2027.5L1288.2 2024.7L1292.1 2022.1L1295.9 2019.9L1299.8 2018L1303.6 2016.3L1307.4 2015L1311.3 2014L1315.1 2013.4L1319 2013L1322.8 2012.9L1326.7 2013.1L1330.5 2013.6L1334.3 2014.4L1338.2 2015.5L1342 2016.8L1345.9 2018.4L1349.7 2020.2L1353.6 2022.3L1357.4 2024.6L1361.2 2027L1365.1 2029.7L1368.9 2032.6L1372.8 2035.6L1380.5 2042.1L1384.3 2045.5L1392 2052.6L1411.2 2071.1L1418.9 2078.3L1426.6 2085.2L1434.3 2091.7L1438.1 2094.7L1442 2097.6L1445.8 2100.2L1449.6 2102.7L1453.5 2104.9L1457.3 2106.9L1461.2 2108.7L1465 2110L1468.9 2108.8L1472.7 2107.9L1476.5 2107.2L1480.4 2106.8L1484.2 2106.7L1488.1 2107L1491.9 2107.5L1495.8 2108.3L1499.6 2109.4L1503.4 2109.4L1507.3 2107.7L1511.1 2105.7L1515 2103.4L1518.8 2100.9L1522.7 2098.2L1526.5 2095.2L1530.4 2092.1L1534.2 2088.7L1541.9 2081.6L1549.6 2074L1561.1 2062.4L1568.8 2055L1572.6 2051.4L1576.5 2048.1L1580.3 2044.9L1584.2 2042.1L1588 2039.5L1591.8 2037.2L1595.7 2035.4L1599.5 2033.9L1603.4 2032.9L1607.2 2032.3L1611.1 2032.3L1614.9 2032.8L1618.7 2033.9L1622.6 2035.5L1626.4 2037.6L1630.3 2040.4L1634.1 2043.7L1638 2047.6L1641.8 2051.9L1645.7 2056.8L1649.5 2062.1L1653.3 2067.8L1657.2 2073.7L1668.7 2092.2L1672.6 2098.1L1676.4 2103.6L1680.2 2108.5L1684.1 2107.6L1687.9 2104.7L1691.8 2103.2L1695.6 2103.5L1699.5 2105.8L1703.3 2109.4L1707.1 2101.5L1711 2090.1L1714.8 2074.6L1718.7 2054.4L1722.5 2028.9L1726.4 1997.3" stroke="#000" stroke-width="17.3"/></g>
<g class="p"><rect x="123.7" y="2312.5" width="1606.20" height="574.00" fill="none" stroke="#262626" stroke-width="3.5"/>
<path d="M123.7 2886.5v-18M123.7 2312.5v18M315.9 2886.5v-18M315.9 2312.5v18M508.1 2886.5v-18M508.1 2312.5v18M700.3 2886.5v-18M700.3 2312.5v18M892.5 2886.5v-18M892.5 2312.5v18M1084.7 2886.5v-18M1084.7 2312.5v18M1276.9 2886.5v-18M1276.9 2312.5v18M1469.1 2886.5v-18M1469.1 2312.5v18M1661.3 2886.5v-18M1661.3 2312.5v18M123.7 2886.5h18M1729.9 2886.5h-18M123.7 2673.8h18M1729.9 2673.8h-18M123.7 2461.2h18M1729.9 2461.2h-18" fill="none" stroke="#262626" stroke-width="3.5"/>
<path d="M123.7 2469.1L127.5 2460.7L131.4 2456.6L135.2 2456.3L139.1 2459.2L142.9 2465.1L146.8 2473.4L150.6 2483.8L154.4 2496L158.3 2509.7L162.1 2524.6L166 2540.4L173.7 2574L192.9 2661.3L200.6 2694.9L204.4 2711L208.3 2726.5L212.1 2741.5L215.9 2755.9L219.8 2769.6L223.6 2782.6L227.5 2794.9L231.3 2806.5L235.2 2817.4L239 2827.6L242.8 2837L246.7 2845.8L250.5 2853.8L254.4 2861.2L258.2 2867.9L262.1 2874L265.9 2879.5L269.7 2884.4L273.6 2884.3L277.4 2880.5L281.3 2877.3L285.1 2874.5L289 2872.2L292.8 2870.3L296.6 2868.8L300.5 2867.7L304.3 2866.9L308.2 2866.4L312 2866.2L315.9 2866.3L319.7 2866.6L323.6 2867.1L327.4 2867.8L331.2 2868.7L335.1 2869.7L338.9 2870.8L346.6 2873.3L354.3 2876.1L373.5 2883.3L381.2 2886L385 2885.7L392.7 2883.3L400.4 2881.2L408.1 2879.4L415.8 2877.9L419.6 2877.3L427.3 2876.3L435 2875.7L442.7 2875.4L450.4 2875.4L458.1 2875.7L465.8 2876.3L477.3 2877.5L485 2878.6L492.7 2879.8L504.2 2881.8L527.2 2885.9L531.1 2886.4L542.6 2884.5L554.2 2882.8L565.7 2881.3L573.4 2880.5L584.9 2879.6L592.6 2879.2L600.3 2878.9L608 2878.8L615.6 2878.9L627.2 2879.2L634.9 2879.6L646.4 2880.4L665.6 2882.2L700.2 2886.1L704 2886.4L719.4 2884.7L730.9 2883.6L750.2 2882L761.7 2881.3L773.2 2880.8L780.9 2880.6L792.4 2880.5L800.1 2880.5L811.7 2880.8L819.3 2881.1L830.9 2881.6L842.4 2882.4L853.9 2883.3L888.5 2886.3L892.4 2886.4L919.3 2884.1L930.8 2883.2L942.3 2882.5L953.9 2882L965.4 2881.6L976.9 2881.4L984.6 2881.4L1003.8 2881.6L1015.3 2882L1026.9 2882.6L1049.9 2884.1L1080.7 2886.5L1111.4 2884.1L1130.6 2883L1142.2 2882.4L1153.7 2882.1L1165.2 2881.9L1172.9 2881.8L1180.6 2881.9L1192.1 2882.1L1211.4 2882.8L1222.9 2883.5L1234.4 2884.3L1261.3 2886.4L1265.2 2886.3L1284.4 2884.8L1299.8 2883.7L1319 2882.6L1330.5 2882.2L1338.2 2882L1349.7 2882L1357.4 2882.1L1372.8 2882.5L1388.1 2883.3L1403.5 2884.5L1422.7 2886.2L1426.6 2886.4L1453.5 2884L1465 2883.1L1472.7 2882.6L1480.4 2882.2L1488.1 2882L1495.8 2881.8L1503.4 2881.9L1515 2882.2L1522.7 2882.6L1530.4 2883.2L1541.9 2884.2L1561.1 2886.5L1584.2 2883.5L1595.7 2882.3L1607.2 2881.5L1614.9 2881.3L1618.7 2881.3L1626.4 2881.6L1630.3 2881.8L1638 2882.6L1645.7 2883.7L1649.5 2884.4L1657.2 2886L1661 2886.1L1676.4 2882.5L1684.1 2880.9L1687.9 2880.3L1691.8 2880L1695.6 2879.8L1699.5 2880L1703.3 2880.6L1707.1 2881.6L1711 2883.2L1714.8 2885.5L1718.7 2884.5L1722.5 2880.5L1726.4 2875.6" stroke="#0072BD" stroke-width="6.7"/>
<path d="M123.7 2880.4L127.5 2865.9L131.4 2848.7L135.2 2829.3L139.1 2808.2L142.9 2785.9L162.1 2669.3L166 2647L169.8 2625.6L173.7 2605.2L177.5 2585.9L181.3 2567.9L185.2 2551.3L189 2536.1L192.9 2522.3L196.7 2510.1L200.6 2499.4L204.4 2490.3L208.3 2482.6L212.1 2476.5L215.9 2471.9L219.8 2468.7L223.6 2467L227.5 2466.6L231.3 2467.5L235.2 2469.7L239 2473L242.8 2477.5L246.7 2483L250.5 2489.5L254.4 2497L258.2 2505.3L262.1 2514.3L265.9 2524L269.7 2534.4L273.6 2545.3L277.4 2556.8L281.3 2568.6L285.1 2580.8L292.8 2606L315.9 2684L327.4 2721.9L335.1 2746L338.9 2757.6L346.6 2779.9L350.5 2790.5L354.3 2800.7L358.1 2810.4L362 2819.8L365.8 2828.7L369.7 2837.2L373.5 2845.3L377.4 2852.9L381.2 2860.1L385 2866.8L388.9 2873L392.7 2878.8L396.6 2884.2L400.4 2883.9L404.3 2879.4L408.1 2875.3L411.9 2871.7L415.8 2868.4L419.6 2865.5L423.5 2863L427.3 2860.9L431.2 2859.1L435 2857.6L438.9 2856.5L442.7 2855.7L446.5 2855.1L450.4 2854.9L454.2 2854.8L458.1 2855L461.9 2855.5L465.8 2856.1L469.6 2857L473.4 2858L477.3 2859.1L481.1 2860.4L488.8 2863.4L492.7 2865L500.3 2868.5L508 2872.2L527.2 2881.6L534.9 2885.3L538.8 2886L546.5 2882.6L550.3 2881.1L558 2878.1L565.7 2875.5L569.5 2874.4L577.2 2872.3L584.9 2870.7L592.6 2869.4L600.3 2868.6L604.1 2868.3L611.8 2868.1L619.5 2868.2L623.3 2868.4L631 2869.1L638.7 2870L642.5 2870.6L650.2 2872L657.9 2873.5L669.4 2876.2L681 2879.2L704 2885.5L707.9 2886.5L719.4 2883.5L730.9 2880.7L742.5 2878.3L754 2876.3L765.5 2874.8L777.1 2873.7L784.7 2873.3L796.3 2873.2L804 2873.3L815.5 2874L823.2 2874.6L834.7 2876L846.2 2877.6L857.8 2879.6L869.3 2881.7L892.4 2886.3L896.2 2885.9L911.6 2883L927 2880.4L938.5 2878.8L946.2 2877.8L957.7 2876.7L965.4 2876.2L976.9 2875.7L984.6 2875.6L992.3 2875.7L1003.8 2876.1L1015.3 2876.9L1026.9 2878L1038.4 2879.4L1049.9 2881.1L1061.5 2882.9L1080.7 2886.2L1084.5 2886.2L1099.9 2883.6L1111.4 2881.8L1123 2880.2L1134.5 2878.9L1146 2877.9L1153.7 2877.4L1165.2 2876.9L1172.9 2876.8L1180.6 2876.9L1192.1 2877.3L1199.8 2877.8L1211.4 2878.8L1219 2879.7L1230.6 2881.2L1245.9 2883.5L1261.3 2886.1L1265.2 2886.3L1280.5 2883.7L1292.1 2881.9L1303.6 2880.3L1315.1 2879L1326.7 2878L1338.2 2877.4L1349.7 2877.3L1357.4 2877.4L1365.1 2877.8L1372.8 2878.3L1380.5 2879.1L1388.1 2880L1395.8 2881L1403.5 2882.3L1415.1 2884.3L1426.6 2886.5L1442 2883.6L1453.5 2881.5L1461.2 2880.2L1468.9 2879.1L1476.5 2878.3L1484.2 2877.6L1491.9 2877.2L1499.6 2877.1L1507.3 2877.3L1511.1 2877.5L1518.8 2878.1L1526.5 2879.1L1534.2 2880.3L1541.9 2881.9L1549.6 2883.6L1561.1 2886.5L1576.5 2882.5L1584.2 2880.6L1591.8 2878.9L1595.7 2878.1L1603.4 2876.9L1607.2 2876.5L1611.1 2876.2L1614.9 2876.1L1618.7 2876.1L1622.6 2876.2L1626.4 2876.6L1630.3 2877.1L1634.1 2877.7L1638 2878.6L1641.8 2879.6L1645.7 2880.9L1649.5 2882.2L1653.3 2883.7L1657.2 2885.4L1661 2885.8L1676.4 2878.5L1680.2 2876.8L1684.1 2875.4L1687.9 2874.2L1691.8 2873.4L1695.6 2873.1L1699.5 2873.5L1703.3 2874.6L1707.1 2876.7L1711 2879.9L1714.8 2884.4L1718.7 2882.5L1722.5 2874.6L1726.4 2864.7" stroke="#D95319" stroke-width="6.7"/>
<path d="M123.7 2833.4L127.5 2842.7L131.4 2852.7L142.9 2883.5L146.8 2879.9L150.6 2871L154.4 2863L158.3 2856.1L162.1 2850.3L166 2845.7L169.8 2842.4L173.7 2840.5L177.5 2839.9L181.3 2840.6L185.2 2842.7L189 2846.1L192.9 2850.8L196.7 2856.7L200.6 2863.8L204.4 2871.9L208.3 2881.1L212.1 2881.8L215.9 2870.9L219.8 2859.1L223.6 2846.7L227.5 2833.7L231.3 2820.1L239 2791.8L258.2 2718.3L265.9 2689.4L273.6 2661.6L277.4 2648.3L281.3 2635.5L285.1 2623.2L289 2611.5L292.8 2600.3L296.6 2589.8L300.5 2580L304.3 2570.8L308.2 2562.4L312 2554.8L315.9 2547.9L319.7 2541.8L323.6 2536.4L327.4 2531.9L331.2 2528.2L335.1 2525.2L338.9 2523.1L342.8 2521.7L346.6 2521.2L350.5 2521.3L354.3 2522.3L358.1 2523.9L362 2526.3L365.8 2529.3L369.7 2533L373.5 2537.4L377.4 2542.4L381.2 2547.9L385 2554L388.9 2560.6L392.7 2567.8L396.6 2575.3L400.4 2583.3L404.3 2591.7L408.1 2600.5L411.9 2609.6L419.6 2628.6L423.5 2638.4L431.2 2658.7L458.1 2731.9L469.6 2762.6L477.3 2782.4L481.1 2792L488.8 2810.5L496.5 2828L500.3 2836.4L504.2 2844.4L508 2852.2L511.9 2859.6L515.7 2866.7L519.6 2873.4L523.4 2879.8L527.2 2885.9L531.1 2881.4L534.9 2876L538.8 2871L542.6 2866.4L546.5 2862.1L550.3 2858.2L554.2 2854.6L558 2851.4L561.8 2848.5L565.7 2845.9L569.5 2843.7L573.4 2841.9L577.2 2840.3L581.1 2839.1L584.9 2838.1L588.7 2837.5L592.6 2837.1L596.4 2837L600.3 2837.2L604.1 2837.6L608 2838.2L611.8 2839.1L615.6 2840.2L619.5 2841.5L623.3 2842.9L627.2 2844.6L631 2846.4L634.9 2848.3L642.5 2852.5L646.4 2854.8L654.1 2859.7L661.8 2864.8L684.8 2880.5L692.5 2885.7L696.4 2884.8L704 2880L711.7 2875.5L719.4 2871.3L723.3 2869.4L730.9 2865.9L734.8 2864.3L742.5 2861.5L746.3 2860.3L750.2 2859.2L754 2858.3L757.8 2857.5L761.7 2856.8L765.5 2856.3L769.4 2855.9L773.2 2855.6L777.1 2855.4L780.9 2855.4L784.7 2855.5L788.6 2855.8L792.4 2856.1L800.1 2857.2L804 2857.9L811.7 2859.6L815.5 2860.6L823.2 2862.9L827 2864.1L834.7 2866.9L846.2 2871.4L857.8 2876.3L880.8 2886.5L896.2 2880L907.7 2875.5L915.4 2872.8L919.3 2871.5L927 2869.2L930.8 2868.2L938.5 2866.4L942.3 2865.6L950 2864.3L953.9 2863.8L961.5 2863L965.4 2862.8L973.1 2862.6L980.8 2862.8L984.6 2863L992.3 2863.7L996.1 2864.2L1003.8 2865.5L1007.7 2866.2L1015.3 2867.9L1026.9 2870.9L1038.4 2874.5L1049.9 2878.4L1069.2 2885.3L1073 2886.4L1088.4 2880.9L1099.9 2877.1L1111.4 2873.7L1119.1 2871.7L1123 2870.8L1130.6 2869.2L1134.5 2868.5L1142.2 2867.4L1146 2866.9L1153.7 2866.3L1157.6 2866.1L1165.2 2866L1172.9 2866.2L1176.8 2866.4L1184.5 2867.1L1192.1 2868.2L1196 2868.8L1203.7 2870.4L1211.4 2872.2L1222.9 2875.3L1234.4 2878.9L1253.6 2885.5L1257.5 2886.2L1272.8 2880.9L1284.4 2877.2L1295.9 2873.9L1303.6 2871.9L1311.3 2870.3L1315.1 2869.6L1322.8 2868.5L1330.5 2867.7L1334.3 2867.5L1342 2867.3L1349.7 2867.5L1357.4 2868.1L1365.1 2869.2L1368.9 2869.8L1376.6 2871.4L1384.3 2873.4L1392 2875.7L1403.5 2879.5L1418.9 2885.3L1422.7 2886.1L1438.1 2880.1L1445.8 2877.3L1453.5 2874.7L1457.3 2873.4L1465 2871.3L1472.7 2869.5L1476.5 2868.8L1480.4 2868.2L1484.2 2867.7L1488.1 2867.4L1491.9 2867.2L1495.8 2867.1L1499.6 2867.2L1503.4 2867.5L1507.3 2867.9L1511.1 2868.5L1515 2869.2L1518.8 2870.1L1522.7 2871.1L1526.5 2872.3L1530.4 2873.6L1538 2876.6L1545.7 2880.1L1557.3 2885.9L1561.1 2885.1L1572.6 2879L1580.3 2875.1L1588 2871.6L1591.8 2870L1595.7 2868.6L1599.5 2867.5L1603.4 2866.5L1607.2 2865.8L1611.1 2865.3L1614.9 2865.2L1618.7 2865.3L1622.6 2865.8L1626.4 2866.6L1630.3 2867.8L1634.1 2869.3L1638 2871.2L1641.8 2873.4L1645.7 2875.9L1649.5 2878.8L1653.3 2881.9L1657.2 2885.3L1661 2884.1L1672.6 2873L1676.4 2869.4L1680.2 2866.2L1684.1 2863.4L1687.9 2861.1L1691.8 2859.7L1695.6 2859.4L1699.5 2860.3L1703.3 2862.8L1707.1 2867.1L1711 2873.7L1714.8 2883L1718.7 2877.7L1722.5 2861.8L1726.4 2841.9" stroke="#EDB120" stroke-width="6.7"/>
<path d="M123.7 2759.6L127.5 2801.3L131.4 2836.4L135.2 2865.4L139.1 2884L142.9 2865.2L146.8 2850.8L150.6 2840.2L154.4 2833.1L158.3 2828.9L162.1 2827.3L166 2828L169.8 2830.5L173.7 2834.6L177.5 2840L181.3 2846.5L185.2 2853.7L189 2861.6L200.6 2886.4L208.3 2870L212.1 2862.2L215.9 2854.9L219.8 2848.2L223.6 2842L227.5 2836.6L231.3 2831.8L235.2 2827.8L239 2824.6L242.8 2822.3L246.7 2820.7L250.5 2820L254.4 2820.2L258.2 2821.2L262.1 2823L265.9 2825.7L269.7 2829.2L273.6 2833.4L277.4 2838.4L281.3 2844L285.1 2850.4L289 2857.4L292.8 2865L296.6 2873.2L300.5 2881.9L304.3 2881.9L308.2 2872.3L312 2862.3L315.9 2851.9L323.6 2830.3L331.2 2807.9L354.3 2739.2L362 2716.8L369.7 2695.2L377.4 2674.7L381.2 2664.9L385 2655.4L388.9 2646.3L392.7 2637.6L396.6 2629.3L400.4 2621.4L404.3 2614L408.1 2607L411.9 2600.5L415.8 2594.5L419.6 2588.9L423.5 2583.9L427.3 2579.4L431.2 2575.4L435 2572L438.9 2569L442.7 2566.6L446.5 2564.7L450.4 2563.3L454.2 2562.4L458.1 2562L461.9 2562.1L465.8 2562.8L469.6 2563.9L473.4 2565.4L477.3 2567.5L481.1 2569.9L485 2572.9L488.8 2576.2L492.7 2580L496.5 2584.1L500.3 2588.6L504.2 2593.5L508 2598.7L511.9 2604.3L515.7 2610.1L519.6 2616.3L523.4 2622.7L527.2 2629.4L534.9 2643.4L542.6 2658.2L550.3 2673.6L558 2689.5L588.7 2754.8L600.3 2778.7L611.8 2801.7L619.5 2816.4L623.3 2823.5L631 2837.2L638.7 2850L646.4 2862.1L650.2 2867.7L654.1 2873.2L657.9 2878.4L661.8 2883.4L665.6 2884.9L669.4 2880.4L673.3 2876.1L677.1 2872.1L681 2868.4L684.8 2864.9L688.7 2861.7L692.5 2858.7L696.4 2855.9L700.2 2853.4L704 2851.2L707.9 2849.2L711.7 2847.4L715.6 2845.9L719.4 2844.6L723.3 2843.5L727.1 2842.6L730.9 2842L734.8 2841.6L738.6 2841.3L742.5 2841.3L746.3 2841.4L750.2 2841.8L754 2842.3L757.8 2842.9L761.7 2843.8L765.5 2844.7L769.4 2845.9L773.2 2847.1L780.9 2850L784.7 2851.6L792.4 2855L796.3 2856.9L804 2860.8L815.5 2867L838.6 2880L850.1 2886.3L853.9 2884.7L861.6 2880.7L869.3 2877.1L877 2873.7L884.7 2870.6L888.5 2869.2L896.2 2866.6L900 2865.5L907.7 2863.5L911.6 2862.6L919.3 2861.3L923.1 2860.7L930.8 2860L934.6 2859.8L942.3 2859.6L950 2859.9L953.9 2860.2L961.5 2861L965.4 2861.5L973.1 2862.9L976.9 2863.7L984.6 2865.5L996.1 2868.7L1007.7 2872.3L1023 2877.7L1046.1 2886.2L1049.9 2885.4L1065.3 2880L1076.8 2876.4L1088.4 2873.2L1096.1 2871.3L1103.7 2869.8L1107.6 2869.1L1115.3 2867.9L1119.1 2867.5L1126.8 2866.8L1130.6 2866.6L1138.3 2866.3L1146 2866.5L1149.9 2866.6L1157.6 2867.2L1161.4 2867.6L1169.1 2868.6L1172.9 2869.2L1180.6 2870.7L1188.3 2872.3L1199.8 2875.2L1207.5 2877.4L1215.2 2879.6L1234.4 2885.6L1238.3 2886.2L1253.6 2881.4L1265.2 2878.1L1276.7 2875.2L1284.4 2873.5L1292.1 2872L1295.9 2871.4L1303.6 2870.4L1311.3 2869.7L1315.1 2869.4L1322.8 2869.2L1330.5 2869.3L1334.3 2869.5L1342 2870.1L1349.7 2871L1353.6 2871.6L1361.2 2873L1368.9 2874.7L1380.5 2877.7L1392 2881.1L1407.4 2886L1411.2 2885.7L1422.7 2881.9L1434.3 2878.4L1445.8 2875.2L1453.5 2873.4L1461.2 2872L1468.9 2870.9L1476.5 2870.2L1484.2 2870L1491.9 2870.2L1495.8 2870.5L1499.6 2870.9L1507.3 2872.1L1515 2873.8L1522.7 2875.9L1530.4 2878.4L1538 2881.2L1549.6 2885.9L1553.4 2885.5L1564.9 2880.6L1572.6 2877.5L1580.3 2874.6L1588 2872.2L1591.8 2871.2L1595.7 2870.4L1599.5 2869.7L1603.4 2869.2L1607.2 2869L1611.1 2868.9L1614.9 2869.1L1618.7 2869.6L1622.6 2870.3L1626.4 2871.3L1630.3 2872.5L1634.1 2874L1638 2875.8L1641.8 2877.8L1645.7 2880L1649.5 2882.4L1653.3 2885.1L1657.2 2885.2L1672.6 2873.7L1676.4 2871.1L1680.2 2868.7L1684.1 2866.8L1687.9 2865.4L1691.8 2864.7L1695.6 2864.8L1699.5 2865.9L1703.3 2868.2L1707.1 2872.1L1711 2877.6L1714.8 2885.1L1718.7 2878L1722.5 2865.6L1726.4 2850.1" stroke="#7E2F8E" stroke-width="6.7"/>
<path d="M123.7 2749.7L127.5 2801.4L131.4 2843.2L135.2 2876.1L139.1 2871.6L142.9 2853L146.8 2840L150.6 2831.9L154.4 2827.9L158.3 2827.2L162.1 2829.3L166 2833.6L169.8 2839.6L173.7 2846.9L177.5 2855L181.3 2863.7L189 2881.7L192.9 2882.6L196.7 2874.2L200.6 2866.4L204.4 2859.2L208.3 2852.8L212.1 2847.2L215.9 2842.5L219.8 2838.7L223.6 2835.8L227.5 2833.8L231.3 2832.7L235.2 2832.5L239 2833.2L242.8 2834.7L246.7 2836.9L250.5 2839.8L254.4 2843.3L258.2 2847.5L262.1 2852.1L265.9 2857.2L269.7 2862.6L273.6 2868.4L281.3 2880.5L285.1 2886.3L296.6 2867.7L304.3 2856L308.2 2850.5L312 2845.3L315.9 2840.5L319.7 2836.1L323.6 2832.1L327.4 2828.6L331.2 2825.6L335.1 2823.2L338.9 2821.2L342.8 2819.9L346.6 2819.2L350.5 2819L354.3 2819.4L358.1 2820.5L362 2822.2L365.8 2824.4L369.7 2827.3L373.5 2830.8L377.4 2834.8L381.2 2839.5L385 2844.6L388.9 2850.3L392.7 2856.6L396.6 2863.3L400.4 2870.5L404.3 2878.1L408.1 2886.2L411.9 2878.4L415.8 2869.6L423.5 2851.1L431.2 2831.6L442.7 2800.9L461.9 2748.2L469.6 2727.4L477.3 2707.2L485 2687.6L492.7 2669.1L496.5 2660.2L500.3 2651.7L504.2 2643.4L508 2635.6L511.9 2628.1L515.7 2621L519.6 2614.3L523.4 2608L527.2 2602.2L531.1 2596.8L534.9 2591.8L538.8 2587.3L542.6 2583.3L546.5 2579.7L550.3 2576.7L554.2 2574.1L558 2572L561.8 2570.3L565.7 2569.2L569.5 2568.5L573.4 2568.3L577.2 2568.6L581.1 2569.3L584.9 2570.5L588.7 2572.2L592.6 2574.3L596.4 2576.8L600.3 2579.7L604.1 2583L608 2586.7L611.8 2590.8L615.6 2595.3L619.5 2600.1L623.3 2605.2L627.2 2610.6L631 2616.4L634.9 2622.4L638.7 2628.7L642.5 2635.2L650.2 2649L657.9 2663.5L665.6 2678.6L673.3 2694.2L704 2758.1L715.6 2781.6L727.1 2804.1L734.8 2818.4L738.6 2825.4L746.3 2838.6L754 2851.2L757.8 2857.1L761.7 2862.8L765.5 2868.3L769.4 2873.5L773.2 2878.6L777.1 2883.3L780.9 2885.1L784.7 2880.9L788.6 2876.8L792.4 2873L796.3 2869.5L800.1 2866.2L804 2863.2L807.8 2860.4L811.7 2857.9L815.5 2855.7L819.3 2853.6L823.2 2851.8L827 2850.3L830.9 2849L834.7 2847.9L838.6 2847L842.4 2846.3L846.2 2845.9L850.1 2845.6L853.9 2845.6L857.8 2845.7L861.6 2846L865.5 2846.5L869.3 2847.2L873.1 2848L877 2848.9L880.8 2850L884.7 2851.2L892.4 2854L900 2857.1L903.9 2858.8L911.6 2862.5L923.1 2868.3L946.2 2880.3L957.7 2886.1L961.5 2885L973.1 2879.8L980.8 2876.6L984.6 2875.1L992.3 2872.5L1000 2870.1L1007.7 2868.2L1011.5 2867.4L1019.2 2866L1026.9 2865.1L1030.7 2864.7L1038.4 2864.4L1046.1 2864.4L1049.9 2864.6L1057.6 2865.2L1065.3 2866.2L1069.2 2866.8L1076.8 2868.2L1088.4 2870.8L1099.9 2873.9L1115.3 2878.5L1138.3 2885.8L1142.2 2886L1153.7 2882.5L1165.2 2879.4L1176.8 2876.7L1184.5 2875.1L1192.1 2873.9L1196 2873.3L1203.7 2872.5L1211.4 2871.9L1215.2 2871.7L1222.9 2871.6L1230.6 2871.8L1234.4 2871.9L1242.1 2872.5L1249.8 2873.4L1261.3 2875.1L1269 2876.5L1280.5 2878.9L1292.1 2881.7L1311.3 2886.4L1315.1 2885.6L1326.7 2882.9L1334.3 2881.2L1345.9 2878.9L1353.6 2877.7L1361.2 2876.6L1368.9 2875.8L1376.6 2875.3L1384.3 2875.1L1392 2875.2L1399.7 2875.5L1407.4 2876.2L1411.2 2876.6L1418.9 2877.6L1426.6 2878.9L1438.1 2881.1L1449.6 2883.7L1461.2 2886.4L1465 2885.7L1476.5 2883L1484.2 2881.4L1491.9 2879.9L1499.6 2878.7L1507.3 2877.7L1515 2877.1L1522.7 2876.8L1526.5 2876.8L1534.2 2877.1L1538 2877.4L1541.9 2877.7L1549.6 2878.8L1557.3 2880.1L1564.9 2881.8L1572.6 2883.7L1580.3 2885.8L1584.2 2886.1L1595.7 2882.9L1603.4 2880.9L1611.1 2879.3L1614.9 2878.6L1618.7 2878L1622.6 2877.6L1626.4 2877.3L1630.3 2877.2L1634.1 2877.3L1638 2877.5L1641.8 2878L1645.7 2878.6L1649.5 2879.4L1653.3 2880.5L1657.2 2881.7L1661 2883.1L1668.7 2886.2L1672.6 2885L1680.2 2881.5L1684.1 2879.8L1687.9 2878.3L1691.8 2877.1L1695.6 2876.2L1699.5 2875.8L1703.3 2876.1L1707.1 2877.1L1711 2879.2L1718.7 2885.8L1722.5 2879.4L1726.4 2871" stroke="#77AC30" stroke-width="6.7"/>
<path d="M123.7 2869.7L127.5 2880.3L131.4 2885L135.2 2879.8L139.1 2876.6L142.9 2875.1L146.8 2874.9L150.6 2875.8L154.4 2877.4L158.3 2879.6L162.1 2882.1L166 2884.9L169.8 2885.3L173.7 2882.6L177.5 2880L181.3 2877.6L185.2 2875.5L189 2873.8L192.9 2872.4L196.7 2871.3L200.6 2870.7L204.4 2870.4L208.3 2870.5L212.1 2871L215.9 2871.8L219.8 2872.9L223.6 2874.3L227.5 2875.9L231.3 2877.7L235.2 2879.8L246.7 2886.4L258.2 2879.2L265.9 2874.6L269.7 2872.5L273.6 2870.6L277.4 2868.7L281.3 2867.1L285.1 2865.7L289 2864.5L292.8 2863.5L296.6 2862.8L300.5 2862.3L304.3 2862.1L308.2 2862.1L312 2862.4L315.9 2862.9L319.7 2863.7L323.6 2864.8L327.4 2866L331.2 2867.5L335.1 2869.3L338.9 2871.2L342.8 2873.3L346.6 2875.6L354.3 2880.6L362 2886.1L365.8 2884L385 2869.1L392.7 2863.4L396.6 2860.7L404.3 2855.6L408.1 2853.2L411.9 2851.1L415.8 2849.1L419.6 2847.4L423.5 2845.9L427.3 2844.6L431.2 2843.6L435 2842.9L438.9 2842.4L442.7 2842.2L446.5 2842.4L450.4 2842.8L454.2 2843.6L458.1 2844.7L461.9 2846.2L465.8 2847.9L469.6 2850.1L473.4 2852.5L477.3 2855.3L481.1 2858.5L485 2862L488.8 2865.8L492.7 2870L496.5 2874.4L500.3 2879.2L504.2 2884.3L508 2883.3L511.9 2877.6L515.7 2871.6L519.6 2865.4L523.4 2858.9L531.1 2845.3L538.8 2830.8L546.5 2815.6L554.2 2799.8L565.7 2775.5L588.7 2726.1L596.4 2710L604.1 2694.4L611.8 2679.3L619.5 2665L627.2 2651.5L631 2645.2L634.9 2639.1L638.7 2633.2L642.5 2627.7L646.4 2622.5L650.2 2617.6L654.1 2613L657.9 2608.7L661.8 2604.8L665.6 2601.2L669.4 2598L673.3 2595.2L677.1 2592.7L681 2590.6L684.8 2588.9L688.7 2587.6L692.5 2586.7L696.4 2586.1L700.2 2586L704 2586.2L707.9 2586.8L711.7 2587.8L715.6 2589.2L719.4 2590.9L723.3 2593L727.1 2595.5L730.9 2598.4L734.8 2601.6L738.6 2605.1L742.5 2609L746.3 2613.2L750.2 2617.7L754 2622.5L757.8 2627.6L761.7 2632.9L765.5 2638.6L769.4 2644.5L773.2 2650.6L780.9 2663.6L788.6 2677.3L796.3 2691.7L804 2706.6L811.7 2721.9L838.6 2776.9L850.1 2800.1L861.6 2822.6L869.3 2836.9L877 2850.7L880.8 2857.3L888.5 2869.9L896.2 2881.7L900 2885.7L903.9 2880.4L907.7 2875.3L911.6 2870.5L915.4 2865.9L919.3 2861.6L923.1 2857.5L927 2853.7L930.8 2850.2L934.6 2847L938.5 2844L942.3 2841.3L946.2 2838.9L950 2836.7L953.9 2834.9L957.7 2833.2L961.5 2831.9L965.4 2830.8L969.2 2830L973.1 2829.5L976.9 2829.2L980.8 2829.1L984.6 2829.3L988.4 2829.8L992.3 2830.4L996.1 2831.3L1000 2832.4L1003.8 2833.6L1007.7 2835.1L1011.5 2836.7L1015.3 2838.6L1019.2 2840.5L1023 2842.7L1030.7 2847.3L1034.6 2849.9L1042.3 2855.2L1053.8 2863.7L1080.7 2884.7L1084.5 2885.3L1096.1 2876.9L1103.7 2871.6L1107.6 2869.1L1115.3 2864.4L1119.1 2862.3L1123 2860.2L1126.8 2858.4L1130.6 2856.6L1134.5 2855L1138.3 2853.6L1142.2 2852.3L1146 2851.2L1149.9 2850.2L1153.7 2849.4L1157.6 2848.8L1161.4 2848.3L1165.2 2848.1L1169.1 2847.9L1172.9 2848L1176.8 2848.2L1180.6 2848.6L1184.5 2849.2L1188.3 2849.9L1192.1 2850.7L1196 2851.8L1199.8 2852.9L1203.7 2854.2L1207.5 2855.7L1211.4 2857.2L1219 2860.7L1222.9 2862.6L1230.6 2866.7L1242.1 2873.4L1261.3 2885.2L1265.2 2885.4L1272.8 2880.6L1280.5 2876.1L1288.2 2871.7L1292.1 2869.7L1299.8 2865.9L1303.6 2864.2L1311.3 2861.1L1315.1 2859.7L1319 2858.5L1322.8 2857.5L1326.7 2856.5L1330.5 2855.8L1334.3 2855.2L1338.2 2854.8L1342 2854.5L1345.9 2854.5L1349.7 2854.6L1353.6 2854.8L1357.4 2855.3L1361.2 2855.9L1365.1 2856.7L1368.9 2857.6L1372.8 2858.7L1376.6 2860L1380.5 2861.4L1384.3 2863L1388.1 2864.7L1392 2866.5L1399.7 2870.5L1403.5 2872.6L1411.2 2877.2L1422.7 2884.4L1426.6 2886.1L1442 2876.4L1449.6 2871.8L1453.5 2869.7L1461.2 2865.7L1465 2863.9L1468.9 2862.3L1472.7 2860.9L1476.5 2859.6L1480.4 2858.5L1484.2 2857.6L1488.1 2856.9L1491.9 2856.5L1495.8 2856.3L1499.6 2856.3L1503.4 2856.5L1507.3 2857L1511.1 2857.8L1515 2858.8L1518.8 2860L1522.7 2861.5L1526.5 2863.2L1530.4 2865.1L1534.2 2867.3L1538 2869.6L1541.9 2872.2L1549.6 2877.7L1557.3 2883.7L1561.1 2886.2L1572.6 2876.7L1580.3 2870.6L1584.2 2867.8L1588 2865.1L1591.8 2862.6L1595.7 2860.4L1599.5 2858.5L1603.4 2856.9L1607.2 2855.6L1611.1 2854.8L1614.9 2854.4L1618.7 2854.5L1622.6 2855.1L1626.4 2856.1L1630.3 2857.8L1634.1 2859.9L1638 2862.6L1641.8 2865.8L1645.7 2869.6L1649.5 2873.8L1653.3 2878.4L1657.2 2883.4L1661 2884.2L1672.6 2867.5L1676.4 2862.1L1680.2 2857.2L1684.1 2852.9L1687.9 2849.5L1691.8 2847.2L1695.6 2846.5L1699.5 2847.7L1703.3 2851.2L1707.1 2857.4L1711 2867.1L1714.8 2880.6L1718.7 2874.4L1722.5 2851L1726.4 2821.6" stroke="#4DBEEE" stroke-width="6.7"/>
<path d="M123.7 2779.1L127.5 2816.7L131.4 2847.5L135.2 2872.3L139.1 2881.2L142.9 2866.2L146.8 2855.3L150.6 2847.7L154.4 2843.1L158.3 2841L162.1 2841L166 2842.7L169.8 2845.8L173.7 2850L177.5 2855L181.3 2860.5L185.2 2866.5L196.7 2885L200.6 2882.1L204.4 2876.5L208.3 2871.3L212.1 2866.4L215.9 2862.1L219.8 2858.3L223.6 2855.1L227.5 2852.4L231.3 2850.3L235.2 2848.8L239 2847.8L242.8 2847.4L246.7 2847.5L250.5 2848.1L254.4 2849.1L258.2 2850.7L262.1 2852.6L265.9 2854.9L269.7 2857.5L273.6 2860.4L277.4 2863.6L281.3 2867L289 2874.2L300.5 2885.7L304.3 2883.4L312 2875.9L315.9 2872.3L319.7 2868.8L323.6 2865.5L327.4 2862.3L331.2 2859.4L335.1 2856.7L338.9 2854.2L342.8 2852L346.6 2850L350.5 2848.4L354.3 2847L358.1 2845.9L362 2845.1L365.8 2844.6L369.7 2844.4L373.5 2844.6L377.4 2845L381.2 2845.7L385 2846.7L388.9 2847.9L392.7 2849.5L396.6 2851.3L400.4 2853.3L404.3 2855.6L408.1 2858L411.9 2860.7L415.8 2863.6L419.6 2866.6L427.3 2873.1L431.2 2876.5L438.9 2883.7L442.7 2885.7L461.9 2867.2L469.6 2860.2L473.4 2856.8L481.1 2850.3L485 2847.3L488.8 2844.5L492.7 2841.8L496.5 2839.3L500.3 2837.1L504.2 2835L508 2833.3L511.9 2831.7L515.7 2830.4L519.6 2829.4L523.4 2828.6L527.2 2828.2L531.1 2828L534.9 2828.1L538.8 2828.5L542.6 2829.2L546.5 2830.3L550.3 2831.6L554.2 2833.3L558 2835.2L561.8 2837.5L565.7 2840.1L569.5 2843L573.4 2846.2L577.2 2849.7L581.1 2853.4L584.9 2857.5L588.7 2861.9L592.6 2866.5L596.4 2871.4L600.3 2876.5L604.1 2881.9L608 2885.5L615.6 2873.5L623.3 2860.8L631 2847.4L638.7 2833.4L646.4 2818.9L654.1 2804L681 2751L688.7 2736L696.4 2721.4L704 2707.1L711.7 2693.5L719.4 2680.5L727.1 2668.2L730.9 2662.4L734.8 2656.8L738.6 2651.4L742.5 2646.3L746.3 2641.4L750.2 2636.8L754 2632.5L757.8 2628.4L761.7 2624.7L765.5 2621.2L769.4 2618L773.2 2615.1L777.1 2612.5L780.9 2610.2L784.7 2608.3L788.6 2606.6L792.4 2605.3L796.3 2604.3L800.1 2603.6L804 2603.2L807.8 2603.1L811.7 2603.4L815.5 2604L819.3 2604.9L823.2 2606.1L827 2607.6L830.9 2609.4L834.7 2611.5L838.6 2613.9L842.4 2616.6L846.2 2619.5L850.1 2622.7L853.9 2626.2L857.8 2630L861.6 2634L865.5 2638.2L869.3 2642.7L873.1 2647.4L877 2652.3L884.7 2662.7L892.4 2673.8L900 2685.6L907.7 2697.9L915.4 2710.6L923.1 2723.7L934.6 2743.7L953.9 2777.4L965.4 2797.3L976.9 2816.7L984.6 2829L988.4 2835.1L996.1 2846.7L1000 2852.3L1007.7 2863.1L1011.5 2868.2L1019.2 2878L1023 2882.6L1026.9 2886L1030.7 2881.8L1034.6 2877.8L1038.4 2874L1042.3 2870.3L1046.1 2867L1049.9 2863.8L1053.8 2860.8L1057.6 2858L1061.5 2855.5L1065.3 2853.2L1069.2 2851.1L1073 2849.2L1076.8 2847.5L1080.7 2846L1084.5 2844.8L1088.4 2843.7L1092.2 2842.9L1096.1 2842.2L1099.9 2841.8L1103.7 2841.5L1107.6 2841.4L1111.4 2841.5L1115.3 2841.8L1119.1 2842.3L1123 2842.9L1126.8 2843.7L1130.6 2844.6L1134.5 2845.7L1138.3 2846.9L1146 2849.7L1149.9 2851.3L1157.6 2854.7L1161.4 2856.6L1169.1 2860.5L1180.6 2866.9L1211.4 2884.7L1215.2 2886.1L1226.7 2879.9L1234.4 2876.1L1238.3 2874.3L1245.9 2870.9L1249.8 2869.4L1257.5 2866.6L1261.3 2865.4L1269 2863.2L1272.8 2862.4L1280.5 2860.9L1284.4 2860.4L1288.2 2860L1292.1 2859.8L1295.9 2859.6L1299.8 2859.6L1303.6 2859.7L1307.4 2859.9L1311.3 2860.3L1319 2861.3L1326.7 2862.8L1330.5 2863.7L1338.2 2865.8L1345.9 2868.2L1349.7 2869.5L1357.4 2872.4L1368.9 2877.1L1388.1 2885.5L1392 2885.8L1403.5 2880.9L1415.1 2876.4L1422.7 2873.7L1426.6 2872.4L1434.3 2870.2L1442 2868.5L1449.6 2867.1L1453.5 2866.6L1457.3 2866.3L1461.2 2866L1465 2865.9L1468.9 2865.9L1472.7 2866.1L1476.5 2866.4L1480.4 2866.8L1484.2 2867.3L1488.1 2868L1491.9 2868.8L1499.6 2870.8L1507.3 2873.2L1515 2876L1518.8 2877.5L1526.5 2880.8L1538 2886L1541.9 2885.3L1553.4 2880L1561.1 2876.8L1564.9 2875.2L1572.6 2872.5L1576.5 2871.3L1580.3 2870.3L1584.2 2869.4L1588 2868.6L1591.8 2868.1L1595.7 2867.8L1599.5 2867.6L1603.4 2867.7L1607.2 2868L1611.1 2868.6L1614.9 2869.4L1618.7 2870.4L1622.6 2871.6L1626.4 2873.1L1630.3 2874.8L1634.1 2876.8L1638 2878.9L1641.8 2881.2L1649.5 2886.2L1653.3 2884.1L1664.9 2876L1668.7 2873.4L1672.6 2871.1L1676.4 2869L1680.2 2867.2L1684.1 2866L1687.9 2865.2L1691.8 2865.2L1695.6 2866L1699.5 2867.7L1703.3 2870.6L1707.1 2874.7L1711 2880.3L1714.8 2885.4L1718.7 2876.2L1722.5 2864.9L1726.4 2851.2" stroke="#A2142F" stroke-width="6.7"/>
<path d="M123.7 2808.1L127.5 2838.7L131.4 2863.1L135.2 2882.1L139.1 2876.6L142.9 2866.3L146.8 2859.3L150.6 2855.2L154.4 2853.5L158.3 2853.7L162.1 2855.4L166 2858.3L169.8 2862L173.7 2866.4L177.5 2871.2L189 2886.2L192.9 2882.1L196.7 2877.6L200.6 2873.6L204.4 2870L208.3 2866.8L212.1 2864.2L215.9 2862.1L219.8 2860.5L223.6 2859.4L227.5 2858.8L231.3 2858.7L235.2 2859.1L239 2859.9L242.8 2861.1L246.7 2862.7L250.5 2864.5L254.4 2866.7L258.2 2869.1L262.1 2871.7L269.7 2877.3L281.3 2886.3L285.1 2883.7L292.8 2877.9L300.5 2872.6L304.3 2870.2L308.2 2868L312 2865.9L315.9 2864.1L319.7 2862.5L323.6 2861.2L327.4 2860.1L331.2 2859.2L335.1 2858.7L338.9 2858.3L342.8 2858.2L346.6 2858.4L350.5 2858.8L354.3 2859.5L358.1 2860.4L362 2861.5L365.8 2862.8L369.7 2864.3L373.5 2866L377.4 2867.9L385 2872L392.7 2876.7L404.3 2884.2L408.1 2886.2L423.5 2876L431.2 2871.1L438.9 2866.6L442.7 2864.6L446.5 2862.6L450.4 2860.8L454.2 2859.2L458.1 2857.7L461.9 2856.4L465.8 2855.2L469.6 2854.3L473.4 2853.5L477.3 2853L481.1 2852.6L485 2852.5L488.8 2852.6L492.7 2852.8L496.5 2853.3L500.3 2854L504.2 2854.9L508 2856L511.9 2857.2L515.7 2858.7L519.6 2860.3L523.4 2862.2L527.2 2864.1L531.1 2866.3L538.8 2871L546.5 2876.2L550.3 2878.9L558 2884.7L561.8 2885.4L584.9 2867.2L596.4 2858.5L604.1 2853.1L608 2850.6L611.8 2848.2L615.6 2845.9L619.5 2843.9L623.3 2842L627.2 2840.3L631 2838.7L634.9 2837.4L638.7 2836.4L642.5 2835.5L646.4 2834.9L650.2 2834.5L654.1 2834.4L657.9 2834.6L661.8 2835L665.6 2835.7L669.4 2836.7L673.3 2838L677.1 2839.5L681 2841.4L684.8 2843.5L688.7 2846L692.5 2848.7L696.4 2851.7L700.2 2855.1L704 2858.7L707.9 2862.6L711.7 2866.8L715.6 2871.2L719.4 2875.9L723.3 2880.9L727.1 2886.2L730.9 2881.3L734.8 2875.6L738.6 2869.6L746.3 2857L750.2 2850.5L757.8 2836.7L765.5 2822.4L777.1 2799.9L784.7 2784.5L807.8 2737.4L815.5 2721.9L823.2 2706.8L830.9 2692L838.6 2677.9L846.2 2664.4L853.9 2651.7L857.8 2645.7L861.6 2640L865.5 2634.5L869.3 2629.3L873.1 2624.4L877 2619.7L880.8 2615.4L884.7 2611.4L888.5 2607.7L892.4 2604.3L896.2 2601.3L900 2598.6L903.9 2596.2L907.7 2594.2L911.6 2592.6L915.4 2591.4L919.3 2590.5L923.1 2589.9L927 2589.8L930.8 2590L934.6 2590.5L938.5 2591.5L942.3 2592.8L946.2 2594.5L950 2596.5L953.9 2598.9L957.7 2601.6L961.5 2604.7L965.4 2608.1L969.2 2611.9L973.1 2615.9L976.9 2620.3L980.8 2625L984.6 2629.9L988.4 2635.2L992.3 2640.7L996.1 2646.5L1000 2652.5L1007.7 2665.2L1015.3 2678.7L1023 2692.9L1030.7 2707.7L1038.4 2722.9L1069.2 2785.5L1076.8 2800.9L1088.4 2823.3L1096.1 2837.6L1103.7 2851.3L1107.6 2857.9L1115.3 2870.4L1119.1 2876.3L1123 2882L1126.8 2885.5L1130.6 2880.3L1134.5 2875.3L1138.3 2870.6L1142.2 2866.2L1146 2862.1L1149.9 2858.2L1153.7 2854.6L1157.6 2851.4L1161.4 2848.4L1165.2 2845.7L1169.1 2843.3L1172.9 2841.1L1176.8 2839.3L1180.6 2837.8L1184.5 2836.6L1188.3 2835.6L1192.1 2834.9L1196 2834.5L1199.8 2834.4L1203.7 2834.6L1207.5 2835L1211.4 2835.6L1215.2 2836.5L1219 2837.6L1222.9 2838.9L1226.7 2840.5L1230.6 2842.2L1234.4 2844.1L1238.3 2846.2L1242.1 2848.5L1245.9 2850.9L1249.8 2853.4L1257.5 2858.8L1269 2867.5L1292.1 2885.8L1295.9 2884.3L1303.6 2878.6L1307.4 2875.8L1315.1 2870.7L1319 2868.3L1322.8 2866L1326.7 2863.9L1330.5 2861.9L1334.3 2860.1L1338.2 2858.5L1342 2857.1L1345.9 2855.8L1349.7 2854.8L1353.6 2853.9L1357.4 2853.2L1361.2 2852.8L1365.1 2852.5L1368.9 2852.5L1372.8 2852.7L1376.6 2853.1L1380.5 2853.6L1384.3 2854.4L1388.1 2855.4L1392 2856.5L1395.8 2857.9L1399.7 2859.4L1403.5 2861L1407.4 2862.9L1411.2 2864.8L1418.9 2869.1L1422.7 2871.4L1430.4 2876.3L1442 2884L1445.8 2886.4L1457.3 2878.8L1465 2874L1468.9 2871.8L1472.7 2869.6L1476.5 2867.6L1480.4 2865.8L1484.2 2864.1L1488.1 2862.6L1491.9 2861.3L1495.8 2860.3L1499.6 2859.4L1503.4 2858.8L1507.3 2858.4L1511.1 2858.2L1515 2858.4L1518.8 2858.7L1522.7 2859.3L1526.5 2860.2L1530.4 2861.3L1534.2 2862.7L1538 2864.3L1541.9 2866.2L1545.7 2868.2L1549.6 2870.5L1553.4 2872.9L1557.3 2875.5L1561.1 2878.3L1568.8 2884.1L1572.6 2886L1584.2 2877L1591.8 2871.4L1595.7 2868.8L1599.5 2866.4L1603.4 2864.3L1607.2 2862.5L1611.1 2860.9L1614.9 2859.8L1618.7 2859L1622.6 2858.7L1626.4 2858.9L1630.3 2859.5L1634.1 2860.7L1638 2862.3L1641.8 2864.5L1645.7 2867.2L1649.5 2870.4L1653.3 2874.1L1657.2 2878.2L1661 2882.6L1664.9 2885.6L1676.4 2870.6L1680.2 2865.8L1684.1 2861.5L1687.9 2857.8L1691.8 2855.1L1695.6 2853.6L1699.5 2853.6L1703.3 2855.6L1707.1 2860L1711 2867.3L1714.8 2878.1L1718.7 2880L1722.5 2860.4L1726.4 2835.2" stroke="#0072BD" stroke-width="6.7"/>
<path d="M123.7 2790.1L127.5 2825.6L131.4 2854.2L135.2 2876.9L139.1 2878.6L142.9 2865.7L146.8 2856.5L150.6 2850.6L154.4 2847.4L158.3 2846.5L162.1 2847.4L166 2849.8L169.8 2853.4L173.7 2857.8L177.5 2862.8L181.3 2868.2L192.9 2884.9L196.7 2882.8L200.6 2877.8L204.4 2873.2L208.3 2869.1L212.1 2865.4L215.9 2862.2L219.8 2859.6L223.6 2857.5L227.5 2856L231.3 2855L235.2 2854.5L239 2854.4L242.8 2854.9L246.7 2855.8L250.5 2857.1L254.4 2858.7L258.2 2860.7L262.1 2862.9L265.9 2865.4L269.7 2868.1L277.4 2874L289 2883.4L292.8 2886.4L300.5 2880.3L304.3 2877.3L312 2871.8L315.9 2869.3L319.7 2867L323.6 2864.9L327.4 2863L331.2 2861.3L335.1 2859.9L338.9 2858.6L342.8 2857.7L346.6 2857L350.5 2856.5L354.3 2856.3L358.1 2856.3L362 2856.5L365.8 2857L369.7 2857.7L373.5 2858.6L377.4 2859.7L381.2 2861L385 2862.5L388.9 2864.2L392.7 2866L396.6 2867.9L404.3 2872.1L415.8 2879.1L427.3 2886.4L442.7 2876.9L450.4 2872.4L454.2 2870.2L461.9 2866.3L465.8 2864.5L469.6 2862.8L473.4 2861.2L477.3 2859.8L481.1 2858.6L485 2857.5L488.8 2856.6L492.7 2855.8L496.5 2855.2L500.3 2854.8L504.2 2854.5L508 2854.5L511.9 2854.6L515.7 2854.8L519.6 2855.3L523.4 2855.9L527.2 2856.7L531.1 2857.6L534.9 2858.7L538.8 2859.9L542.6 2861.3L550.3 2864.4L554.2 2866.1L561.8 2870L565.7 2872L573.4 2876.3L581.1 2880.9L588.7 2885.7L592.6 2884.9L611.8 2873.1L623.3 2866.4L631 2862.4L634.9 2860.5L642.5 2857L646.4 2855.5L650.2 2854.1L654.1 2852.8L657.9 2851.6L661.8 2850.6L665.6 2849.8L669.4 2849.1L673.3 2848.6L677.1 2848.2L681 2848L684.8 2848L688.7 2848.1L692.5 2848.4L696.4 2848.9L700.2 2849.5L704 2850.3L707.9 2851.3L711.7 2852.5L715.6 2853.8L719.4 2855.2L723.3 2856.8L727.1 2858.6L730.9 2860.5L734.8 2862.5L738.6 2864.7L746.3 2869.4L750.2 2871.9L757.8 2877.2L769.4 2885.7L773.2 2884.4L800.1 2863.4L807.8 2857.6L815.5 2852.1L823.2 2847L827 2844.7L830.9 2842.4L834.7 2840.3L838.6 2838.3L842.4 2836.5L846.2 2834.9L850.1 2833.5L853.9 2832.2L857.8 2831.2L861.6 2830.3L865.5 2829.7L869.3 2829.3L873.1 2829.1L877 2829.2L880.8 2829.5L884.7 2830.1L888.5 2831L892.4 2832.1L896.2 2833.4L900 2835.1L903.9 2837L907.7 2839.2L911.6 2841.6L915.4 2844.4L919.3 2847.4L923.1 2850.6L927 2854.2L930.8 2858L934.6 2862.1L938.5 2866.5L942.3 2871.1L946.2 2876L950 2881.1L953.9 2886.4L957.7 2881L961.5 2875.2L969.2 2862.9L976.9 2849.8L984.6 2836.1L992.3 2821.7L1003.8 2799.2L1015.3 2775.9L1042.3 2720.9L1049.9 2705.6L1057.6 2690.7L1065.3 2676.4L1073 2662.7L1080.7 2649.8L1084.5 2643.7L1088.4 2637.9L1092.2 2632.3L1096.1 2626.9L1099.9 2621.9L1103.7 2617.1L1107.6 2612.6L1111.4 2608.5L1115.3 2604.6L1119.1 2601.1L1123 2598L1126.8 2595.2L1130.6 2592.8L1134.5 2590.7L1138.3 2589L1142.2 2587.7L1146 2586.7L1149.9 2586.1L1153.7 2586L1157.6 2586.2L1161.4 2586.8L1165.2 2587.8L1169.1 2589.1L1172.9 2590.9L1176.8 2593L1180.6 2595.5L1184.5 2598.4L1188.3 2601.7L1192.1 2605.3L1196 2609.2L1199.8 2613.5L1203.7 2618.2L1207.5 2623.1L1211.4 2628.4L1215.2 2634L1219 2639.8L1222.9 2645.9L1226.7 2652.3L1234.4 2665.9L1242.1 2680.2L1249.8 2695.3L1257.5 2711L1265.2 2727.1L1288.2 2776.5L1299.8 2800.8L1307.4 2816.5L1315.1 2831.7L1322.8 2846.1L1330.5 2859.7L1334.3 2866.2L1338.2 2872.4L1342 2878.3L1345.9 2884L1349.7 2883.7L1353.6 2878.6L1357.4 2873.8L1361.2 2869.4L1365.1 2865.3L1368.9 2861.5L1372.8 2858.1L1376.6 2855L1380.5 2852.2L1384.3 2849.8L1388.1 2847.7L1392 2846L1395.8 2844.6L1399.7 2843.5L1403.5 2842.8L1407.4 2842.3L1411.2 2842.2L1415.1 2842.4L1418.9 2842.9L1422.7 2843.7L1426.6 2844.8L1430.4 2846.1L1434.3 2847.6L1438.1 2849.4L1442 2851.4L1445.8 2853.5L1449.6 2855.9L1453.5 2858.4L1461.2 2863.8L1468.9 2869.5L1488.1 2884.3L1491.9 2885.8L1499.6 2880.3L1507.3 2875.3L1511.1 2873L1515 2870.9L1518.8 2869L1522.7 2867.3L1526.5 2865.9L1530.4 2864.6L1534.2 2863.6L1538 2862.8L1541.9 2862.3L1545.7 2862.1L1549.6 2862.1L1553.4 2862.3L1557.3 2862.9L1561.1 2863.6L1564.9 2864.6L1568.8 2865.9L1572.6 2867.3L1576.5 2869L1580.3 2870.8L1584.2 2872.8L1591.8 2877.2L1603.4 2884.3L1607.2 2886.3L1614.9 2881.7L1618.7 2879.5L1622.6 2877.5L1626.4 2875.7L1630.3 2874.1L1634.1 2872.7L1638 2871.6L1641.8 2870.9L1645.7 2870.5L1649.5 2870.4L1653.3 2870.7L1657.2 2871.4L1661 2872.5L1664.9 2874L1668.7 2875.8L1672.6 2877.9L1676.4 2880.3L1684.1 2885.7L1687.9 2884.5L1691.8 2881.8L1695.6 2879.3L1699.5 2877.2L1703.3 2875.6L1707.1 2874.9L1711 2875.2L1714.8 2876.9L1718.7 2880.3L1722.5 2885.8L1726.4 2879.2" stroke="#EDB120" stroke-width="6.7"/>
<path d="M123.7 2861.7L127.5 2872.2L131.4 2880.3L135.2 2886.5L139.1 2882L142.9 2878.9L146.8 2876.9L150.6 2876L154.4 2875.8L158.3 2876.3L162.1 2877.2L166 2878.5L169.8 2880L181.3 2885.3L185.2 2886L192.9 2882.9L196.7 2881.5L200.6 2880.3L204.4 2879.3L208.3 2878.5L212.1 2877.9L215.9 2877.5L219.8 2877.3L223.6 2877.2L227.5 2877.3L231.3 2877.6L235.2 2878.1L239 2878.7L242.8 2879.4L250.5 2881.1L258.2 2883L269.7 2886.2L273.6 2885.7L285.1 2882.6L292.8 2880.8L300.5 2879.3L304.3 2878.7L312 2877.7L315.9 2877.3L319.7 2877.1L327.4 2876.8L331.2 2876.8L338.9 2877.1L346.6 2877.8L354.3 2878.8L365.8 2880.7L377.4 2883.1L388.9 2885.8L392.7 2886.3L404.3 2883.6L415.8 2881L427.3 2878.8L435 2877.5L442.7 2876.5L450.4 2875.8L458.1 2875.3L465.8 2875.1L473.4 2875.2L481.1 2875.6L488.8 2876.3L492.7 2876.7L500.3 2877.7L508 2879L515.7 2880.5L527.2 2883L538.8 2885.7L542.6 2886.3L561.8 2881.5L573.4 2878.8L584.9 2876.4L592.6 2875L604.1 2873.3L611.8 2872.5L619.5 2871.9L623.3 2871.7L631 2871.6L638.7 2871.7L642.5 2871.9L650.2 2872.5L657.9 2873.4L661.8 2873.9L669.4 2875.2L677.1 2876.8L688.7 2879.5L700.2 2882.7L711.7 2886.1L715.6 2885.7L738.6 2878.4L750.2 2874.8L761.7 2871.6L773.2 2868.9L780.9 2867.3L784.7 2866.7L792.4 2865.6L800.1 2864.8L804 2864.6L811.7 2864.4L819.3 2864.5L823.2 2864.8L830.9 2865.5L838.6 2866.7L842.4 2867.4L850.1 2869.2L857.8 2871.4L865.5 2873.9L869.3 2875.3L877 2878.3L884.7 2881.7L892.4 2885.2L896.2 2885.9L907.7 2880.1L927 2870L938.5 2864.1L950 2858.6L957.7 2855.3L961.5 2853.8L969.2 2851L973.1 2849.8L976.9 2848.8L980.8 2847.8L984.6 2847.1L988.4 2846.4L992.3 2846L996.1 2845.7L1000 2845.6L1003.8 2845.6L1007.7 2845.9L1011.5 2846.4L1015.3 2847.1L1019.2 2848L1023 2849.1L1026.9 2850.5L1030.7 2852L1034.6 2853.9L1038.4 2855.9L1042.3 2858.2L1046.1 2860.8L1049.9 2863.6L1053.8 2866.6L1057.6 2869.9L1061.5 2873.5L1065.3 2877.3L1069.2 2881.4L1073 2885.7L1076.8 2882.8L1080.7 2877.9L1084.5 2872.9L1088.4 2867.6L1092.2 2862.1L1096.1 2856.4L1103.7 2844.2L1107.6 2837.8L1115.3 2824.5L1119.1 2817.6L1126.8 2803.2L1138.3 2780.6L1149.9 2757.1L1180.6 2693.2L1188.3 2677.6L1196 2662.6L1203.7 2648.1L1211.4 2634.4L1215.2 2627.9L1219 2621.6L1222.9 2615.7L1226.7 2609.9L1230.6 2604.5L1234.4 2599.4L1238.3 2594.7L1242.1 2590.3L1245.9 2586.2L1249.8 2582.6L1253.6 2579.3L1257.5 2576.4L1261.3 2574L1265.2 2571.9L1269 2570.4L1272.8 2569.2L1276.7 2568.6L1280.5 2568.3L1284.4 2568.6L1288.2 2569.3L1292.1 2570.5L1295.9 2572.2L1299.8 2574.4L1303.6 2577L1307.4 2580.2L1311.3 2583.8L1315.1 2587.9L1319 2592.4L1322.8 2597.4L1326.7 2602.9L1330.5 2608.8L1334.3 2615.1L1338.2 2621.9L1342 2629L1345.9 2636.5L1349.7 2644.4L1353.6 2652.7L1357.4 2661.3L1361.2 2670.2L1368.9 2688.8L1376.6 2708.4L1384.3 2728.7L1415.1 2812.5L1422.7 2832.8L1426.6 2842.7L1434.3 2861.7L1438.1 2870.7L1442 2879.5L1445.8 2885.1L1449.6 2877.1L1453.5 2869.6L1457.3 2862.4L1461.2 2855.8L1465 2849.6L1468.9 2844L1472.7 2838.9L1476.5 2834.3L1480.4 2830.3L1484.2 2826.9L1488.1 2824.1L1491.9 2821.9L1495.8 2820.3L1499.6 2819.4L1503.4 2819L1507.3 2819.2L1511.1 2820L1515 2821.5L1518.8 2823.4L1522.7 2826L1526.5 2829L1530.4 2832.6L1534.2 2836.6L1538 2841.1L1541.9 2845.9L1545.7 2851.1L1549.6 2856.7L1553.4 2862.4L1557.3 2868.4L1564.9 2880.8L1568.8 2885.9L1576.5 2873.6L1580.3 2867.7L1584.2 2861.9L1588 2856.5L1591.8 2851.5L1595.7 2846.9L1599.5 2842.9L1603.4 2839.4L1607.2 2836.6L1611.1 2834.4L1614.9 2833.1L1618.7 2832.5L1622.6 2832.8L1626.4 2834L1630.3 2836.1L1634.1 2839.1L1638 2843L1641.8 2847.9L1645.7 2853.6L1649.5 2860.1L1653.3 2867.3L1657.2 2875.2L1661 2883.7L1664.9 2880.5L1672.6 2862.6L1676.4 2854L1680.2 2845.9L1684.1 2838.8L1687.9 2833L1691.8 2828.9L1695.6 2827.1L1699.5 2828.2L1703.3 2832.7L1707.1 2841.4L1711 2855L1714.8 2874.4L1718.7 2872.4L1722.5 2838.5L1726.4 2795.5" stroke="#7E2F8E" stroke-width="6.7"/>
<path d="M123.7 2833.7L127.5 2852.2L131.4 2867.3L135.2 2879.4L139.1 2884.1L142.9 2876.8L146.8 2871.5L150.6 2867.9L154.4 2865.7L158.3 2864.7L162.1 2864.7L166 2865.5L169.8 2867L173.7 2869L177.5 2871.4L181.3 2874L196.7 2885.5L200.6 2884.7L204.4 2882.1L208.3 2879.7L212.1 2877.5L215.9 2875.5L219.8 2873.8L223.6 2872.3L227.5 2871.1L231.3 2870.2L235.2 2869.5L239 2869.1L242.8 2868.9L246.7 2869L250.5 2869.3L254.4 2869.8L258.2 2870.5L262.1 2871.3L265.9 2872.4L273.6 2874.8L281.3 2877.7L289 2880.8L300.5 2885.7L304.3 2885.7L315.9 2881L323.6 2878.2L331.2 2875.7L335.1 2874.7L342.8 2872.8L350.5 2871.4L358.1 2870.5L362 2870.2L369.7 2870L377.4 2870.2L385 2870.9L392.7 2872.1L400.4 2873.5L408.1 2875.3L419.6 2878.5L431.2 2882.1L442.7 2885.9L446.5 2885.9L461.9 2880.9L473.4 2877.5L485 2874.6L492.7 2872.9L500.3 2871.5L504.2 2871L511.9 2870L519.6 2869.5L523.4 2869.3L531.1 2869.2L538.8 2869.5L542.6 2869.7L550.3 2870.5L558 2871.5L561.8 2872.1L569.5 2873.6L577.2 2875.3L588.7 2878.2L600.3 2881.6L615.6 2886.3L619.5 2885.5L638.7 2879.5L650.2 2876.1L661.8 2873.1L673.3 2870.6L681 2869.2L684.8 2868.6L692.5 2867.6L696.4 2867.2L704 2866.6L707.9 2866.4L715.6 2866.3L723.3 2866.6L727.1 2866.8L734.8 2867.5L742.5 2868.5L746.3 2869.2L754 2870.6L761.7 2872.4L773.2 2875.4L780.9 2877.7L788.6 2880.2L804 2885.6L807.8 2886L830.9 2877.5L846.2 2872.2L857.8 2868.5L869.3 2865.4L877 2863.6L880.8 2862.8L888.5 2861.5L892.4 2860.9L900 2860.1L903.9 2859.8L911.6 2859.6L919.3 2859.8L923.1 2860L930.8 2860.8L934.6 2861.3L942.3 2862.7L946.2 2863.6L953.9 2865.6L961.5 2868L965.4 2869.3L973.1 2872.3L976.9 2873.9L984.6 2877.3L992.3 2881L1000 2884.9L1003.8 2886L1011.5 2881.9L1034.6 2868.9L1046.1 2862.6L1057.6 2856.6L1065.3 2853L1069.2 2851.3L1076.8 2848.3L1080.7 2846.9L1084.5 2845.7L1088.4 2844.6L1092.2 2843.7L1096.1 2842.9L1099.9 2842.2L1103.7 2841.7L1107.6 2841.4L1111.4 2841.3L1115.3 2841.3L1119.1 2841.6L1123 2842.1L1126.8 2842.7L1130.6 2843.6L1134.5 2844.7L1138.3 2846.1L1142.2 2847.6L1146 2849.4L1149.9 2851.5L1153.7 2853.7L1157.6 2856.3L1161.4 2859L1165.2 2862.1L1169.1 2865.3L1172.9 2868.8L1176.8 2872.6L1180.6 2876.6L1184.5 2880.9L1188.3 2885.4L1192.1 2882.8L1196 2877.8L1199.8 2872.5L1203.7 2867L1207.5 2861.3L1215.2 2849.2L1222.9 2836.3L1230.6 2822.6L1234.4 2815.5L1242.1 2800.8L1253.6 2777.7L1265.2 2753.7L1295.9 2688.5L1303.6 2672.6L1311.3 2657.3L1319 2642.5L1326.7 2628.5L1330.5 2621.9L1334.3 2615.5L1338.2 2609.4L1342 2603.6L1345.9 2598.1L1349.7 2592.9L1353.6 2588L1357.4 2583.6L1361.2 2579.5L1365.1 2575.8L1368.9 2572.5L1372.8 2569.6L1376.6 2567.2L1380.5 2565.2L1384.3 2563.7L1388.1 2562.6L1392 2562.1L1395.8 2562L1399.7 2562.5L1403.5 2563.4L1407.4 2564.9L1411.2 2566.9L1415.1 2569.3L1418.9 2572.4L1422.7 2575.9L1426.6 2580L1430.4 2584.5L1434.3 2589.6L1438.1 2595.2L1442 2601.3L1445.8 2607.8L1449.6 2614.9L1453.5 2622.3L1457.3 2630.3L1461.2 2638.6L1465 2647.4L1468.9 2656.6L1472.7 2666.1L1480.4 2686.1L1488.1 2707.3L1495.8 2729.3L1503.4 2752L1522.7 2809.3L1530.4 2831.7L1538 2853.2L1541.9 2863.5L1545.7 2873.5L1549.6 2883.1L1553.4 2880.8L1557.3 2872.2L1561.1 2864.1L1564.9 2856.5L1568.8 2849.6L1572.6 2843.3L1576.5 2837.7L1580.3 2832.8L1584.2 2828.7L1588 2825.3L1591.8 2822.8L1595.7 2821L1599.5 2820.1L1603.4 2820.1L1607.2 2820.9L1611.1 2822.5L1614.9 2825L1618.7 2828.3L1622.6 2832.4L1626.4 2837.2L1630.3 2842.8L1634.1 2849L1638 2855.8L1641.8 2863.2L1645.7 2871L1649.5 2879.1L1653.3 2885.5L1661 2868.7L1664.9 2860.5L1668.7 2852.8L1672.6 2845.6L1676.4 2839.3L1680.2 2834L1684.1 2830.1L1687.9 2827.8L1691.8 2827.4L1695.6 2829.3L1699.5 2833.8L1703.3 2841.3L1707.1 2852.4L1711 2867.3L1714.8 2886.4L1718.7 2862.1L1722.5 2832.3L1726.4 2796.5" stroke="#77AC30" stroke-width="6.7"/>
<path d="M123.7 2820.6L127.5 2844.6L131.4 2864L135.2 2879.4L139.1 2881.7L142.9 2872.8L146.8 2866.5L150.6 2862.4L154.4 2860.1L158.3 2859.4L162.1 2859.9L166 2861.4L169.8 2863.7L173.7 2866.6L177.5 2869.9L181.3 2873.4L192.9 2884.6L196.7 2884.9L200.6 2881.5L204.4 2878.4L208.3 2875.6L212.1 2873.1L215.9 2870.9L219.8 2869.1L223.6 2867.6L227.5 2866.5L231.3 2865.7L235.2 2865.3L239 2865.2L242.8 2865.4L246.7 2865.9L250.5 2866.6L254.4 2867.6L258.2 2868.8L262.1 2870.2L265.9 2871.8L273.6 2875.3L281.3 2879.2L292.8 2885.4L296.6 2885.6L304.3 2881.7L308.2 2879.8L315.9 2876.4L323.6 2873.4L327.4 2872.1L331.2 2871L335.1 2870L338.9 2869.1L342.8 2868.4L346.6 2867.9L350.5 2867.5L354.3 2867.2L358.1 2867.1L362 2867.2L365.8 2867.4L369.7 2867.8L373.5 2868.2L377.4 2868.9L381.2 2869.6L388.9 2871.4L396.6 2873.6L400.4 2874.8L408.1 2877.5L415.8 2880.3L431.2 2886.3L435 2885.2L446.5 2880.8L454.2 2878L461.9 2875.5L469.6 2873.3L477.3 2871.3L485 2869.7L492.7 2868.5L500.3 2867.7L508 2867.3L511.9 2867.3L519.6 2867.5L523.4 2867.8L531.1 2868.6L534.9 2869.1L542.6 2870.4L546.5 2871.2L554.2 2873L565.7 2876.2L577.2 2879.8L596.4 2886.4L600.3 2885.3L615.6 2880L627.2 2876.3L638.7 2873L646.4 2871.1L650.2 2870.3L657.9 2868.8L661.8 2868.1L669.4 2867.1L677.1 2866.4L681 2866.1L688.7 2865.9L696.4 2866.1L700.2 2866.3L707.9 2867L711.7 2867.4L719.4 2868.6L723.3 2869.3L730.9 2870.9L734.8 2871.8L742.5 2873.8L754 2877.3L765.5 2881.1L780.9 2886.5L800.1 2879.5L815.5 2874.3L827 2870.8L834.7 2868.7L838.6 2867.8L846.2 2866.1L850.1 2865.4L857.8 2864.2L861.6 2863.7L869.3 2863L873.1 2862.8L880.8 2862.6L888.5 2862.8L892.4 2863.1L900 2863.8L903.9 2864.4L911.6 2865.7L915.4 2866.5L923.1 2868.3L930.8 2870.5L934.6 2871.7L942.3 2874.3L953.9 2878.6L961.5 2881.8L969.2 2885L973.1 2886.3L996.1 2876.1L1007.7 2871.2L1019.2 2866.7L1026.9 2864L1030.7 2862.7L1038.4 2860.5L1042.3 2859.5L1049.9 2857.8L1053.8 2857.1L1061.5 2856.1L1065.3 2855.7L1069.2 2855.5L1073 2855.4L1076.8 2855.4L1080.7 2855.6L1084.5 2855.9L1088.4 2856.3L1092.2 2856.9L1096.1 2857.6L1099.9 2858.4L1103.7 2859.4L1107.6 2860.5L1111.4 2861.7L1115.3 2863L1123 2866.1L1126.8 2867.8L1134.5 2871.6L1138.3 2873.6L1146 2878L1149.9 2880.3L1157.6 2885.1L1161.4 2885.4L1169.1 2880.2L1192.1 2864.4L1199.8 2859.4L1207.5 2854.5L1211.4 2852.3L1219 2848L1222.9 2846.1L1226.7 2844.4L1230.6 2842.7L1234.4 2841.3L1238.3 2840L1242.1 2839L1245.9 2838.1L1249.8 2837.5L1253.6 2837.1L1257.5 2837L1261.3 2837.1L1265.2 2837.5L1269 2838.2L1272.8 2839.2L1276.7 2840.5L1280.5 2842.1L1284.4 2844L1288.2 2846.2L1292.1 2848.8L1295.9 2851.7L1299.8 2855L1303.6 2858.6L1307.4 2862.6L1311.3 2866.9L1315.1 2871.6L1319 2876.7L1322.8 2882.1L1326.7 2885.2L1330.5 2879.1L1334.3 2872.6L1338.2 2865.8L1342 2858.7L1345.9 2851.2L1349.7 2843.4L1353.6 2835.4L1357.4 2827L1365.1 2809.4L1372.8 2790.8L1376.6 2781.2L1384.3 2761.4L1395.8 2730.6L1415.1 2678.1L1422.7 2657.4L1430.4 2637.2L1434.3 2627.4L1442 2608.4L1445.8 2599.4L1449.6 2590.7L1453.5 2582.3L1457.3 2574.4L1461.2 2566.8L1465 2559.8L1468.9 2553.2L1472.7 2547.2L1476.5 2541.7L1480.4 2536.8L1484.2 2532.5L1488.1 2528.9L1491.9 2525.9L1495.8 2523.7L1499.6 2522.1L1503.4 2521.3L1507.3 2521.2L1511.1 2521.9L1515 2523.3L1518.8 2525.6L1522.7 2528.6L1526.5 2532.4L1530.4 2537.1L1534.2 2542.5L1538 2548.7L1541.9 2555.7L1545.7 2563.4L1549.6 2571.9L1553.4 2581.1L1557.3 2591.1L1561.1 2601.7L1564.9 2612.9L1568.8 2624.7L1572.6 2637.1L1576.5 2650L1580.3 2663.3L1588 2691.2L1595.7 2720.1L1614.9 2793.6L1622.6 2821.8L1626.4 2835.3L1630.3 2848.3L1634.1 2860.6L1638 2872.3L1641.8 2883.1L1645.7 2879.9L1649.5 2870.8L1653.3 2862.8L1657.2 2855.9L1661 2850.2L1664.9 2845.6L1668.7 2842.4L1672.6 2840.5L1676.4 2839.9L1680.2 2840.6L1684.1 2842.8L1687.9 2846.2L1691.8 2850.9L1695.6 2856.9L1699.5 2863.9L1703.3 2872.1L1707.1 2881L1711 2882.3L1722.5 2851.4L1726.4 2841.5" stroke="#4DBEEE" stroke-width="6.7"/>
<path d="M123.7 2854L127.5 2866L131.4 2875.7L135.2 2883.3L139.1 2883.8L142.9 2879.5L146.8 2876.4L150.6 2874.5L154.4 2873.4L158.3 2873.1L162.1 2873.5L166 2874.3L169.8 2875.5L173.7 2877L177.5 2878.7L192.9 2886.1L196.7 2885.2L200.6 2883.6L204.4 2882L208.3 2880.7L212.1 2879.5L215.9 2878.5L219.8 2877.6L223.6 2877L227.5 2876.5L231.3 2876.2L235.2 2876.1L239 2876.1L242.8 2876.3L246.7 2876.6L250.5 2877L258.2 2878.2L262.1 2879L269.7 2880.7L277.4 2882.6L289 2885.6L292.8 2886.4L300.5 2884.4L308.2 2882.6L315.9 2881L323.6 2879.6L331.2 2878.5L338.9 2877.7L342.8 2877.4L350.5 2877.1L358.1 2877.1L365.8 2877.4L373.5 2877.9L381.2 2878.7L388.9 2879.7L396.6 2880.9L408.1 2882.9L423.5 2885.9L427.3 2886.4L438.9 2884.2L450.4 2882.2L461.9 2880.4L469.6 2879.4L481.1 2878.3L488.8 2877.7L496.5 2877.4L504.2 2877.3L511.9 2877.3L523.4 2877.8L531.1 2878.3L542.6 2879.5L550.3 2880.4L561.8 2882L573.4 2883.8L588.7 2886.4L592.6 2886L608 2883.4L623.3 2881.1L634.9 2879.6L642.5 2878.8L654.1 2877.8L661.8 2877.3L673.3 2876.9L681 2876.8L688.7 2876.9L700.2 2877.4L707.9 2877.9L719.4 2879L730.9 2880.3L742.5 2881.9L754 2883.7L769.4 2886.3L773.2 2886.1L792.4 2882.8L804 2881L815.5 2879.4L827 2878L838.6 2876.8L850.1 2876.1L861.6 2875.7L869.3 2875.6L877 2875.7L888.5 2876.2L896.2 2876.8L907.7 2877.9L919.3 2879.4L930.8 2881.1L942.3 2883.1L957.7 2886L961.5 2886.2L992.3 2880.2L1003.8 2878.2L1015.3 2876.4L1026.9 2875L1038.4 2873.9L1049.9 2873.3L1057.6 2873.2L1069.2 2873.4L1076.8 2873.8L1088.4 2874.8L1099.9 2876.4L1107.6 2877.7L1119.1 2880L1126.8 2881.7L1142.2 2885.6L1146 2886.4L1169.1 2880.1L1180.6 2877.1L1192.1 2874.3L1203.7 2871.9L1211.4 2870.5L1215.2 2869.9L1222.9 2869L1230.6 2868.4L1234.4 2868.2L1242.1 2868.1L1249.8 2868.4L1253.6 2868.7L1261.3 2869.5L1269 2870.8L1276.7 2872.4L1284.4 2874.5L1288.2 2875.7L1295.9 2878.3L1303.6 2881.2L1315.1 2886.2L1319 2885L1326.7 2881.4L1345.9 2871.9L1353.6 2868.3L1361.2 2864.8L1368.9 2861.7L1376.6 2859L1380.5 2857.8L1384.3 2856.8L1388.1 2856L1392 2855.4L1395.8 2855L1399.7 2854.8L1403.5 2854.9L1407.4 2855.2L1411.2 2855.8L1415.1 2856.6L1418.9 2857.8L1422.7 2859.3L1426.6 2861.1L1430.4 2863.3L1434.3 2865.9L1438.1 2868.8L1442 2872.1L1445.8 2875.8L1449.6 2879.9L1453.5 2884.5L1457.3 2883.5L1461.2 2878.1L1465 2872.3L1468.9 2865.9L1472.7 2859.2L1476.5 2852L1480.4 2844.3L1484.2 2836.2L1488.1 2827.7L1491.9 2818.7L1495.8 2809.2L1499.6 2799.4L1503.4 2789.2L1507.3 2778.5L1515 2756.2L1518.8 2744.5L1526.5 2720.3L1538 2682.4L1561.1 2604.4L1568.8 2579.2L1572.6 2567.1L1576.5 2555.3L1580.3 2543.9L1584.2 2533.1L1588 2522.8L1591.8 2513.1L1595.7 2504.2L1599.5 2496L1603.4 2488.7L1607.2 2482.3L1611.1 2476.9L1614.9 2472.5L1618.7 2469.3L1622.6 2467.3L1626.4 2466.6L1630.3 2467.1L1634.1 2469.1L1638 2472.4L1641.8 2477.2L1645.7 2483.5L1649.5 2491.3L1653.3 2500.7L1657.2 2511.6L1661 2524L1664.9 2537.9L1668.7 2553.3L1672.6 2570.1L1676.4 2588.3L1680.2 2607.7L1684.1 2628.2L1687.9 2649.8L1691.8 2672.2L1707.1 2765.7L1711 2788.8L1714.8 2810.9L1718.7 2831.8L1722.5 2851L1726.4 2867.9" stroke="#A2142F" stroke-width="6.7"/>
<path d="M123.7 2870.2L127.5 2876.2L131.4 2881.1L135.2 2884.9L139.1 2885.2L142.9 2883L146.8 2881.5L150.6 2880.5L154.4 2880L158.3 2879.8L162.1 2880L166 2880.4L169.8 2881L177.5 2882.6L192.9 2886.2L196.7 2885.9L204.4 2884.3L208.3 2883.6L215.9 2882.5L223.6 2881.8L227.5 2881.5L235.2 2881.3L239 2881.3L246.7 2881.5L258.2 2882.3L269.7 2883.6L292.8 2886.5L312 2884.2L319.7 2883.4L327.4 2882.8L335.1 2882.3L342.8 2882L354.3 2881.8L362 2881.9L369.7 2882.1L385 2882.9L400.4 2884L427.3 2886.5L450.4 2884.4L465.8 2883.3L481.1 2882.5L496.5 2882.1L504.2 2882L515.7 2882L527.2 2882.3L538.8 2882.8L550.3 2883.5L561.8 2884.2L588.7 2886.3L592.6 2886.3L619.5 2884.2L631 2883.5L642.5 2882.8L661.8 2882.1L673.3 2881.9L681 2881.8L688.7 2881.9L700.2 2882.1L719.4 2882.8L738.6 2883.9L769.4 2886.2L773.2 2886.4L804 2884L827 2882.6L838.6 2882L850.1 2881.6L861.6 2881.4L869.3 2881.4L877 2881.4L888.5 2881.6L900 2882L911.6 2882.6L923.1 2883.3L934.6 2884.1L961.5 2886.4L965.4 2886.3L988.4 2884.2L1003.8 2882.9L1023 2881.6L1034.6 2881L1042.3 2880.8L1053.8 2880.5L1061.5 2880.5L1073 2880.6L1080.7 2880.8L1092.2 2881.3L1103.7 2882L1123 2883.6L1134.5 2884.8L1149.9 2886.5L1184.5 2882.5L1196 2881.3L1207.5 2880.3L1219 2879.5L1226.7 2879.2L1238.3 2878.8L1245.9 2878.8L1253.6 2878.9L1261.3 2879.2L1269 2879.6L1280.5 2880.6L1288.2 2881.4L1299.8 2882.8L1311.3 2884.6L1322.8 2886.5L1353.6 2881L1365.1 2879.1L1372.8 2878L1384.3 2876.6L1392 2875.9L1399.7 2875.5L1407.4 2875.4L1415.1 2875.5L1422.7 2876L1430.4 2876.8L1434.3 2877.3L1442 2878.7L1449.6 2880.3L1457.3 2882.3L1461.2 2883.4L1468.9 2885.9L1472.7 2885.9L1480.4 2883.1L1503.4 2874.5L1511.1 2871.9L1518.8 2869.6L1522.7 2868.6L1526.5 2867.7L1530.4 2867.1L1534.2 2866.6L1538 2866.3L1541.9 2866.2L1545.7 2866.5L1549.6 2867L1553.4 2867.8L1557.3 2869L1561.1 2870.5L1564.9 2872.5L1568.8 2874.8L1572.6 2877.7L1576.5 2881L1580.3 2884.8L1584.2 2883.8L1588 2878.9L1591.8 2873.3L1595.7 2867.1L1599.5 2860.3L1603.4 2852.9L1607.2 2844.7L1611.1 2835.9L1614.9 2826.3L1618.7 2816.1L1622.6 2805.1L1626.4 2793.4L1630.3 2781L1634.1 2767.9L1638 2754.1L1641.8 2739.7L1645.7 2724.6L1649.5 2709L1653.3 2692.8L1661 2659.2L1676.4 2589.2L1684.1 2554.9L1687.9 2538.4L1691.8 2522.7L1695.6 2507.9L1699.5 2494.4L1703.3 2482.4L1707.1 2472.3L1711 2464.2L1714.8 2458.7L1718.7 2456.1L1722.5 2456.9L1726.4 2461.5" stroke="#0072BD" stroke-width="6.7"/>
<path d="M123.7 2837.1L127.5 2853.1L131.4 2866.5L135.2 2877.5L139.1 2886.4L142.9 2879.5L146.8 2874.1L150.6 2870.1L154.4 2867.4L158.3 2865.8L162.1 2865.2L166 2865.3L169.8 2866.1L173.7 2867.4L177.5 2869.2L181.3 2871.4L185.2 2873.8L189 2876.3L200.6 2884.4L204.4 2885.9L212.1 2880.9L215.9 2878.6L219.8 2876.5L223.6 2874.6L227.5 2872.9L231.3 2871.5L235.2 2870.3L239 2869.3L242.8 2868.5L246.7 2868L250.5 2867.7L254.4 2867.6L258.2 2867.8L262.1 2868.2L265.9 2868.7L269.7 2869.5L273.6 2870.4L277.4 2871.4L281.3 2872.6L289 2875.4L292.8 2877L300.5 2880.2L312 2885.5L315.9 2885.7L327.4 2880.6L335.1 2877.3L338.9 2875.8L346.6 2873L354.3 2870.7L362 2868.7L365.8 2867.9L369.7 2867.3L373.5 2866.7L377.4 2866.3L381.2 2866.1L385 2865.9L388.9 2865.9L392.7 2866L396.6 2866.3L400.4 2866.7L404.3 2867.2L411.9 2868.6L419.6 2870.4L427.3 2872.6L431.2 2873.8L438.9 2876.6L450.4 2881.1L461.9 2886L465.8 2885.3L485 2876.9L496.5 2872.2L504.2 2869.4L508 2868L515.7 2865.6L523.4 2863.6L527.2 2862.7L534.9 2861.2L542.6 2860.2L546.5 2859.9L550.3 2859.7L554.2 2859.6L558 2859.6L561.8 2859.8L565.7 2860.1L569.5 2860.5L573.4 2861L581.1 2862.5L584.9 2863.4L592.6 2865.5L596.4 2866.7L604.1 2869.6L608 2871.1L615.6 2874.5L619.5 2876.3L627.2 2880.1L638.7 2886.4L642.5 2884.5L669.4 2868.8L681 2862.3L688.7 2858.3L692.5 2856.3L700.2 2852.7L704 2851.1L711.7 2848.1L715.6 2846.7L719.4 2845.5L723.3 2844.5L727.1 2843.6L730.9 2842.8L734.8 2842.2L738.6 2841.8L742.5 2841.5L746.3 2841.4L750.2 2841.5L754 2841.8L757.8 2842.3L761.7 2842.9L765.5 2843.8L769.4 2844.9L773.2 2846.2L777.1 2847.7L780.9 2849.4L784.7 2851.3L788.6 2853.5L792.4 2855.8L796.3 2858.4L800.1 2861.2L804 2864.2L807.8 2867.4L811.7 2870.8L815.5 2874.4L819.3 2878.3L827 2886.5L830.9 2882L834.7 2877.4L838.6 2872.6L846.2 2862.5L853.9 2851.6L857.8 2846L865.5 2834.3L869.3 2828.3L877 2815.9L888.5 2796.5L900 2776.6L927 2729.5L938.5 2709.8L946.2 2697.1L953.9 2684.8L961.5 2673.1L969.2 2662L976.9 2651.7L980.8 2646.8L984.6 2642.1L988.4 2637.7L992.3 2633.5L996.1 2629.5L1000 2625.8L1003.8 2622.3L1007.7 2619.1L1011.5 2616.2L1015.3 2613.6L1019.2 2611.2L1023 2609.1L1026.9 2607.4L1030.7 2605.9L1034.6 2604.7L1038.4 2603.9L1042.3 2603.3L1046.1 2603.1L1049.9 2603.2L1053.8 2603.6L1057.6 2604.4L1061.5 2605.4L1065.3 2606.8L1069.2 2608.5L1073 2610.5L1076.8 2612.8L1080.7 2615.4L1084.5 2618.4L1088.4 2621.6L1092.2 2625.1L1096.1 2628.9L1099.9 2633L1103.7 2637.4L1107.6 2642L1111.4 2646.9L1115.3 2652.1L1119.1 2657.5L1123 2663.1L1126.8 2669L1134.5 2681.3L1142.2 2694.3L1149.9 2708L1157.6 2722.3L1165.2 2736.9L1172.9 2751.9L1199.8 2804.9L1207.5 2819.8L1215.2 2834.3L1222.9 2848.2L1230.6 2861.6L1238.3 2874.3L1245.9 2886.2L1249.8 2881.2L1253.6 2875.9L1257.5 2870.8L1261.3 2865.9L1265.2 2861.3L1269 2857L1272.8 2852.9L1276.7 2849.2L1280.5 2845.7L1284.4 2842.6L1288.2 2839.7L1292.1 2837.2L1295.9 2835L1299.8 2833L1303.6 2831.4L1307.4 2830.1L1311.3 2829.1L1315.1 2828.4L1319 2828.1L1322.8 2828L1326.7 2828.2L1330.5 2828.7L1334.3 2829.5L1338.2 2830.6L1342 2831.9L1345.9 2833.5L1349.7 2835.3L1353.6 2837.4L1357.4 2839.6L1361.2 2842.1L1365.1 2844.8L1368.9 2847.7L1372.8 2850.7L1380.5 2857.2L1384.3 2860.6L1392 2867.7L1411.2 2886.1L1415.1 2883.2L1422.7 2876.1L1430.4 2869.4L1438.1 2863.2L1442 2860.4L1445.8 2857.7L1449.6 2855.3L1453.5 2853L1457.3 2851L1461.2 2849.3L1465 2847.8L1468.9 2846.5L1472.7 2845.6L1476.5 2844.9L1480.4 2844.5L1484.2 2844.5L1488.1 2844.7L1491.9 2845.2L1495.8 2846L1499.6 2847.1L1503.4 2848.6L1507.3 2850.3L1511.1 2852.2L1515 2854.5L1518.8 2857L1522.7 2859.7L1526.5 2862.7L1530.4 2865.9L1538 2872.7L1541.9 2876.4L1549.6 2883.9L1553.4 2885.2L1564.9 2873.7L1572.6 2866.5L1576.5 2863.2L1580.3 2860L1584.2 2857.1L1588 2854.6L1591.8 2852.3L1595.7 2850.4L1599.5 2849L1603.4 2848L1607.2 2847.4L1611.1 2847.4L1614.9 2847.9L1618.7 2848.9L1622.6 2850.5L1626.4 2852.7L1630.3 2855.5L1634.1 2858.8L1638 2862.6L1641.8 2867L1645.7 2871.9L1649.5 2877.2L1653.3 2882.8L1657.2 2884.2L1668.7 2865.7L1672.6 2859.8L1676.4 2854.3L1680.2 2849.4L1684.1 2845.4L1687.9 2842.4L1691.8 2840.9L1695.6 2841.2L1699.5 2843.6L1703.3 2848.5L1707.1 2856.4L1711 2867.9L1714.8 2883.4L1718.7 2869.5L1722.5 2844L1726.4 2812.4" stroke="#000" stroke-width="17.3"/></g>
<g style="font-size:100px">
<g><text class="m" transform="matrix(0.6368 0 0 0.6113 126.74 95.95)">H</text><text class="m" transform="matrix(0.4448 0 0 0.4018 171.98 104.95)">k</text><text class="m r" transform="matrix(0.5949 0 0 0.6617 197.21 96.50)">(</text><text class="m" transform="matrix(0.6922 0 0 0.5779 221.33 95.67)">λ</text><text class="m r" transform="matrix(0.5729 0 0 0.6556 252.67 96.56)">)</text></g>
<g><text class="m" transform="matrix(0.6334 0 0 0.6113 833.28 95.95)">H</text><text class="m r" transform="matrix(0.4274 0 0 0.4318 878.04 106.52)">8</text><text class="m r" transform="matrix(0.5994 0 0 0.6650 902.44 97.31)">(</text><text class="m" transform="matrix(0.6933 0 0 0.5803 927.06 95.67)">λ</text><text class="m r" transform="matrix(0.5789 0 0 0.6519 958.32 97.01)">)</text></g>
<g><text class="m" transform="matrix(0.6972 0 0 0.5776 154.43 835.94)">P</text><text class="m r n" transform="matrix(0.396 0 0 0.45 169.40 822.70)">¯</text><text class="m" transform="matrix(0.4535 0 0 0.4018 188.88 844.95)">k</text><text class="m r" transform="matrix(0.3956 0 0 0.4902 211.41 844.95)">,</text><text class="m" transform="matrix(0.4476 0 0 0.4266 223.27 844.93)">M</text><text class="m r" transform="matrix(0.5349 0 0 0.4842 265.13 851.44)">−</text><text class="m r" transform="matrix(0.3958 0 0 0.4006 295.11 844.94)">1</text><text class="m r" transform="matrix(0.5598 0 0 0.6596 320.42 838.16)">(</text><text class="m" transform="matrix(0.6794 0 0 0.5707 343.79 836.10)">λ</text><text class="m r" transform="matrix(0.5504 0 0 0.6558 375.10 838.28)">)</text><text class="m r" transform="matrix(0.5931 0 0 0.7499 397.74 836.76)">,</text><text class="m" transform="matrix(0.6559 0 0 0.5776 442.50 835.94)">M</text><text class="m r" transform="matrix(0.8310 0 0 0.5673 515.83 841.59)">=</text><text class="m r" transform="matrix(0.5718 0 0 0.5764 0.00 835.95)" x="1013.2 1065.1">12</text></g>
<g><text class="m" transform="matrix(0.6972 0 0 0.5776 754.43 835.94)">P</text><text class="m r n" transform="matrix(0.396 0 0 0.45 769.40 822.70)">¯</text><text class="m r" transform="matrix(0.4094 0 0 0.4343 789.24 845.65)">8</text><text class="m r" transform="matrix(0.3688 0 0 0.4765 810.33 844.96)">,</text><text class="m" transform="matrix(0.4481 0 0 0.4266 821.95 844.93)">M</text><text class="m r" transform="matrix(0.5288 0 0 0.4609 863.68 850.44)">−</text><text class="m r" transform="matrix(0.3936 0 0 0.4060 893.20 844.95)">1</text><text class="m r" transform="matrix(0.5680 0 0 0.6529 918.97 838.53)">(</text><text class="m" transform="matrix(0.6826 0 0 0.5723 942.46 836.10)">λ</text><text class="m r" transform="matrix(0.5593 0 0 0.6534 973.13 837.90)">)</text></g>
<g><text class="m" transform="matrix(0.6857 0 0 0.5776 1386.93 836.94)">K</text><text class="m r" transform="matrix(0.8386 0 0 0.5673 1450.80 842.59)">=</text><text class="m r" transform="matrix(0.5608 0 0 0.5752 0.00 838.01)" x="2667.8 2719.6">15</text></g>
<g><text class="m" transform="matrix(0.6972 0 0 0.5776 154.43 1613.94)">P</text><text class="m" transform="matrix(0.4535 0 0 0.4018 188.88 1630.95)">k</text><text class="m r" transform="matrix(0.3956 0 0 0.4902 211.41 1630.95)">,</text><text class="m" transform="matrix(0.4476 0 0 0.4266 223.27 1630.93)">M</text><text class="m r" transform="matrix(0.5349 0 0 0.4842 265.13 1637.44)">−</text><text class="m r" transform="matrix(0.3958 0 0 0.4006 295.11 1630.94)">1</text><text class="m" transform="matrix(0.3980 0 0 0.4045 0.00 1586.57)" x="497.3 554.7 609.1">Leg</text><text class="m r" transform="matrix(0.5598 0 0 0.6596 320.42 1616.16)">(</text><text class="m" transform="matrix(0.6794 0 0 0.5707 343.79 1614.10)">λ</text><text class="m r" transform="matrix(0.5504 0 0 0.6558 375.10 1616.28)">)</text><text class="m r" transform="matrix(0.5931 0 0 0.7499 397.74 1614.76)">,</text><text class="m" transform="matrix(0.6559 0 0 0.5776 442.50 1613.94)">M</text><text class="m r" transform="matrix(0.8310 0 0 0.5673 515.83 1619.59)">=</text><text class="m r" transform="matrix(0.5718 0 0 0.5764 0.00 1613.95)" x="1013.2 1065.1">12</text></g>
<g><text class="m" transform="matrix(0.6972 0 0 0.5776 754.43 1613.94)">P</text><text class="m r" transform="matrix(0.4094 0 0 0.4343 789.24 1631.65)">8</text><text class="m r" transform="matrix(0.3688 0 0 0.4765 810.33 1630.96)">,</text><text class="m" transform="matrix(0.4481 0 0 0.4266 821.95 1630.93)">M</text><text class="m r" transform="matrix(0.5288 0 0 0.4609 863.68 1636.44)">−</text><text class="m r" transform="matrix(0.3936 0 0 0.4060 893.20 1630.95)">1</text><text class="m" transform="matrix(0.3980 0 0 0.4045 0.00 1586.57)" x="2004.9 2062.4 2116.8">Leg</text><text class="m r" transform="matrix(0.5680 0 0 0.6529 918.97 1616.53)">(</text><text class="m" transform="matrix(0.6826 0 0 0.5723 942.46 1614.10)">λ</text><text class="m r" transform="matrix(0.5593 0 0 0.6534 973.13 1615.90)">)</text></g>
<g><text class="m" transform="matrix(0.6857 0 0 0.5776 1386.93 1614.15)">K</text><text class="m r" transform="matrix(0.8386 0 0 0.5673 1450.80 1619.80)">=</text><text class="m r" transform="matrix(0.5608 0 0 0.5752 0.00 1615.21)" x="2667.8 2719.6">15</text></g>
<g><text class="m" transform="matrix(0.6972 0 0 0.5776 154.43 2387.94)">P</text><text class="m" transform="matrix(0.4535 0 0 0.4018 188.88 2403.95)">k</text><text class="m r" transform="matrix(0.3956 0 0 0.4902 211.41 2403.95)">,</text><text class="m" transform="matrix(0.4476 0 0 0.4266 223.27 2403.93)">M</text><text class="m r" transform="matrix(0.5349 0 0 0.4842 265.13 2410.44)">−</text><text class="m r" transform="matrix(0.3958 0 0 0.4006 295.11 2403.94)">1</text><text class="m" transform="matrix(0.4234 0 0 0.4292 0.00 2368.15)" x="468.5 539.4">LS</text><text class="m r" transform="matrix(0.5598 0 0 0.6596 320.42 2390.16)">(</text><text class="m" transform="matrix(0.6794 0 0 0.5707 343.79 2388.10)">λ</text><text class="m r" transform="matrix(0.5504 0 0 0.6558 375.10 2390.28)">)</text><text class="m r" transform="matrix(0.5931 0 0 0.7499 397.74 2388.76)">,</text><text class="m" transform="matrix(0.6559 0 0 0.5776 442.50 2387.94)">M</text><text class="m r" transform="matrix(0.8310 0 0 0.5673 515.83 2393.59)">=</text><text class="m r" transform="matrix(0.5718 0 0 0.5764 0.00 2387.95)" x="1013.2 1065.1">12</text></g>
<g><text class="m" transform="matrix(0.6972 0 0 0.5776 754.43 2387.94)">P</text><text class="m r" transform="matrix(0.4094 0 0 0.4343 789.24 2404.65)">8</text><text class="m r" transform="matrix(0.3688 0 0 0.4765 810.33 2403.96)">,</text><text class="m" transform="matrix(0.4481 0 0 0.4266 821.95 2403.93)">M</text><text class="m r" transform="matrix(0.5288 0 0 0.4609 863.68 2409.44)">−</text><text class="m r" transform="matrix(0.3936 0 0 0.4060 893.20 2403.95)">1</text><text class="m" transform="matrix(0.4234 0 0 0.4292 0.00 2368.15)" x="1885.7 1956.5">LS</text><text class="m r" transform="matrix(0.5680 0 0 0.6529 918.97 2390.53)">(</text><text class="m" transform="matrix(0.6826 0 0 0.5723 942.46 2388.10)">λ</text><text class="m r" transform="matrix(0.5593 0 0 0.6534 973.13 2389.90)">)</text></g>
<g><text class="m" transform="matrix(0.6857 0 0 0.5776 1386.93 2390.14)">K</text><text class="m r" transform="matrix(0.8386 0 0 0.5673 1450.80 2394.78)">=</text><text class="m r" transform="matrix(0.5608 0 0 0.5752 0.00 2390.22)" x="2667.8 2719.6">15</text></g>
<g><text class="m r n" transform="matrix(0.7947 0 0 0.8705 1721.77 727.38)">(</text><text class="m b n" transform="matrix(0.8232 0 0 0.8647 1749.15 729.55)">a</text><text class="m r n" transform="matrix(0.7924 0 0 0.8701 1790.73 727.35)">)</text></g>
<g><text class="m r n" transform="matrix(0.7846 0 0 0.8583 1743.43 1468.16)">(</text><text class="m b n" transform="matrix(0.9012 0 0 0.8789 1768.85 1469.98)">b</text><text class="m r n" transform="matrix(0.7805 0 0 0.8707 1820.33 1468.47)">)</text></g>
<g><text class="m r n" transform="matrix(0.7849 0 0 0.8734 1743.43 2245.40)">(</text><text class="m b n" transform="matrix(0.8148 0 0 0.8341 1769.06 2246.97)">c</text><text class="m r n" transform="matrix(0.7842 0 0 0.8568 1806.38 2245.33)">)</text></g>
<g><text class="m r n" transform="matrix(0.7849 0 0 0.8734 1743.43 3021.40)">(</text><text class="m b n" transform="matrix(0.8849 0 0 0.8762 1768.89 3022.38)">d</text><text class="m r n" transform="matrix(0.7809 0 0 0.8745 1820.32 3021.44)">)</text></g>
<g><text class="m r x" transform="matrix(0.6674 0 0 0.5973 890.09 727.51)">λ</text><text class="m r x" transform="matrix(0.6704 0 0 0.6078 910.86 1468.34)">λ</text><text class="m r x" transform="matrix(0.6704 0 0 0.6078 910.86 2245.94)">λ</text><text class="m r x" transform="matrix(0.6704 0 0 0.6078 910.86 3022.14)">λ</text></g>
<g><text class="m r x" transform="matrix(0.6021 0 0 0.5509 86.47 662.80)">0</text><text class="m r x" transform="matrix(0.4391 0 0 0.5669 283.12 662.43)">1</text><text class="m r x" transform="matrix(0.5993 0 0 0.5521 472.23 662.67)">2</text><text class="m r x" transform="matrix(0.5306 0 0 0.5548 664.67 662.82)">3</text><text class="m r x" transform="matrix(0.5516 0 0 0.5552 856.06 662.67)">4</text><text class="m r x" transform="matrix(0.5524 0 0 0.5529 1047.97 662.76)">5</text><text class="m r x" transform="matrix(0.5664 0 0 0.5603 1241.23 662.82)">6</text><text class="m r x" transform="matrix(0.5832 0 0 0.5502 1431.31 662.45)">7</text><text class="m r x" transform="matrix(0.5134 0 0 0.5511 1626.58 662.75)">8</text></g>
<g><text class="m r x" transform="matrix(0.5890 0 0 0.5504 52.86 612.21)">0</text><text class="m r x" transform="matrix(0.5581 0 0 0.5596 0.00 399.80)" x="24.9 73.8 94.4">0.5</text><text class="m r x" transform="matrix(0.4334 0 0 0.5434 56.34 187.04)">1</text></g>
<g><text class="m r x" transform="matrix(0.6058 0 0 0.5513 107.26 1403.26)">0</text><text class="m r x" transform="matrix(0.4433 0 0 0.5662 303.71 1403.83)">1</text><text class="m r x" transform="matrix(0.6028 0 0 0.5524 492.89 1403.05)">2</text><text class="m r x" transform="matrix(0.5306 0 0 0.5550 685.25 1403.19)">3</text><text class="m r x" transform="matrix(0.5477 0 0 0.5552 877.03 1403.05)">4</text><text class="m r x" transform="matrix(0.5561 0 0 0.5533 1068.68 1403.20)">5</text><text class="m r x" transform="matrix(0.5664 0 0 0.5606 1261.86 1403.25)">6</text><text class="m r x" transform="matrix(0.5829 0 0 0.5502 1451.91 1403.85)">7</text><text class="m r x" transform="matrix(0.5141 0 0 0.5512 1647.40 1403.18)">8</text></g>
<g><text class="m r x" transform="matrix(0.5924 0 0 0.5508 73.64 1353.63)">0</text><text class="m r x" transform="matrix(0.5581 0 0 0.5597 0.00 1140.19)" x="62.0 110.9 131.5">0.5</text><text class="m r x" transform="matrix(0.4384 0 0 0.5417 76.84 928.44)">1</text></g>
<g><text class="m r x" transform="matrix(0.6058 0 0 0.5513 107.26 2180.05)">0</text><text class="m r x" transform="matrix(0.4433 0 0 0.5662 303.71 2180.67)">1</text><text class="m r x" transform="matrix(0.6028 0 0 0.5524 492.89 2179.83)">2</text><text class="m r x" transform="matrix(0.5306 0 0 0.5550 685.25 2179.97)">3</text><text class="m r x" transform="matrix(0.5477 0 0 0.5552 877.03 2179.83)">4</text><text class="m r x" transform="matrix(0.5561 0 0 0.5533 1068.68 2180.02)">5</text><text class="m r x" transform="matrix(0.5664 0 0 0.5606 1261.86 2180.03)">6</text><text class="m r x" transform="matrix(0.5829 0 0 0.5502 1451.91 2180.65)">7</text><text class="m r x" transform="matrix(0.5141 0 0 0.5512 1647.40 2179.98)">8</text></g>
<g><text class="m r x" transform="matrix(0.5924 0 0 0.5508 73.64 2129.42)">0</text><text class="m r x" transform="matrix(0.5581 0 0 0.5597 0.00 1916.97)" x="62.0 110.9 131.5">0.5</text><text class="m r x" transform="matrix(0.4384 0 0 0.5417 76.84 1705.22)">1</text></g>
<g><text class="m r x" transform="matrix(0.6058 0 0 0.5513 107.26 2956.63)">0</text><text class="m r x" transform="matrix(0.4433 0 0 0.5662 303.71 2957.27)">1</text><text class="m r x" transform="matrix(0.6028 0 0 0.5524 492.89 2956.43)">2</text><text class="m r x" transform="matrix(0.5306 0 0 0.5550 685.25 2956.57)">3</text><text class="m r x" transform="matrix(0.5477 0 0 0.5552 877.03 2956.43)">4</text><text class="m r x" transform="matrix(0.5561 0 0 0.5533 1068.68 2956.62)">5</text><text class="m r x" transform="matrix(0.5664 0 0 0.5606 1261.86 2956.61)">6</text><text class="m r x" transform="matrix(0.5829 0 0 0.5502 1451.91 2957.25)">7</text><text class="m r x" transform="matrix(0.5141 0 0 0.5512 1647.40 2956.55)">8</text></g>
<g><text class="m r x" transform="matrix(0.5924 0 0 0.5508 73.64 2906.03)">0</text><text class="m r x" transform="matrix(0.5581 0 0 0.5597 0.00 2693.59)" x="62.0 110.9 131.5">0.5</text><text class="m r x" transform="matrix(0.4384 0 0 0.5417 76.84 2480.87)">1</text></g>
</g>
</svg>
</body></html>
